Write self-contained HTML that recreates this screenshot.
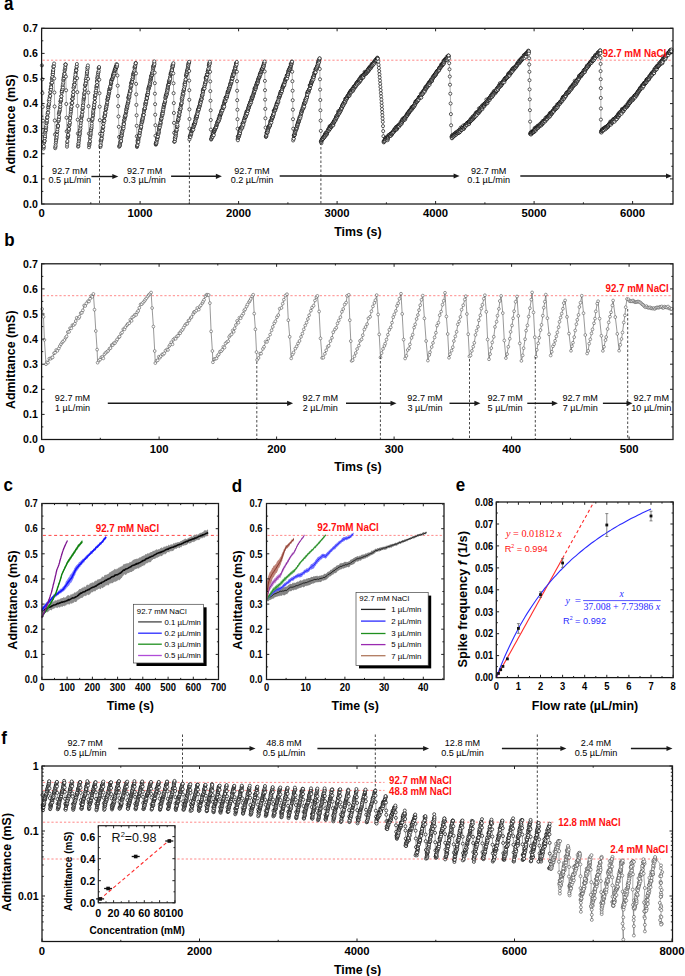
<!DOCTYPE html>
<html><head><meta charset="utf-8"><title>Figure</title>
<style>html,body{margin:0;padding:0;background:#fff;width:685px;height:976px;overflow:hidden;font-family:"Liberation Sans",sans-serif}svg{display:block}</style>
</head><body>
<svg width="685" height="976" viewBox="0 0 685 976" font-family="Liberation Sans, sans-serif"><defs>
<marker id="ma" markerUnits="userSpaceOnUse" markerWidth="6" markerHeight="6" refX="3" refY="3" overflow="visible"><circle cx="3" cy="3" r="1.55" fill="#fff" stroke="#000" stroke-width="0.62"/></marker>
<marker id="mb" markerUnits="userSpaceOnUse" markerWidth="6" markerHeight="6" refX="3" refY="3" overflow="visible"><circle cx="3" cy="3" r="1.4" fill="#fff" stroke="#4a4a4a" stroke-width="0.55"/></marker>
<marker id="mf" markerUnits="userSpaceOnUse" markerWidth="6" markerHeight="6" refX="3" refY="3" overflow="visible"><circle cx="3" cy="3" r="1.5" fill="#fff" stroke="#000" stroke-width="0.65"/></marker>
<marker id="mf2" markerUnits="userSpaceOnUse" markerWidth="6" markerHeight="6" refX="3" refY="3" overflow="visible"><circle cx="3" cy="3" r="1.5" fill="#fff" stroke="#333" stroke-width="0.5"/></marker>
</defs><rect width="685" height="976" fill="#fff"/><text x="0" y="0" font-size="17" font-weight="bold" transform="translate(4 10.2) scale(1 1.15)">a</text>
<line x1="42.6" y1="60.2" x2="672" y2="60.2" stroke="#ff6b6b" stroke-width="0.8" stroke-dasharray="2.2 2"/>
<path d="M41.9 65.4 42.2 79.3 42.4 93.1 42.7 106.9 43 120.7 43.2 134.5 43.6 148.5 43.6 147 43.8 146.2 44.1 142.9 44.2 141.6 44.4 140.7 44.6 141 44.8 137.7 44.7 138.2 45 136.1 45.2 133.6 45.3 132 45.6 130.7 45.9 130.1 46.1 127.7 46 127.3 46.2 125.6 46.5 123.3 46.5 122.9 46.9 121.5 47 120.4 46.9 117.9 47.4 116.8 47.4 117.3 47.5 114.2 47.8 112.3 48.1 112.6 48.3 109.3 48.4 107.3 48.3 107.1 48.6 105.3 48.7 104.8 48.9 103.9 48.9 100.5 49.4 101.6 49.6 97.7 49.4 99.3 49.8 95.9 50.2 95.9 50.2 92.6 50.4 92 50.6 89.4 50.8 89 51.1 89.5 51.1 86 51.2 87.2 51.2 83.4 51.7 83 52 82.6 51.9 79.7 52.2 78.5 52.4 77.4 52.4 76.8 52.6 74 52.9 74.3 52.9 71 53.1 72.1 53.3 69.8 53.4 67.1 53.5 65.9 53.9 66.4 54.1 63.5 54.2 78.5 54.4 92.5 54.6 106.5 54.8 120.5 55 134.5 55.2 148.2 55.4 146.9 55.6 145.7 55.7 143.6 56 141.9 56.1 139.4 56.2 140 56.5 138.2 56.6 137 56.4 133.6 57 134.8 57.1 132 57.3 131.3 57.4 129.2 57.7 125.8 57.8 127 57.9 125.3 58.1 126 58.2 121.3 58.6 120.8 58.8 118.6 58.8 119.4 59.1 116.8 58.8 114.1 59.2 112.7 59.3 111.6 59.8 110.6 59.9 109.5 60 107.3 60.4 106.6 60.3 104.2 60.4 101.3 60.7 101.5 61 100.8 61.1 99.4 61 99.5 61.3 96.2 61.4 96.3 61.8 92.9 61.8 91.3 61.9 91.2 62.4 89.2 62.6 89.3 62.6 86.3 62.9 87.5 62.9 84.5 63.2 82.7 63.2 80.4 63.6 79.3 63.6 77.7 63.9 78.3 64 76.2 64.1 73.7 64.3 75.6 64.6 73.9 64.6 70.6 64.9 69.6 65.2 68.2 65.3 67 65.5 64.3 65.6 64.8 65.6 64.6 65.9 76.6 66.1 90.3 66.3 104 66.5 117.7 66.7 131.3 67 146.7 67.1 144.6 67.2 142.2 67.4 141.1 67.6 137.6 67.9 137.2 67.8 136.4 68.2 135.3 68.2 134.8 68.5 131 68.7 130.4 68.7 128.8 68.9 128.9 69.1 125.3 69.2 125.5 69.5 124.6 69.7 122.9 69.9 122.5 69.8 119.5 70.1 116.9 70.2 118.1 70.5 114.5 70.8 112.6 70.9 111.3 71.1 109.3 71 108.7 71.5 106.9 71.5 106.6 71.5 103.2 72.2 103.1 72.2 102.9 72.2 99.1 72.5 98.9 72.6 98.8 72.9 96.4 72.9 95.3 73.1 94.8 73.3 91.7 73.4 91.9 73.8 87.4 73.5 87.9 74 86.5 74.2 84.2 74.4 84.4 74.6 84.7 74.6 81.4 75 79.2 74.9 80.2 75.2 77.4 75.2 76.7 75.6 73.1 75.5 74.7 76 70.8 76.1 69.4 76.2 70.5 76.3 70.3 76.6 67.1 76.7 66.4 76.9 64 77.1 78.2 77.3 92.1 77.5 105.9 77.7 119.7 77.9 133.5 78.1 146.7 78.4 146 78.3 144.2 78.6 143.3 78.8 141.3 79 139.7 79 138.3 79.4 136.3 79.5 134.8 79.5 133.3 79.8 133.8 80.1 131.5 79.8 130.1 80.5 128.6 80.3 126.5 80.7 125.4 80.9 122.8 81.1 120.5 81.3 120.3 81.5 117.4 81.4 116.5 81.8 116 82 114.7 82.2 112.4 82.5 111.7 82.4 109 82.9 108.5 82.8 107.5 82.9 104.9 83.1 105.3 83.4 102.5 83.4 100.7 83.7 99.2 83.8 98.4 84 97.3 84 96.6 84.1 94.3 84.2 93.3 84.7 92.1 84.8 89.6 84.8 88.8 85.2 85.6 85.2 84.9 85.3 84.6 85.8 82.4 85.8 83.3 85.8 79.7 86.1 80.5 86.2 78.1 86.6 76.1 86.8 74.2 87 72.1 87 73.2 87.1 71.6 87.4 69.3 87.4 67.5 87.7 67.6 87.9 65.4 88.1 78.9 88.3 92.6 88.5 106.2 88.7 119.9 88.9 133.6 89 147.3 89.3 145.2 89.4 144.4 89.3 143 89.8 142.2 90 141.2 90 138.3 90.3 137.2 90.6 135.1 90.5 134.1 90.8 132.7 91 130.5 91 130.3 91.3 128.6 91.5 127.8 91.7 125.8 91.8 123.5 92 120.5 92.2 120.1 92.1 118.7 92.6 118.9 93 116.3 93 115.1 93.2 113.3 93.2 112.1 93.3 110.7 93.5 108.7 94 108.1 93.9 107.1 94.1 104.5 94.3 104.8 94.5 102.2 94.8 102 94.8 98.5 94.9 98.3 95 95.9 95.2 95.2 95.6 95 95.7 91.9 95.9 92.3 96 90.4 96.3 87.6 96.6 88.1 96.6 86.2 96.7 85.4 97.1 85.1 96.9 81 97 82.2 97.3 78.5 97.5 78.2 97.6 76.9 97.7 75.4 98.1 74.2 98.2 72.4 98.4 72.3 98.8 70.6 98.7 68.2 98.8 67.9 99.1 67 99.3 79.7 99.5 93.2 99.7 106.7 99.9 120.2 100.1 133.8 100.4 147 100.7 145.4 100.6 145.2 100.6 140.8 101 142.5 101.2 140.6 101.4 139.6 101.6 138.1 101.6 138.5 101.7 135.6 102.1 135.3 102.3 133.7 102.4 131.3 102.5 130.3 102.7 130.8 102.8 127.9 103.1 127.2 103.3 126.7 103.3 123.2 103.5 123.5 103.8 121.2 103.8 120.6 104.1 120.3 104.4 120.7 104.2 117.3 104.6 116.3 104.8 115.5 104.9 116.1 105 112.5 105.1 113.6 105.5 112.8 105.7 109.2 106.1 109.4 105.9 109.1 106.2 107.2 106.2 107.5 106.5 105.4 106.6 105.9 106.9 104.2 107 102.9 107.3 102.2 107.3 99.7 107.4 99.3 107.8 99.1 107.8 96.9 108 97.4 108.2 97.8 108.4 96.2 108.3 95.8 108.7 93.9 109 93.6 109 92.5 109 91 109.4 91.3 109.5 89.1 109.6 88.8 110.1 88 110.4 88.2 110.2 87.4 110.5 85.9 110.3 86.4 110.9 84.1 111.2 83.4 111.1 83 111.3 81.7 111.3 80.4 111.2 81.5 111.7 79.8 112.2 79.1 112.1 79.2 112.2 79 112.5 78.5 112.7 77.3 112.9 76.9 113 75.8 113.1 75 113.5 76.1 113.4 74.1 113.7 73 114 74.8 114.1 72.6 114.2 72.2 114.5 73.2 114.5 71.3 114.7 70.6 114.8 69.8 114.8 70 115.3 69.9 115.3 67.9 115.7 68.7 115.8 68.5 115.9 66.3 116 66.3 116.2 66.8 116.5 66.5 116.5 64.1 116.8 66.4 117 66.5 117.1 64.7 117.4 75.5 117.7 85.7 118 96 118.2 106.2 118.5 116.5 118.8 126.8 119.1 137 119.2 146.8 119.4 145.7 119.7 146 120 144.8 120 143.5 120.4 142.2 120.5 141.7 120.6 139.7 121.1 141 120.7 137 121.2 138.1 121.4 136.2 121.3 136.4 121.7 135.2 121.7 135.3 121.7 133.5 122.1 132.7 122.2 131.2 122.4 131.5 122.6 129.8 122.9 128.9 123.2 126.9 123.1 127.7 123.6 128.3 123.5 125.9 123.5 123.9 123.8 123 124 124.1 124 120.6 124.4 120 124.6 119.4 124.7 117.8 124.8 117.3 124.9 116.5 125.4 116.3 125.4 115 125.5 115.5 125.8 113.4 126 112.3 126.2 111.8 126.2 111.2 126.4 109.2 126.5 109.4 126.8 108.5 126.8 107.1 127.1 106.1 127.4 106.5 127.4 105 127.8 103.1 127.8 103.6 128.2 102.9 128.3 101.6 128.4 100.9 128.1 97.5 128.7 99 128.7 97.8 129 95 129.2 97.4 129.4 96.6 129.5 94.8 129.7 92.3 129.6 93.7 130.1 90.6 130.3 91.5 130.4 89.5 130.5 91 130.8 87.4 130.6 86.6 131.1 86.3 131.1 83.4 131.4 85.1 131.5 83.1 131.6 82.1 131.8 82 132 81.2 132.3 81.9 132.3 79.4 132.7 78.6 132.7 78.8 133 76.7 132.8 76.6 133.3 74.4 133.4 74.6 133.5 73.5 133.7 73.8 133.8 72.6 134.2 72.3 134.3 71.6 134.5 70.5 134.6 67.5 134.8 68.6 134.7 67 135.1 66.8 135.3 65.8 135.6 63.9 135.7 63 135.8 63.2 136 73.4 136.1 83.9 136.2 94.4 136.4 104.9 136.6 115.3 136.7 125.8 136.8 136.3 137 147 137 146.1 137.3 145.3 137.5 145 137.7 142.8 137.5 140.6 137.8 141.7 138.5 139.8 138.4 142 138.5 138.4 138.4 137.5 138.9 136.4 139 136.3 139.2 134.9 139.3 134.4 139.6 135.7 139.8 132.7 139.9 132.7 140.1 130.6 140.5 129.2 140.2 130.2 140.8 127.8 140.9 126.9 140.9 127.4 141 125.2 141.2 126.7 141.7 122.1 141.5 124 141.7 122.3 142 120.5 142.3 121.8 142.3 120.5 142.5 119.2 142.6 118 142.6 119.1 142.9 117.7 143.2 115.8 143.4 114.4 143.4 114.8 143.7 115.1 143.9 112 144 111.7 144.2 109.9 144.4 109.2 144.7 108.9 144.7 108.7 144.8 108.1 145.3 105.2 145.3 105.7 145.5 103.8 145.4 103 145.8 103.8 145.9 101.1 146.1 102.3 146.2 101.3 146.4 98.6 146.9 99.1 146.8 97.2 147 98 147.2 95.2 147.3 94.7 147.4 94.5 147.8 93.8 147.8 94.6 147.9 92.3 148.2 92 148.4 89.1 148.3 89.8 148.7 87.6 148.7 88.5 148.9 87.7 149.2 86.8 149.4 86 149.7 85.9 149.5 85 149.8 83.8 150 83.7 150.1 81.7 150.6 81.3 150.5 79.8 150.7 79.5 151 78.8 150.8 78.1 151.1 77.2 151.3 75.8 151.8 75.4 151.6 75.7 151.6 75.2 152.1 74.8 152 73 152.5 72.9 152.6 71.5 152.9 69.7 153.1 67.5 153.1 68.3 153.5 66.1 153.5 67.2 153.6 65.8 153.7 65.8 153.8 65 154.2 62.7 154.5 64 154.3 61.4 154.7 72.7 154.8 83.2 154.9 93.7 155.1 104.2 155.2 114.7 155.4 125.2 155.5 135.8 155.8 144.7 155.7 143.6 156.1 144.1 156.2 143.5 156.2 141.9 156.4 143.1 156.7 141.6 156.9 139.9 157 139.4 157.4 138.9 157.4 137 157.8 137.1 157.8 136.5 157.9 134.1 158 133.6 158.3 132.6 158.5 134 158.8 132.6 158.8 131.5 158.9 129.8 159.1 129 159.3 127.8 159.1 127.4 159.6 125.7 159.8 127.5 160.1 124.6 160.3 125.2 160.6 123.5 160.6 122.7 160.5 122 161 119.9 161.1 118.7 161 119.7 161.3 119 161.6 118.3 161.7 116.4 161.9 115.7 162.1 114.9 162.1 113.4 162.6 114.7 162.7 112.5 162.7 113.2 162.7 110.9 163.2 110.6 163.4 108.4 163.3 109.3 163.7 107.2 163.6 106.7 164 105.4 164 104.8 164.4 104.2 164.2 104.1 164.7 102.5 164.9 102 165 101.7 165.2 100.6 165.3 98.2 165.7 97 165.7 97.3 165.8 95.6 165.9 96.4 166.3 95.1 166.4 94.3 166.5 94.1 166.8 94.4 166.7 92.7 166.9 92.2 167.3 90 167.5 91.1 167.5 88.4 167.6 89.7 167.9 88.1 167.8 87.1 168 85.8 168.3 84.4 168.5 85 168.9 84.1 169 82.1 168.9 81.8 169.2 81.7 169.5 81.3 169.5 80.3 169.5 79.8 170.1 77.6 170 77.2 170.3 78.9 170.5 74.7 170.8 74.2 170.7 73.2 171.1 72.5 171.1 74 171.3 73.1 171.4 70.6 171.8 72.2 172 69.2 172.1 70 172.4 66.2 172.4 67.5 172.6 66.6 172.7 64.8 172.9 66.2 173.1 64.6 173.4 63.2 173.3 73.4 173.5 83.3 173.6 93.2 173.8 103.1 173.9 113 174 122.9 174.2 132.8 174.2 141.8 174.7 141.5 174.7 141.2 175 138.7 174.8 138.3 175.2 138.9 175.6 136.5 175.6 136.6 175.5 134.2 175.9 134.6 176 133.3 176.1 131.5 176.3 130.5 176.6 130.5 176.7 129.5 176.9 126.6 177.1 127.2 177.3 126.4 177.4 126.3 177.4 124.6 177.6 121.6 178 120.7 177.9 120 178.4 119.3 178.4 119.4 178.6 116.2 178.6 117.8 178.9 116.1 179.3 115.4 179.3 114.9 179.3 112.3 179.8 111.7 179.6 112.9 179.7 111.7 179.9 109.4 180.4 108.4 180.4 109.3 180.7 108.7 180.7 106.7 181 105 181.1 104.5 181.3 103.7 181.5 103.3 181.6 103 181.8 98.7 182 100.6 181.9 99.4 182.4 98.3 182.5 96.3 182.5 96.6 182.8 93.6 182.7 94.7 183.4 94.2 183.3 93.1 183.5 90.9 183.5 90.5 184 90.2 184.1 89 184.1 88.9 184.5 86.3 184.6 86.6 184.6 84.4 184.7 83.4 185 83.6 185.2 84.4 185.2 82 185.6 80.5 185.8 79.6 185.7 79.4 186.1 76.1 186.1 75.7 186.4 74.9 186.6 74.2 186.6 72.8 186.7 73.8 187 71 187.1 72.1 187.2 70.7 187.5 69.6 187.6 69 187.9 67.6 188.1 66.6 188 65.5 188.3 65.4 188.4 63.4 188.7 63.8 189 62.6 189.2 61.8 189.2 71 189.2 80.6 189.3 90.2 189.3 99.8 189.4 109.4 189.5 119 189.5 128.6 189.4 139.5 189.8 136.7 190 136.8 190 136.4 190.2 135.5 190.5 134.9 190.5 137 190.8 133.8 191 134.7 191.1 134.2 191.3 133.2 191.5 131.5 191.9 130.6 191.9 130.3 192 131.1 192.1 130.9 192.3 130.3 192.6 128.3 192.4 129.6 192.8 128.7 192.9 129.1 193.3 129.6 193.7 127.1 193.5 126.5 193.7 124.7 193.8 125.3 194.2 125.4 194.4 123.4 194.4 124.1 194.7 124 194.8 123.9 195.1 121.1 195.2 122.4 195.1 121.6 195.5 121.6 195.5 118.4 195.7 119.9 196 116.5 195.9 118.6 196.4 118.1 196.4 115.3 196.5 116.9 196.9 117.4 197.1 116.1 197 116 197.2 113.7 197.4 112.7 197.7 113.8 197.6 111.4 198 109.9 197.9 110.2 198.3 110.9 198.3 108.7 198.4 109.8 198.9 108.7 198.9 109.3 199.3 106.7 199.3 106 199.4 107 199.7 105.9 200 104.7 199.9 103.8 200.3 102 200.3 102.6 200.4 103.7 200.6 100.6 200.9 101.9 201.1 99.9 201.4 98.9 201.5 99.5 201.6 99 201.7 97.3 201.9 95.9 202.2 95.1 202.2 95.3 202.3 95.4 202.6 94.2 202.8 90.8 202.8 92 203 92.6 203.1 91.1 203.4 89.2 203.3 89 203.8 89.2 204 88.3 204.1 87.5 204.2 88.7 204.5 88.4 204.6 85.4 204.7 85.7 205.2 82.6 205.3 83.6 205.1 84.2 205.4 82.5 205.7 81.8 205.7 77.9 206 79.8 206.3 79.1 206.2 76.8 206.5 77.5 206.5 76.6 206.6 77.7 207 74.9 206.9 74.6 207.3 74.2 207.4 74.3 207.7 71.7 207.9 71.6 208 71.3 208.3 70 208.3 69.3 208.5 68.6 208.8 65.7 209.2 66.6 208.9 64.9 209.3 64.7 209.5 62.9 209.4 63.1 209.8 63.7 209.8 61.7 210.1 71.8 210.2 81.4 210.3 91.1 210.5 100.7 210.7 110.3 210.8 120 210.9 129.6 211.1 139.6 211.3 138.8 211.3 138.7 211.8 136.9 211.9 137.7 212 136.8 212 136.3 212.4 135.8 212.7 136.7 212.9 133.7 212.9 133.3 212.9 135 213.2 135 213.4 133.8 213.8 135.2 213.6 131 213.9 131.9 214 131.9 214.1 131.8 214.3 131.1 214.4 130.5 214.7 130.3 214.7 129.4 215.1 129.1 215.1 128.5 215.3 129 215.7 127.5 215.6 127.9 215.9 127 215.9 127.6 216.3 126.5 216.3 127 216.4 125 216.8 124.9 216.8 124.7 217 124.2 217.1 123.4 217.2 122.3 217.6 122.9 217.7 121.4 217.8 121.4 218.3 120.7 218.3 121.3 218.5 121.3 218.6 118.9 218.8 120.5 219.1 118 218.9 117.8 219.4 118.7 219.6 118.7 219.7 115.5 219.7 115.7 219.9 117.3 220.1 115.9 220.3 114.6 220.5 114.6 220.9 114.3 220.8 113.4 220.9 113.5 221.2 111.6 221.2 113.3 221.4 111.9 221.5 110.4 221.8 110.4 222 111.4 222.2 109.9 222.4 109.7 222.4 110.3 222.8 107.7 222.8 107.9 222.8 106.4 223.3 107.6 223.2 105.8 223.7 107.5 223.6 105.2 224 104.8 224.2 106.6 224 103.1 224.2 102.6 224.6 101.8 224.6 100.3 225 101.7 225 101.8 225.2 101 225.5 101.1 225.6 99.2 225.7 97.6 225.8 97.5 225.8 97.4 226.2 97.4 226.3 97.5 226.5 96.8 226.7 97.9 226.9 95.9 227.1 95.8 227.2 93.7 227.6 94.3 227.7 92.4 227.7 91.7 228.1 92.3 228.1 92.1 228.3 90.8 228.6 90.8 228.7 90.2 228.9 88.5 228.8 88.3 229.1 89.5 229.5 87.4 229.5 88.3 229.6 87.5 229.9 86.4 230.1 85.4 230.3 85.9 230.3 83.7 230.4 83.5 230.6 84.3 231.2 83.4 231.2 82.7 231.2 81.5 231.3 80.4 231.6 79.7 231.8 81.3 231.9 78.9 232 77.4 232.3 77.8 232.5 78.4 232.4 78.3 232.6 76 232.7 76 232.9 75.3 233 74.4 233.4 73.8 233.6 73.5 233.6 72.9 233.9 74.7 234 72.6 234 70.8 234.3 71.3 234.6 71 234.7 69.6 235 69.7 235.2 68.8 235 67.2 235.4 68 235.7 66.1 235.9 65.1 235.9 65.6 236.1 63.9 236.1 63.1 236.4 62.8 236.7 64.5 236.8 61.9 236.9 71.7 237 81.2 237.1 90.7 237.2 100.2 237.4 109.7 237.5 119.2 237.6 128.7 237.6 139.2 237.8 136.4 237.9 140.3 238.2 137.8 238.3 136.7 238.7 136.6 239 136.6 238.8 135.3 239.1 133.7 239.3 134.8 239.3 135 239.5 132 239.8 133.6 239.9 131.2 240 133.1 240.3 130.7 240.4 128.9 240.6 130.5 240.7 128.5 240.6 127.9 241 127.9 241.4 127.7 241.4 128.7 241.7 127 241.7 127.5 242.3 127.9 242.1 125.9 242.4 126.6 242.6 125.2 242.6 123.5 242.7 123.2 242.9 123.6 243.2 123.9 243.5 122.5 243.4 124.8 243.6 122.2 243.9 120.5 243.9 120.4 244.2 119.5 244.3 121.1 244.4 120.2 244.7 118.4 244.7 117.9 244.9 117.7 245.3 116.7 245.5 115 245.5 116.8 245.7 116.4 246 113.4 245.9 116.6 246.3 115.3 246.4 113.7 246.5 111.6 247 113.5 246.8 111.9 246.9 113.5 247.2 113.4 247.5 110.8 247.5 110.4 248 110.5 247.9 110.9 248.2 108.9 248.3 108.7 248.4 107.2 248.6 107.8 248.7 107.8 249 106.7 249.3 104.8 249.3 105.9 249.5 104.8 249.6 104.5 249.7 104.5 250.1 102.8 250.2 102.5 250.2 102.4 250.5 103.7 250.6 101.5 251 102 251.2 102.3 251.4 99.6 251.3 100.4 251.5 99.7 251.6 99 251.7 97.3 252.1 98.3 252.1 97.8 252.3 96.5 252.5 97.5 252.9 96.1 253 96.4 253 95.6 253.2 94.7 253.6 93.2 253.7 94 253.8 92.1 254 93.2 254.1 92.1 254.3 91.8 254.5 90.1 254.7 90.8 254.6 88.8 254.7 88.3 255.1 88.7 255.3 87.4 255.3 88.6 255.7 88.8 255.7 87.4 255.8 86.3 256 86.6 256.4 84.3 256.2 85.4 256.6 84.6 256.8 84 257 84.1 257.1 82.6 257.2 83.2 257.3 81.8 257.5 82.1 257.9 82.7 258 81 258 79.7 258.3 80.1 258.3 78.8 258.7 78.4 258.9 77.4 259.2 77.6 259.1 77.6 259.2 77.4 259.3 76.7 259.7 76.2 259.8 74.8 259.9 74 259.9 74.8 260.2 74.9 260.6 72.5 260.7 74.2 260.8 72.4 261 72.3 261 72.3 261.5 71.4 261.5 69.6 261.7 71 261.9 69.1 262.1 69.9 262.3 69.1 262.2 68.8 262.6 67.9 262.7 68.4 262.9 66.2 263.3 67.1 263.4 65.3 263.6 66.4 263.5 66.5 263.9 64 263.8 64.9 263.9 63.5 264.3 62.6 264.5 63 264.6 61.5 264.7 71.5 264.9 80.9 265 90.2 265.1 99.6 265.3 108.9 265.4 118.3 265.6 127.6 265.9 136.5 265.9 136.9 266.2 136.4 266.3 135.8 266.4 134.8 266.5 133 266.8 132.7 266.9 132.3 267.2 132.1 267.3 132.9 267.4 132 267.5 130.3 267.5 132.3 267.8 130.7 268.2 129.8 268.3 127.9 268.3 128.5 268.8 127.8 268.5 126.7 269.1 126.6 268.9 126.1 269.3 126.6 269.4 125.5 269.7 126.1 270 125.9 270 124.3 270.1 124.9 270.1 122.7 270.3 121.1 270.6 123.3 270.9 121.4 271 121.6 271.1 121 271.4 122.5 271.5 119.6 271.7 119.8 271.8 118.8 271.8 117.4 272 117.6 272.5 117.6 272.5 117.7 272.8 116.8 272.7 116.7 273 114.9 273.3 115.1 273.3 115.1 273.6 113.7 273.8 113.8 273.8 111 273.8 110.8 274.2 110.7 274.3 111.3 274.4 111.4 274.9 110.7 274.9 108.9 275 109.9 275.4 109.9 275.4 107.9 275.5 108.4 275.8 106.3 276 107.8 276.2 107.4 276.2 106.8 276.5 105.1 276.5 104.2 276.9 103.2 277 104 277.1 104.2 277.3 104.2 277.6 102.4 277.7 101.3 277.8 101.9 278 101.4 278.2 102.3 278.2 101.5 278.4 99.7 278.6 97.8 279 97.4 279 98.6 279.1 96.6 279.3 97.2 279.5 96.7 279.8 96.2 279.9 94.6 280.1 95.2 280.1 95.1 280.2 93.4 280.4 93.1 280.6 91.9 281 92.2 281.2 93.3 281 92.7 281.5 90.9 281.2 91.2 281.7 90.6 281.8 90.4 282 91.1 282.4 87.6 282.3 89 282.7 87.8 282.6 87.1 282.9 87.1 283.2 85.5 283.4 85.8 283.6 86.1 283.6 85.7 283.6 84.1 283.7 85 284.1 83.8 284.3 83.7 284.4 84.8 284.6 82.4 285 81.4 284.8 81.9 285.1 81.6 285.2 80.1 285.3 79.3 285.7 79 286 78.8 285.9 79 286.2 77.9 286.3 79 286.6 78 286.7 75.7 286.8 76.5 287.1 78.5 287.2 75 287.2 75.4 287.6 74.7 287.8 74.2 287.8 75.8 288 72.9 288.1 74.1 288.2 71.2 288.4 72.6 288.8 71.8 288.6 70.4 289 69.2 289.4 70.4 289.2 69.6 289.5 69.6 289.7 69.4 289.9 67.4 290.4 68.8 290.2 68 290.5 66.7 290.6 66.6 290.7 64 290.9 66.3 291 65.6 291.3 64.3 291.5 64.2 291.4 63.7 291.7 62.4 291.9 61.6 292.1 61.7 292.2 71.7 292.4 81.2 292.6 90.7 292.7 100.2 292.9 109.7 293 119.2 293.2 128.7 293.1 140.5 293.6 138.6 293.7 138.7 293.9 135.7 293.9 135.5 294.2 135.5 294.4 134.6 294.4 134.6 294.7 134.4 294.7 134.8 294.9 133.2 294.9 132.5 295.3 132 295.3 130.5 295.7 130.9 296 129.7 295.9 128.7 296.2 128.5 296.5 129.2 296.4 128.5 296.6 127.8 296.9 126 297.1 125.2 297.3 126.3 297.3 125.8 297.6 124.9 297.7 123.2 297.9 123.4 297.9 124.2 298.3 122.8 298.5 121.8 298.5 121.5 298.6 120.7 298.9 121.6 299 121.2 299.2 120.1 299.3 118.9 299.4 118.7 299.7 117.7 299.6 117 300.1 117.5 300.2 118.3 300.5 115.7 300.7 116.5 300.7 114.6 301 113.5 301.1 113.6 301.3 112.6 301.5 111.6 301.6 112.6 301.8 110.7 302 110.7 301.9 110.6 302.4 109.8 302.4 109.3 302.7 107.9 302.8 108.9 302.9 107.6 303.4 108.2 303.5 105.7 303.6 105.1 303.8 107.2 303.9 104.2 304.2 106.4 304.1 103.1 304.5 103.6 304.7 103.3 304.8 102.6 304.7 102.1 305.4 102.5 305.4 100.9 305.6 99.6 305.5 99.6 305.5 99.6 306 99.2 306.1 100.4 306.4 97.3 306.3 98.3 306.5 98.6 307 96 307.1 97 307 95.1 307 93.1 307.5 94.5 307.8 92.1 307.8 91.5 308.1 92.1 308.2 92 308.2 92 308.7 92.4 308.4 91.3 308.8 90.1 309.2 89.7 309.1 89.4 309.3 89.5 309.5 88.7 309.7 85.2 310 88.1 310.1 86.1 310.3 85.7 310.5 85.2 310.7 84.4 310.7 85.2 311 84.9 311 83.1 311.5 82.8 311.2 81.7 311.6 82.4 311.7 81.8 311.9 80.3 312.1 81.7 312.2 80.4 312.2 80.3 312.5 80.4 312.4 79.7 312.8 77.3 313.1 78.4 313.4 79.4 313.5 77.5 313.6 76.7 313.7 75.7 313.7 76.9 314.2 74.8 314.3 74.8 314.5 73.7 314.4 72.5 314.7 72.6 314.8 72.6 315 72.5 315.6 72.3 315.4 69.4 315.5 69.7 315.6 72.3 316.1 69.3 316 68.9 316.2 68.6 316.4 69.1 316.5 67.8 316.7 67.7 317.1 66.2 317.4 66.1 317.3 66.9 317.5 66 317.7 64.4 317.8 63 318 64.6 318.1 62.8 318.5 61.8 318.6 63.3 318.5 60.7 318.8 60.9 319.2 61.8 319.1 59.9 319.4 59.3 319.6 58.5 319.6 58.3 319.8 69 320 79.3 320.1 89.6 320.3 100 320.4 110.3 320.6 120.6 320.8 130.9 320.9 141.6 321.4 143.2 321.1 141.1 321.4 141.9 321.5 140.2 321.6 140.3 321.9 140.3 322.2 140 322.3 139.4 322.6 138.7 322.6 138.3 322.7 138.6 323 138.5 323.1 137.8 323.1 138.8 323.6 137.3 323.4 137 323.8 137.2 324 137.5 324 136.7 324.4 137.3 324.3 135.8 324.8 136.6 324.8 135.1 324.9 134.1 325.3 135.9 325.4 134.9 325.4 134.5 325.6 135.2 325.7 133 326 132.7 326.2 134.4 326.2 132.9 326.6 134.7 326.8 133.7 326.8 134.1 326.8 133 327.2 132.3 327.2 132.3 327.3 131.4 327.8 130.9 328 129.8 328.1 130.6 328 130.6 328.5 129.2 328.4 130.3 328.8 128.7 329 130.5 329.1 127.9 329.2 128.8 329.6 129.3 329.6 126.2 329.9 128.5 330 128.3 330 127.2 330.3 128.4 330.5 126.7 330.4 126.1 330.7 126.5 331 126.5 331.1 127.1 331.3 127 331.4 126.5 331.5 125.5 331.7 124.5 332 124.5 332.1 125.7 332.3 125.3 332.7 124.6 332.9 124.5 332.6 123.5 333.1 125.4 333.3 124.9 333.4 122.3 333.5 123.1 333.6 122.4 333.8 122.8 333.9 121.2 334 121.5 334.2 122 334.6 121.3 334.6 120.6 334.8 120 335.1 119.9 334.9 119.4 335.5 120.5 335.9 119.3 335.6 119.1 336 117.4 336.1 116.7 336.3 118 336.3 118.2 336.5 117.7 336.7 116.3 336.8 116.3 336.7 115.6 337.3 116.1 337.6 116.4 337.8 115.1 337.9 114.2 337.8 114.7 338 114.5 338.2 113.8 338.2 111.3 338.5 112.4 338.9 113.2 338.8 112.7 339.1 112 339.3 113.6 339.4 112.5 339.7 111 340.1 111.3 339.9 110.4 340.1 110.2 340.1 111.8 340.8 110.8 340.6 109.5 341 109.5 341.2 108.7 341.4 107.8 341.4 108.2 341.5 108.1 341.6 108.8 341.8 107.8 342.1 105.8 342.3 105.5 342.5 105.4 342.7 106.3 342.6 105.7 343.2 104.2 343.3 105.6 343.1 103.8 343.4 103.9 343.5 103.5 343.7 104.5 344 102.5 344.2 102.3 344.2 103.3 344.6 101.9 344.7 101.8 345.1 101.4 344.9 102.9 345.1 99 345.3 102 345.3 101.3 345.8 99.7 345.9 99.2 346 98.5 346.1 99.6 346.2 98.3 346.4 98.8 346.5 99.2 346.7 97.8 347.2 97.5 347.1 97.1 347.1 98 347.3 96.5 347.5 96.3 347.8 96.2 347.9 95.3 348.2 96.2 348.6 95.6 348.4 95.6 348.7 95.4 348.9 94.7 349.4 95.8 349.2 93 349.4 95.2 349.2 93.7 349.5 93.7 350.1 93.2 349.8 92.5 350.3 92 350.4 93.1 350.5 91.4 350.6 92.3 350.6 91.2 350.9 90.7 351 90.9 351.3 92.1 351.3 90.5 351.6 90.4 351.9 89.7 352.1 90 352.2 88.8 352.7 90 352.7 89.7 352.8 90 352.9 91 352.9 89.5 353.4 89.9 353.2 88.2 353.5 86.9 353.8 88.3 353.7 88.7 354.3 88.2 354.1 86.6 354.5 86.2 354.6 86.5 354.7 86.3 354.9 87.1 355.2 86.4 355.5 86.9 355.4 86.2 355.7 84.9 355.7 85.5 355.8 85.7 356.3 83.8 356.4 83 356.6 84 356.6 83.3 357.2 83.5 356.8 84.9 357.3 84 357.3 82.1 357.5 82.3 357.6 82.4 357.9 82.4 358.4 81.2 358.3 83.3 358.5 81.6 358.7 80.6 358.6 80.5 359.1 82.3 358.9 79.8 359.3 79.5 359.5 82.1 359.7 80.7 359.6 80.3 359.9 80.8 360 78.6 360.6 80.6 360.5 77.5 360.4 79.2 360.8 79.8 360.8 77.4 361.1 78.2 361.3 78.2 361.4 76.1 361.8 76.9 361.8 77.6 362.1 78.2 362 77.4 362.2 76.7 362.4 77.4 362.6 75.2 362.6 75.7 363.2 77.5 362.9 76.1 363.4 75.6 363.4 76.7 363.5 74.9 364 74.3 363.9 74.4 364.1 74.6 364.4 74.4 364.7 74.4 364.6 71.9 365 73.5 365 73 365.3 73.7 365.4 72.6 365.6 73.6 365.7 72.1 366.2 72 366.1 73.8 366 73 366.5 72.1 366.4 71.7 366.6 72.6 366.8 71.3 367.3 72.3 367.2 71.6 367.3 71.1 367.5 70.5 367.6 69.8 368.2 71.3 368.2 70 368.3 68.8 368.2 69.5 368.7 70.5 368.9 68.6 368.6 70.2 368.9 69.5 369.1 68.4 369.4 67.1 369.7 68.5 369.7 67.6 370.2 67 370.1 68.4 370 68.1 370.6 66.6 370.7 66.1 370.8 68.3 370.8 67 371.3 67.1 371.6 66.3 371.2 65.5 371.8 65 371.7 65.4 371.8 63.9 371.9 65.1 372.1 65.8 372.7 63.8 372.5 64.8 372.9 64.3 372.9 65.3 373.3 63.9 373.4 63.6 373.2 64.4 373.6 63 373.8 63.2 373.9 62.5 374.2 61.5 374.5 62 374.6 61.4 374.6 63.4 375 60.4 375.1 61.2 375.1 61.9 375.6 61.7 375.8 60.8 376 60.4 375.8 60.3 376.1 59.1 376.3 59.3 376.5 60.3 376.4 60.7 376.7 60.3 376.9 60.5 377.4 59 377.3 57.6 377.4 58.1 377.6 58.3 377.8 58.8 378.3 61.6 378.6 64.8 378.9 67.9 379.2 71.1 379.5 74.3 379.7 77.4 380 80.6 380.2 83.8 380.4 86.9 380.7 90.1 380.9 93.3 381.1 96.4 381.4 99.6 381.6 102.8 381.8 105.9 382 109.1 382.2 112.3 382.4 115.4 382.6 118.6 382.8 121.8 383 126.1 383.2 131.1 383.4 136.2 383.7 142.4 383.6 141.3 384 141.2 384.2 141.4 384.5 140.2 384.4 141.4 384.8 140 384.9 140 384.9 141.2 385.1 138.6 385.2 138.1 385.2 139.8 385.7 139 385.8 137.7 385.8 139.4 386.3 139.1 386.5 138.3 386.5 138 386.7 138.1 387.1 139.4 386.9 137.9 387.2 137.8 387.6 137.1 387.6 140.2 387.5 136.4 387.9 138.9 388.1 137 388.1 138 388.5 136.8 388.6 135 388.4 137.1 388.9 135.6 388.9 136.3 389 135.5 389.4 135.8 389.8 135.5 389.7 135.7 389.7 134.7 390.1 135.5 390.1 134.3 390.5 134.3 390.4 135.9 390.8 135.7 391 134.2 391 133.5 391.4 133.2 391.5 133.5 391.7 134.7 391.6 134.3 392 133.6 392.1 133.2 392.3 133.7 392.3 133.3 392.8 132.5 392.6 132.7 393.2 131.1 393.1 132.3 393.8 131.7 393.6 131.5 393.4 131.1 393.6 132.2 394 130.7 394.1 129.5 394.3 130.5 394.9 130.4 394.9 130.1 394.8 129.1 395 129.4 395.2 129.7 395.3 129.5 395.5 128.1 396 128.6 396 128.5 396.2 127.7 396 127.2 396.4 126.8 396.5 129.6 396.7 129.1 396.7 129 397.1 127.4 397.2 128 397.4 127.3 397.5 127 397.5 126.1 397.9 127 398 126.7 398.3 126.5 398.4 125 398.7 126 398.5 125.8 398.9 125.2 399.2 125.6 399.2 124.9 399.2 126.5 399.6 124.5 399.8 124 399.8 124.5 400.1 124.8 400.4 124.6 400.2 124.6 400.4 123.4 400.7 121.8 400.9 122.9 400.9 123.3 401.5 123.9 401.8 121.4 401.7 123.2 402 121.8 402.1 122 402.3 120.7 402.3 120 402.4 119.7 402.3 119.4 402.7 120.5 403.2 120.3 403.2 119.5 403.1 118.5 403.8 120.3 403.4 119.2 403.7 118.9 404.2 117.8 404.4 119.2 404.5 119.2 404.5 117.9 404.7 119.2 404.8 119.7 405.3 119.1 404.9 118.2 405.5 116.7 405.9 117.4 405.8 116.1 405.5 117.1 406.2 115.9 406.1 116.6 406.2 115.9 406.7 115.6 406.8 114.2 407.1 115 407.1 113.8 407.2 115.7 407.3 115.5 407.7 114.4 407.8 113.9 408 114.1 408.3 112.9 408.3 112.1 408.7 113.3 408.7 112.7 409 112.9 408.8 112.7 409.1 112.2 409.3 111.3 409.5 111.6 409.6 111.2 409.6 110.4 409.9 111.3 410.2 110.3 410.3 110.2 410.4 110.9 410.6 110.4 410.9 109.6 411 108.8 411 110 411.4 109.1 411.6 107.3 412 107.3 412.1 109.3 412.3 107.3 412.4 108 412.4 108.1 412.8 107.5 412.9 107.4 412.8 107 413.2 106.6 413.3 107.1 413.3 106.9 413.6 105.9 413.5 106.6 414 105.5 414.1 105.7 414.3 106.3 414.5 104.5 414.6 105.1 414.9 104.3 415 103.9 415.3 104.5 415.2 102.7 415.5 102.9 415.4 103.2 415.5 101.5 415.9 102.4 416.1 101.5 416.4 102.1 416.4 101.6 416.7 101.1 416.8 100.7 416.9 101.2 417.2 101.6 417.6 100.4 417.6 100.7 417.7 99.3 417.9 99.9 417.9 100.3 418.2 98.6 418.2 99.3 418.7 98.9 418.6 99.7 419.1 97.6 419 97 419.1 97.5 419.3 97.3 419.8 97.4 419.7 97 419.9 97 420.1 97.2 420.5 96 420.2 97.9 420.7 97 420.8 93.8 421.1 95.4 421.1 97.2 421.3 97.5 421.4 95.2 421.5 94.3 421.8 93.4 422.3 93.7 422.3 94.2 422.5 94.2 422.5 92.5 422.9 92.3 422.8 91.7 423.1 92.6 423 93.5 423.4 91.7 423.7 90.3 423.7 91.3 423.8 92.3 424 90.8 424.3 90.8 424.2 91.3 424.7 91.7 424.4 90.9 424.8 89.2 425 88.8 425.3 87.6 425.4 88.9 425.6 89 425.6 87 426 89.2 425.8 87.2 426.1 88.3 426.5 87.1 426.4 87.9 426.4 86.5 426.9 86.3 427.2 85 427.2 86.8 427.3 86.3 427.7 85.7 427.7 86.7 428 84.1 428 85.7 428 85.5 428.4 83.6 428.4 84.8 428.7 84.4 428.9 82.4 429.3 83.5 429.2 82.8 429.6 84.8 429.5 82.3 429.6 82.6 429.7 83 430.2 81.7 430.4 81.7 430.5 81.1 430.7 82 430.9 80.1 430.9 79.8 431.3 81.3 431.4 80.8 431.5 80.2 431.6 80 432.1 81 431.7 79.1 432 79.8 432 79.4 432.8 78.1 432.8 78.5 432.7 77.6 432.8 76.9 433.1 78 433.4 76.3 433.4 77.2 433.7 76.8 434.1 76 434 75.7 434.4 76.2 434.4 75.7 434.8 74.2 434.7 74.9 435.1 75.6 435.2 75.2 435.3 75.2 435.4 74 435.6 73.9 435.6 74.7 436.2 73.7 436 73.5 436.3 73.6 436.3 72 436.6 72.2 436.6 72.7 436.8 72.3 436.9 71.5 437.4 70.8 437.7 71 437.4 70.7 437.9 70.9 437.8 71.2 438.2 70.1 438.3 70.5 438.4 70.4 438.8 69.8 438.8 70.7 439 68 439.3 68.9 439.1 69.5 439.3 69.8 439.8 68.1 439.7 68.3 440.1 67.5 439.9 67.3 440 67.7 440.4 66.9 440.9 67.3 440.9 65.5 441.1 66.1 441.2 66.6 441.2 64.4 441.6 66.1 441.8 64.7 441.9 65.9 441.9 65.1 442.2 64.6 442.5 63.7 442.6 64.8 442.6 64.2 443.1 64.1 442.8 63.8 443.4 63.9 443.3 61.3 443.5 63.1 443.8 63.7 444 62.4 444.1 60.3 444.4 61.2 444.4 62.1 444.7 60.2 444.6 61 445 60.2 445.3 59 445.3 59.8 445.4 60.2 445.7 59.8 446 59.3 445.9 59.3 446.4 58.7 446.4 59.7 446.6 58.4 446.6 58.2 447.1 58.5 446.8 56.8 447.2 59.9 447.3 58.2 447.6 58.7 447.6 57.3 448.2 56.3 448.2 55.7 448.3 56.9 448.5 56.4 448.5 55.7 448.6 55.5 449 58.5 449.2 63.2 449.5 69.3 449.8 76.5 450 84.7 450.3 93.7 450.6 103.5 450.9 114.1 451.1 125.3 451.6 136.6 451.7 137.4 451.9 138.3 451.8 136.2 452.1 135.4 452.1 138 452.4 135.8 452.4 135.5 452.9 136.3 453 136.6 453.2 136.3 453.6 135.6 453.6 136.7 453.4 134.6 454.1 135.4 453.5 134.5 453.9 135.4 454.2 134.8 454.3 135.4 454.6 134.6 454.8 135.4 454.8 134.2 454.9 133.6 455.3 134 455.4 132.9 455.5 134.5 455.9 132.3 455.9 134.6 456.4 134.4 456 133.1 456.6 133.2 456.7 133.2 456.9 133.1 456.9 132.7 457.2 132.5 457.3 132.7 457.6 133.3 457.3 131.7 458.1 132.6 457.9 131.3 458.1 130.9 458.7 132.4 458.5 132 458.6 132.8 458.9 132.3 459.2 132.6 459.1 131.3 459.5 131.4 459.5 129.6 460 129.3 459.9 129.4 460.2 131.5 460.3 130.5 460.4 131.5 460.4 129.7 461 129.5 460.8 129.4 460.8 127.5 461.3 130 461.1 129.6 461.7 128.7 462 129.4 462.1 128.2 462.1 129.7 462.6 127.1 462.5 127.1 462.5 127.9 462.7 127 462.7 127.6 463.4 128.7 463.3 127.3 463.5 128.9 463.4 125.4 463.8 128.8 464 127.2 464 127.6 464.4 127.4 464.6 126.3 464.8 126.9 464.9 126.3 465 125 464.9 125.9 465.5 125.4 465.5 125.8 465.5 126.5 466 124.6 465.8 125 466 124.9 466.7 124.7 466.5 124 466.7 123.3 466.9 123.7 466.8 123.4 467.3 123 467 125.2 467.8 124 467.8 123.1 468 122.5 468 123.3 468.3 122.3 468.5 122 468.7 122.6 468.9 121.7 469.1 123.9 469.1 123.7 469.3 122.1 469.4 121.8 469.7 121.1 469.4 121.7 470 121.5 470.2 121.3 470.1 120.8 470.7 119.4 470.6 120.2 470.6 119.2 471.1 120.5 471.1 118.9 471.4 120.1 471.4 120.4 471.3 119.3 471.9 118.4 471.8 117.9 472 119.6 472.6 119.4 472.4 119 472.7 117.8 472.7 116.7 473 116.9 473.2 118.4 473.6 118.4 473.7 117.7 473.6 115.9 473.9 117.4 474.2 117.4 474.1 116.2 474.5 116.7 474.8 117.1 474.7 116.4 475.1 116.4 475.2 114.8 475.2 114.7 475.5 113.7 475.6 114.5 475.8 114.1 475.7 114.6 475.9 112.7 476.1 115.9 476.6 112.4 476.6 114.2 476.4 113.6 477 113.6 476.9 112.2 477 114.8 477.4 112.5 477.6 112.5 477.6 112.7 478 111.9 478.3 111.6 477.9 112.8 478.8 113.1 478.7 112.2 478.9 111.3 478.9 108.5 479 111 479.4 110.5 479.7 111.3 479.7 109.4 479.8 110.2 480.1 111.2 480.1 110.5 480.2 108.7 480.6 109.8 480.6 107.6 480.7 108.1 481.1 108.4 481.3 109.5 481.3 106.9 481.3 107.9 481.7 106.5 482 108.8 481.9 108.7 482.4 109.1 482.3 105.4 482.4 107.5 482.8 107.2 482.7 105.4 482.8 106 483.2 105 483.6 106.5 483.8 105.9 484 104.7 483.9 106 484 104.9 484.1 103.8 484.6 104 484.4 106.1 484.7 105.1 484.9 103.9 485 103.9 485.3 103.8 485.3 103 485.5 103.5 485.5 103.3 486 102.2 486 102.9 486.2 102.9 486.7 103.6 486.4 99.5 486.9 102.9 486.7 101.3 487.2 103.1 487.5 102.9 487.5 101.5 487.5 100.9 487.8 100.8 488 99.5 488.1 100.3 488.2 100.6 488.8 99.9 488.7 98.8 489 98.2 489 99.1 489.2 100 489.1 99.1 489.8 99.7 489.7 98.3 489.8 98.1 490.2 97.7 490.3 98.1 490.3 96.8 490.4 97.3 490.6 96.7 490.8 96.1 491 95.5 491.1 97.3 491.2 95.9 491.7 94.7 491.5 95.6 491.8 95.8 492.1 97 492.1 93.6 492.6 94.5 492.5 95.7 492.8 94.5 492.9 95.4 493.2 94.4 493.2 95.4 493.4 94.3 493.5 93.1 493.7 91.3 494.1 92.6 494.1 92.3 494.2 93.5 494.5 92.1 494.7 92 494.6 92.9 494.9 90.8 495.4 93.1 495.1 92.2 495.3 90.6 495.8 91.9 496.2 91.6 496.4 90.7 496.1 90.4 496.3 90.8 496.5 90.5 496.5 89.3 496.5 90.4 497 88.3 497.2 89.3 497.4 88.2 497.5 88.2 497.7 88.7 498 89.9 497.9 89.5 498.2 87.4 498.6 87.1 498.7 86.1 499 87.5 498.8 87.8 499 86.1 499.1 86.8 499 85.4 499.7 85.3 499.8 86.1 500 86.6 499.9 83.2 500.2 84.3 500.3 85.5 500.4 85.2 501 85.9 501 84.6 501.1 84.1 501.1 85.4 501.6 83.4 501.5 84.7 501.9 84.4 501.9 83 502.1 83.6 502.2 82.9 502.3 82.4 502.7 81.7 502.9 82.8 502.8 82 502.9 82.6 503.3 82.5 503.4 80.4 503.7 81.1 503.9 80.4 504.1 79.8 504.2 81.2 504.3 82.2 504.6 80.1 504.8 80.2 504.7 78.6 505 79.9 505.2 78.9 505.1 78.4 505.7 78.2 505.7 77.8 505.9 78.6 505.8 78.3 506.2 78.5 506.2 78.2 506.5 77.8 506.7 77.3 507 77 507.1 76.8 506.8 77.7 507.5 76.8 507.4 76.6 507.8 77.1 507.9 76.3 508.1 74.8 508.2 73.7 508.5 74.5 508.6 75.6 508.6 75.3 508.8 74.4 509 73.1 509.3 74.6 509.4 74.4 509.4 74.3 509.6 75.5 510 72.1 510 73 510.3 73 510.3 73.8 510.8 73.2 510.9 73.1 511.3 72.5 511.1 71.9 511.4 70.6 511.3 70.7 511.9 70.3 511.7 71.1 512.1 71.7 512.1 70.4 512.5 71.4 512.5 69.5 512.5 68.8 512.7 69.1 512.9 68.4 513.1 68.4 513.5 68.8 513.5 69.7 513.8 69.4 513.8 69 514.2 68.5 514.2 68.9 514.3 68.2 514.5 68.3 514.4 67.3 514.7 67.1 515.4 67.1 515.2 67.6 515.5 66.9 515.3 66.8 515.7 67.5 516 65.8 516.1 66.3 516.4 66.5 516.3 65.5 516.8 65.1 516.5 65.7 516.7 65.6 517.1 64.6 517.3 64.5 517.4 63.2 517.2 65 517.6 63.6 518 63.8 517.8 63 518.3 63.9 518.6 63.1 518.3 63.1 518.5 61.6 519 63.1 519.5 63 519.4 61.7 519.8 62.1 519.5 61.1 519.5 60.3 520 61.6 520 60.8 520.5 59.4 520.5 61.3 520.6 60.8 520.8 59.3 521 60 521.3 60.6 521.5 60.1 521.4 59.7 521.7 57.9 521.7 59.4 522.3 58.2 522.1 58 522.2 59.2 522.5 58.2 522.9 58.4 522.7 58.5 523.1 57.1 523.3 57.6 523.6 58.2 523.8 55.2 524 56.6 524.1 56.5 524.1 56.5 523.9 55.7 524.6 56.1 524.6 58.1 524.8 54.8 525.1 55.2 524.8 54.9 525.2 55.7 525.3 54.6 525.8 54.6 525.9 56.7 526 53.4 526.1 54 526.3 53.5 526.5 54.2 526.6 54 526.6 53.5 526.9 52.5 527.1 53.7 527.5 53.7 527.7 52 527.7 52.7 527.7 52.8 528 51.9 528.1 50.9 528.4 50.6 528.4 52 528.9 51.8 528.9 51.3 528.9 53.5 529.1 58.3 529.2 64.5 529.4 71.8 529.5 80.2 529.6 89.4 529.8 99.4 529.9 110.2 530.1 121.6 530.2 133 530.4 134 530.4 134.1 530.8 134.1 531.1 133 531.1 134.5 531.4 133.9 531.4 132.2 531.5 131.5 531.6 133 531.9 132.9 532.3 131.7 532.1 132.3 532.4 132.3 532.5 132.2 532.7 132.4 532.9 132 533.1 132.5 533.4 130.8 533.3 131.6 533.4 132 533.7 131.4 534 132.1 534 131.8 534.4 131 534.4 128.8 534.6 130.4 534.8 130.1 534.8 127.9 535 129.8 535.2 129.3 535.3 128.9 535.7 127.6 535.9 130.5 535.8 129.3 536.1 128.4 536.3 128 536.5 127.8 536.7 128 536.8 128.5 537.1 127.7 537.5 128.2 537.2 126.4 537.5 126.7 537.6 127.2 537.7 125.9 537.9 127.1 538.4 125.4 538.3 127.8 538.5 126.3 538.6 126.7 538.7 126.1 539.4 125.5 539.5 126.2 539.3 125.5 539.4 125.9 539.8 125.4 539.9 124.6 540.1 126.1 540.3 123.6 540.1 124.9 540.7 125 541 125.2 540.8 124.7 541.1 124.6 541.2 123.2 541.4 125.2 541.8 123.2 542 124.3 542 122.7 542 123.7 542.4 123.7 542.6 122.6 542.6 121.1 543.1 122.5 542.9 123.3 543.1 122.4 543.2 121.8 543.3 120.8 543.4 122.2 543.9 122.5 544 120.7 544.3 120.3 544.3 121.3 544.8 120.4 544.7 120.8 545 119.9 545.2 119.8 545.2 120.8 545.4 121.3 545.6 117.7 545.7 119.3 545.7 119.1 546 119.6 546.1 118.7 546.3 118.7 546.5 119.5 546.9 118.9 547 117 547 118.1 547.2 119 547.6 116.3 547.5 117.2 547.8 117.2 548 117 548.1 117.4 548.4 116.9 548.6 117.4 548.5 116.3 548.8 116 549 116 548.9 116.1 549.3 114.9 549.5 113.9 549.8 116.6 549.9 115.4 550.1 112.9 550.1 115.3 550.4 115.6 550.3 113.6 550.8 113.5 550.7 113.1 550.8 114.1 551.2 114.3 551.5 113.1 551.5 112.7 551.9 113.8 551.8 112.4 551.9 113.1 552 111.6 552.4 111.5 552.3 112 552.9 111.2 552.7 112 553.1 110.3 553.4 111.4 553.4 110.9 553.4 110.8 553.6 110.1 553.8 111.5 554.2 108.9 554.4 108 554.4 108.2 554.6 109.7 554.8 109.9 554.9 109.3 555.1 109.4 555.2 107.7 555.5 108.8 555.6 107.4 555.5 108.8 556.1 108.7 556.2 107.5 556.3 106.4 556.4 106.7 556.7 108.1 556.9 106.7 556.9 107.3 557 104.6 557.5 105.9 557.5 106 557.7 107.3 558 105.7 557.9 105.2 558.1 104.6 558.5 105.2 558.5 103.8 558.8 103.7 558.8 103.7 559.1 103.9 559.2 103.3 559.3 103.9 559.4 102.9 559.8 103.1 559.8 102.7 560 102.7 560.1 101.6 560.2 103.5 560.6 101.8 560.5 102.2 560.8 101.7 561 101.9 561.3 101.7 561.3 101.5 561.8 100.9 561.9 99.3 561.9 100.9 562.2 99.3 562.2 101.1 562.5 100.2 562.5 98.9 562.7 97.5 562.9 97.1 563.4 98.8 563.2 99 563.4 97.2 563.4 97.7 563.9 96.5 564 97.4 564 97.8 564.3 98.5 564.6 96 564.7 96.1 564.6 97.3 565 95.9 565.1 95.4 565.4 96.6 565.2 96.1 565.5 96 565.7 96.1 566.3 94.3 566.1 93.5 566.3 93.7 566.4 94.1 566.4 94.2 566.7 92.5 566.9 93.3 567 93.3 567.5 93.6 567.2 92.6 567.5 92.2 567.9 92.4 568 92.9 568.3 92.4 568.6 91.2 568.8 91.5 569 92.2 569 91.5 569.1 91.1 569.3 91.5 569.4 89 569.6 90.4 569.7 89.6 569.9 89.9 570.2 88.7 570.2 90.3 570.5 89.2 570.6 88.3 570.7 87.1 571.1 87.5 571.1 87.1 571 87.7 571.3 89.3 571.8 87.1 571.9 87.5 572.2 86.8 572 88.3 572.1 87.5 572.3 85.3 572.6 87 572.7 85.4 573 85.3 572.8 86.2 573.1 86.2 573.4 83.9 573.7 85.8 573.7 84.7 574.1 83.7 574.1 84.1 574 84.8 574.6 83.6 574.7 84.4 574.7 80.8 575.1 84.5 575.1 83.3 575.3 82.2 575.6 81.7 575.7 81.4 576.1 83.8 576.2 83.2 576 81.4 576.5 81.3 576.6 82 576.6 81.5 577.1 81.2 577.1 79.9 577.2 80.3 577.4 79.8 577.7 81.1 577.4 80.2 577.7 78.8 578.1 79.2 578.3 79.4 578.4 78.9 578.6 79.2 578.8 79 579.1 76.9 578.9 77.4 579.4 76.7 579.1 75.7 579.6 77.1 579.6 76 580.3 76.9 579.8 75.6 580.5 76.2 580.6 76.4 580.4 75.7 581 76 580.9 74.3 581 74.2 581.3 74.6 581.5 75.6 581.3 74.7 581.7 74.8 581.9 74.6 581.8 74.3 582.4 72.8 582.5 73.1 582.6 73 582.6 73.7 583.2 72.5 583.4 72.2 583.3 73.2 583.7 72.4 583.6 70.4 583.8 70.9 584 72 584.4 71.8 584.6 70.3 584.2 70.3 584.7 69.7 584.9 72 585.3 69.1 585.3 70.5 585.4 69.2 585.7 69.5 585.8 68.6 585.7 69.1 586.3 67.5 586.3 68.8 586.2 67.5 586.9 67.5 586.7 67.5 586.9 65.8 587 67.1 587 66.9 587.2 67.8 587.6 65.9 587.5 65.4 588.2 66.6 587.9 66.5 588.3 66.3 588.7 65.5 588.9 64.2 588.7 64.6 588.8 65.2 589.3 63.6 589.2 64.3 589.6 63.6 589.5 63.8 589.8 63.5 590.1 62.9 590.1 62.9 590.5 61.9 590.6 61.8 590.7 62.1 590.6 63.3 591.1 62.9 591.2 61.3 591.6 61.7 591.3 61.9 591.7 62.5 592 60.6 592.2 61.1 592.1 60.7 592.5 60.8 592.4 59.5 592.8 60.8 592.7 58.1 593.1 60.6 593.2 59 593.5 59.2 593.6 60.3 593.9 58.3 593.9 57.6 594.3 59.5 594.2 57.5 594.6 57.1 594.3 57.8 594.7 57.8 594.9 57.9 595.2 57.9 595.1 55.3 595.4 55.8 595.6 56 595.7 55.2 595.9 55.4 596.1 55.6 596.1 54.7 596.7 56.4 596.9 54.9 596.9 55.8 597.2 54.3 597.1 54.6 597.3 53.8 597.6 54.7 597.5 55.4 597.8 52.6 598.1 53.7 598.3 52.4 598.3 53.8 598.5 52.1 598.8 53.2 599.2 51.6 598.9 53.1 599.3 52.6 599.5 52.2 599.7 53.8 599.7 52 599.9 50.8 600.3 51.8 600.2 50.4 600.2 50.5 600.5 53.2 600.5 57.9 600.6 63.9 600.6 71.1 600.7 79.2 600.8 88.2 600.8 98 600.9 108.5 600.9 119.6 601 132.4 601.2 131 601.1 131.8 601.7 132.4 601.6 130.7 601.9 129.9 601.9 131 602.2 129.7 602.4 129.1 602.4 130.8 602.7 130.7 603 129.8 602.9 129.5 603.1 129.9 603.2 129.2 603.4 129.9 603.7 129.8 603.9 128 604 130.2 604.3 128.4 604.7 128.6 604.6 127.8 604.6 127.6 604.8 128.5 605.3 128.1 605.5 128.5 605.6 128.7 605.5 129.1 605.8 126.9 605.9 127.4 606.1 127.2 606.2 128 606.3 127 606.9 126.6 606.7 128.1 607 126.8 607 126.4 607.3 126.4 607.7 126.2 607.4 125.9 607.9 127.1 607.9 126 608.1 126.6 608.2 125.5 608.6 125.5 608.7 124.5 608.6 125.1 609.2 124.2 609.3 123.6 609.4 124.3 609.7 124.3 610 124.4 609.8 123.4 609.8 123.9 610.2 124.3 610.2 121.6 610.5 122.7 610.8 123.4 611 124.6 611.1 121.4 611.2 122.8 611.3 122 611.6 122.3 611.8 122.5 612 121.8 612 122.7 612.4 122.1 612.2 121.4 612.9 122.4 612.6 121 612.9 121.8 613.3 119.8 613.2 121 613.3 119.1 613.7 119.2 614 120.1 613.8 119.7 614.1 121.1 614.5 119.3 614.6 121.6 614.8 118.9 614.8 118.6 615 118.7 615.1 119.3 615.2 118.6 615.3 119.6 615.7 117.9 615.6 118 615.9 117.3 616.4 119.4 616.7 118.8 616.4 117 616.6 119.1 617 115.9 616.8 116.7 617.1 117 617.3 116.2 617.3 116.1 617.9 116.7 618 117.1 618.1 114 618.4 116.7 618.4 116.9 618.7 115.6 618.7 114.1 619 113.5 618.9 115.1 619.2 112.6 619.4 114 619.3 114.5 619.7 114.1 619.8 113 619.9 114.8 620.3 113.4 620.4 112.6 620.6 112.6 620.7 111.5 621 112.5 621 111.5 621.2 112.6 621.6 113.7 621.6 111 622 109 622.2 109.9 621.9 110.6 622.3 109.9 622.5 111.8 622.8 110.1 622.7 110.4 622.9 109.7 623.2 110.2 623.4 111 623.3 111.3 623.6 110.5 623.8 108.8 624 108.4 624.2 109.1 624.3 108.9 624.4 107.7 624.5 107.5 624.6 108.3 625.2 108.4 625.4 107.5 625.2 108.7 625.6 107 625.4 106.5 625.9 106.6 626.1 106.7 626 106.8 626.2 107.2 626.5 107.2 626.6 104.9 626.7 106.3 627.1 106.9 627.2 105.7 627.5 105.9 627.6 105.9 627.8 105.3 628 105.2 628.1 104 628.3 102.8 628.5 104.6 628.5 104.4 628.8 103.5 628.7 102 629.3 103.3 629.3 103 629.3 101.5 629.7 102.4 629.5 102.7 630 102.8 630.4 101.7 630.1 100.6 630.6 100.6 630.6 100 630.8 101.5 631.1 99.6 631.3 99.3 631.2 100.9 631.3 98.7 631.6 100.2 631.7 100.5 632.3 99.6 632.1 99.4 632.5 99 632.4 99.6 632.8 100.1 633.1 98 633.3 99.2 633.1 97.4 633.3 98.2 633.6 98.6 633.6 97.9 633.9 96.8 634 97.5 634.4 97.2 634.3 95.8 634.7 96.4 635 96.4 635 95.6 635.2 97.4 635.3 95.3 635.5 94.9 635.7 95.5 635.6 94.8 635.9 95.5 635.8 94.2 636.4 95.8 636.8 94 636.6 95 636.8 94.1 637.2 92.3 637.3 93.9 637.3 93.9 637.5 92.6 637.8 93.1 637.8 92.3 637.8 92.3 638.2 91.3 638.6 91.3 638.4 92.1 638.8 91.2 638.9 91.1 638.7 90.4 638.8 91.1 639.3 90.6 639.5 89.6 639.8 89.9 639.6 89.2 640 90 640.1 87.9 640.4 89.1 640.5 88.2 640.6 88.3 640.7 88.8 640.9 87.6 641.2 87.5 641 86.9 641.4 88.2 641.8 87.4 642.1 85.1 642.1 85.8 642.3 86.9 642.5 88.1 642.6 86.2 642.6 86.7 642.9 86.2 643 85.2 643.3 85 643.4 86 643.5 86.1 643.6 83.9 644 82.9 644.1 83.5 644.4 83.3 644.3 83.7 644.9 83.9 644.7 83.4 644.7 83.6 645.2 83.2 645.2 83 645.5 82.1 645.7 82.5 645.9 82.7 645.9 82.5 646.1 81.4 646.6 82.2 646.2 79.9 646.5 80.8 646.6 80.4 647.1 80 647.3 78.9 647.5 80.3 647.5 80.1 647.4 79.9 647.5 78.8 648.1 79.3 647.9 78.8 648.4 79.2 648.7 77.6 648.7 79.6 649 78.4 649 79.1 649.1 77 649.2 77.6 649.3 76.2 649.7 77.6 650.2 76.9 649.9 76.2 650.3 75.8 650.4 75.8 650.4 75.4 650.7 76.5 651 76.2 651.2 73.6 651.3 74.5 651.2 75.2 651.4 74 651.7 74 651.9 73.4 652 73.7 652.2 74.9 652.6 72.8 652.5 72 652.9 73.6 653.3 73 652.9 72.2 653.5 72.7 653.5 73.5 653.9 72.9 653.6 71.9 653.9 72.7 654.1 73.1 654.3 69.2 654.3 70.9 654.6 70.2 655 70.9 654.9 69.7 655.1 68.7 655.3 69.2 655.6 68.5 655.8 69.4 655.9 69.3 655.8 67.4 656.1 69.3 656.5 68.7 656.8 69.3 656.6 66.6 656.8 67.5 657.1 66.9 657.3 66.6 657.3 65.5 657.5 66.2 657.7 66.5 657.9 66.4 658 66.8 658 66.4 658.3 66.2 658.3 65.6 658.6 65.5 658.9 65.7 659.1 63.9 659.2 65 659.2 63.3 659.4 63.3 659.8 64.5 660.2 63.9 660.1 63.1 660.3 62.6 660.6 63.7 660.8 61.7 661.1 63.6 661.1 62.8 661.5 61.3 661.1 63.3 661.5 60.9 661.2 61.8 661.8 61 662.4 63.2 662.1 62.9 662.3 60.7 662.4 59.9 662.6 61 662.7 61.8 662.9 58.3 663.4 59.7 663.3 58.6 663.5 58.7 663.8 59.8 664.1 58.7 664 58.8 664.1 58.1 664.2 58.5 664.6 57.8 664.7 56.3 664.9 59 665 55.6 665.2 57.8 665.3 59.2 665.3 56.9 665.6 56.1 665.8 57.8 666.3 55.6 666.2 54.9 666.4 56.1 666.5 54.7 666.9 55 666.8 55.8 667.1 54.5 667.2 54.8 667.7 54.5 667.3 53.2 667.8 54 667.7 53.8 668.1 53.8 668.3 54 668.2 55.2 668.7 53 668.7 53 669.1 52.5 669.1 51.7 669.4 52.6 669.6 51.6 669.5 52 669.7 51.5 670.1 50.5 670.2 52.9 670.5 50 670.4 51.2 670.8 49.9 670.6 50.4 671 51.4 671.1 50.7 671.5 49.5 671.4 51.3" fill="none" stroke="#555" stroke-width="0.45" marker-start="url(#ma)" marker-mid="url(#ma)" marker-end="url(#ma)"/>
<line x1="99.5" y1="146.5" x2="99.5" y2="204" stroke="#1a1a1a" stroke-width="0.8" stroke-dasharray="2.5 2"/>
<line x1="189.4" y1="140.5" x2="189.4" y2="204" stroke="#1a1a1a" stroke-width="0.8" stroke-dasharray="2.5 2"/>
<line x1="320.9" y1="142.5" x2="320.9" y2="204" stroke="#1a1a1a" stroke-width="0.8" stroke-dasharray="2.5 2"/>
<rect x="41.6" y="28.3" width="631.4" height="175.7" fill="none" stroke="#151515" stroke-width="1.25"/>
<path d="M41.6 204v-3M41.6 28.3v3M140.1 204v-3M140.1 28.3v3M238.6 204v-3M238.6 28.3v3M337.1 204v-3M337.1 28.3v3M435.6 204v-3M435.6 28.3v3M534.1 204v-3M534.1 28.3v3M632.6 204v-3M632.6 28.3v3M90.8 204v-1.7M90.8 28.3v1.7M189.3 204v-1.7M189.3 28.3v1.7M287.9 204v-1.7M287.9 28.3v1.7M386.4 204v-1.7M386.4 28.3v1.7M484.9 204v-1.7M484.9 28.3v1.7M583.4 204v-1.7M583.4 28.3v1.7M41.6 204h3M673 204h-3M41.6 178.9h3M673 178.9h-3M41.6 153.8h3M673 153.8h-3M41.6 128.7h3M673 128.7h-3M41.6 103.6h3M673 103.6h-3M41.6 78.5h3M673 78.5h-3M41.6 53.4h3M673 53.4h-3M41.6 28.3h3M673 28.3h-3M41.6 191.4h1.7M673 191.4h-1.7M41.6 166.3h1.7M673 166.3h-1.7M41.6 141.2h1.7M673 141.2h-1.7M41.6 116.2h1.7M673 116.2h-1.7M41.6 91h1.7M673 91h-1.7M41.6 65.9h1.7M673 65.9h-1.7M41.6 40.8h1.7M673 40.8h-1.7" stroke="#222" stroke-width="1" fill="none"/>
<text x="41.6" y="216.7" font-size="11.3" font-weight="bold" text-anchor="middle">0</text>
<text x="140.1" y="216.7" font-size="11.3" font-weight="bold" text-anchor="middle">1000</text>
<text x="238.6" y="216.7" font-size="11.3" font-weight="bold" text-anchor="middle">2000</text>
<text x="337.1" y="216.7" font-size="11.3" font-weight="bold" text-anchor="middle">3000</text>
<text x="435.6" y="216.7" font-size="11.3" font-weight="bold" text-anchor="middle">4000</text>
<text x="534.1" y="216.7" font-size="11.3" font-weight="bold" text-anchor="middle">5000</text>
<text x="632.6" y="216.7" font-size="11.3" font-weight="bold" text-anchor="middle">6000</text>
<text x="37.8" y="207.8" font-size="10.6" font-weight="bold" text-anchor="end">0.0</text>
<text x="37.8" y="182.7" font-size="10.6" font-weight="bold" text-anchor="end">0.1</text>
<text x="37.8" y="157.6" font-size="10.6" font-weight="bold" text-anchor="end">0.2</text>
<text x="37.8" y="132.5" font-size="10.6" font-weight="bold" text-anchor="end">0.3</text>
<text x="37.8" y="107.4" font-size="10.6" font-weight="bold" text-anchor="end">0.4</text>
<text x="37.8" y="82.3" font-size="10.6" font-weight="bold" text-anchor="end">0.5</text>
<text x="37.8" y="57.2" font-size="10.6" font-weight="bold" text-anchor="end">0.6</text>
<text x="37.8" y="32.1" font-size="10.6" font-weight="bold" text-anchor="end">0.7</text>
<text x="357.9" y="235.6" font-size="12.4" font-weight="bold" text-anchor="middle">Tims (s)</text>
<text transform="translate(15.3 124) rotate(-90) scale(1 1.06)" font-size="12.5" font-weight="bold" text-anchor="middle">Admittance (mS)</text>
<text x="602.6" y="56.6" font-size="10.5" font-weight="bold" fill="#ff1010" textLength="63.6" lengthAdjust="spacingAndGlyphs">92.7 mM NaCl</text>
<text x="69.8" y="173.9" font-size="9.1" text-anchor="middle">92.7 mM</text>
<text x="69.8" y="183" font-size="9.1" text-anchor="middle">0.5 µL/min</text>
<text x="144.6" y="173.9" font-size="9.1" text-anchor="middle">92.7 mM</text>
<text x="144.6" y="183" font-size="9.1" text-anchor="middle">0.3 µL/min</text>
<text x="252" y="173.9" font-size="9.1" text-anchor="middle">92.7 mM</text>
<text x="252" y="183" font-size="9.1" text-anchor="middle">0.2 µL/min</text>
<text x="488.7" y="173.9" font-size="9.1" text-anchor="middle">92.7 mM</text>
<text x="488.7" y="183" font-size="9.1" text-anchor="middle">0.1 µL/min</text>
<line x1="91.4" y1="176.5" x2="113.3" y2="176.5" stroke="#1a1a1a" stroke-width="1.4"/>
<path d="M118.3 176.5l-6 -2.6v5.2z" fill="#1a1a1a"/>
<line x1="171.1" y1="176.3" x2="216.9" y2="176.3" stroke="#1a1a1a" stroke-width="1.4"/>
<path d="M221.9 176.3l-6 -2.6v5.2z" fill="#1a1a1a"/>
<line x1="279.7" y1="176" x2="454.6" y2="176" stroke="#1a1a1a" stroke-width="1.4"/>
<path d="M459.6 176l-6 -2.6v5.2z" fill="#1a1a1a"/>
<line x1="520.3" y1="176" x2="667" y2="176" stroke="#1a1a1a" stroke-width="1.4"/>
<path d="M672 176l-6 -2.6v5.2z" fill="#1a1a1a"/>
<text x="0" y="0" font-size="17" font-weight="bold" transform="translate(4.3 246.2) scale(1 1.12)">b</text>
<line x1="42.6" y1="295.7" x2="672" y2="295.7" stroke="#ff6b6b" stroke-width="0.8" stroke-dasharray="2.2 2"/>
<path d="M42.2 309 43.5 316.8 44.4 339.9 46 364.2 46.9 362.3 48 362.7 49.3 358.6 50.6 358.7 51.8 357.6 52.6 357.4 54 353.3 55.1 352.7 56.2 350 57.4 350.8 58.8 348.4 59.8 346.1 61 344.1 62.2 342.4 63.1 341.4 64.5 340 65.7 337.6 66.6 336.4 67.8 332 69.1 331.9 70 328.2 71.3 328.3 72.4 325.1 73.7 325 74.9 323.7 75.8 321 76.7 317.8 78.6 318.2 79.4 316.8 80.7 313.1 81.9 312.8 82.9 310.3 84.1 305.5 85.2 306 86.4 303.3 88 301.1 89 301.5 90.1 298.7 91.3 295.9 92.3 296.8 93.4 293.9 94.5 309.7 95.8 331 97.1 349.6 97.6 362.7 98.9 360.5 100.1 359.6 101.3 357.3 102.4 356.9 103.3 358.4 104.5 354.2 105.6 352.8 107 351.8 108.1 350.9 109.5 348.7 110.5 348.1 111.7 345 112.8 345.1 113.8 343.1 115 343.1 116.4 340.8 117.2 339.3 118.9 337.2 119.6 336.6 121 333.5 122.1 332.5 123.3 329.2 124.5 329.3 125.4 327.1 126.9 325.2 127.7 324 129.2 323.2 130.3 319.8 131.6 320.9 132.2 317.3 133.8 316.4 134.8 314.8 136.1 314.9 137.2 312.3 138.2 310.9 139.3 307.8 140.6 304.4 141.7 304.2 143 302.7 144.3 301.2 145.2 299.8 146.4 298.2 147.7 296.5 148.7 295 150 293.9 151.1 292.5 152.1 308 153.4 326.6 154.7 351 155.3 363.1 156.5 360.8 157.7 360.3 158.8 356.7 159.9 357.7 160.8 356.1 162.2 354.3 163.1 354.6 164.3 353.3 165.5 350.7 167 349.4 168 349.9 169.2 346.1 170.2 344.7 171.3 342.2 172.5 344.3 173.3 339.6 174.6 338.4 175.7 338.8 176.9 336.4 178.1 335.8 179.3 333.1 180.2 333.2 181.2 330.9 182.6 329.7 183.7 327.6 184.9 325.4 186.2 323.9 187.3 323.7 188.4 320.8 189.3 320.3 190.7 318 191.5 317 193.1 314.1 194 312 195 311.9 196.4 310.5 197.3 308 198.8 309.6 199.7 306.7 200.8 305.3 202.4 303.1 203.1 301.6 204.1 299.8 205.4 296.1 206.6 294.8 207.5 294.8 208.7 295 209.9 303.1 211.1 331.4 212.4 351 212.9 362.3 214 359.2 215.2 358.9 216.5 358.4 217.6 355.7 218.8 354.3 219.9 351.7 221.2 351.2 222.4 349.7 223.3 346.8 224.5 347.6 225.5 343.4 227 342 228.2 341.2 229.1 336.9 230.3 335.2 231.6 334.3 232.7 330.5 233.7 331.8 234.7 328.3 235.9 325 237.1 320.9 238.4 322.6 239.4 317.7 240.7 318.2 241.9 315.6 243.3 313.6 244.2 310.5 245.2 309.2 246.6 306.5 247.5 304.5 249 302 249.9 300.7 250.8 298.9 252.1 296.4 253.2 294.7 254.2 313.6 255.4 329.3 256.5 352.1 257.1 359.9 258.5 358 260.1 353.6 261.1 353.6 262.9 348.9 264.1 346.8 265.6 341.6 267 341.9 268.2 338.8 270.1 334.6 271.6 330.3 272.8 326.9 274.2 323.3 275.4 321.3 276.9 317.2 278.3 315.1 279.7 308.7 281.5 307.9 282.7 303.7 283.9 299.7 285.5 295.5 287 294.2 288.3 320.2 289.7 336.8 291.2 358.4 292.6 354.4 293.6 352.5 295.3 348.6 296.7 346.4 298 343.5 299.5 341 301 336.9 302.4 333.6 303.8 329.4 305.2 325.5 306.6 322.6 307.9 319 309.1 315.3 310.9 310.7 312 307.6 313.6 305.7 315 300.5 316.4 297.1 317.4 295.9 319.1 311.5 320.5 338.4 322.1 357.9 323.3 357.7 324.9 353.8 326.2 350.3 327.7 346.7 328.8 345.8 330.4 341.1 332 337.8 333.2 332.2 334.9 329.5 336.3 327.8 337.5 323.4 338.8 320.5 340.4 317.2 341.9 311.8 343.2 309 344.7 304.5 346.1 302.6 347.2 295.8 348.8 294.8 349.8 320.2 350.8 341.1 351.6 360.9 352.7 360.2 354.4 356.3 355.8 353 357.1 349 358.9 345.6 360 340.9 361.6 339.4 362.8 335.2 364.3 329.5 365.6 327 367.1 324.1 368.4 318.3 370.1 316.8 371.4 311.3 372.9 306.4 374.4 302.9 375.4 300.2 376.7 295.1 378.1 314.5 379.2 334.4 380.5 357.4 381.6 353.1 383 348.9 384.4 345.9 385.2 343.6 386.5 339.6 387.9 334.7 389.3 329.8 390.8 327.3 392 322.7 393.2 317.2 394.3 314.4 395.9 310.9 397 305.9 398.2 303.2 399.4 298.8 401 293.7 402.2 313.9 403.6 339.6 405.1 358.5 406.4 355.9 407.7 350 409.1 348.2 409.9 344.4 411.5 337.9 412.7 334.7 414.1 327.6 415.2 324.4 416.6 319 417.9 315 419 310.1 420.2 305.2 421.5 299.8 422.8 295.6 424.4 318.4 426.1 341 427.9 360.6 429.3 354.9 430 352.2 431.7 347 433 342.9 434.6 337.4 435.9 332.8 437 325.6 438.4 322.7 439.7 315.2 441.1 311.6 442.5 304.7 443.7 300.8 445 292.8 446.4 316.5 447.7 334 449 357.8 450 354.2 451.6 350.6 452.8 347.2 453.9 341 455.3 336.4 456.6 331.8 457.8 324.4 459.1 321.5 460.4 316.9 461.6 309.7 463.2 305.3 464.8 299.5 465.8 296.2 466.9 314 468.2 334.2 469.4 356.4 470.6 355.4 471.9 350.9 473.2 346.7 474.3 342.8 475.5 334.9 476.6 330.6 478 326.8 478.9 320.3 480.3 315.3 481.3 308.6 482.4 304.8 483.8 298.7 484.9 295.2 486.3 311.8 487.6 339.5 489 359.3 490.1 354.1 491.3 348.1 492.2 342.4 493.8 336.8 495 326.9 496.6 321.7 497.5 315.7 498.9 308.9 499.8 301 501.1 295.9 502.8 313.1 504.3 340.5 505.9 358.1 507.1 354.1 508.3 346.8 509.8 338.8 510.6 331.9 512 325.5 513.1 318.3 514.1 311.2 515.6 301.8 517 296.5 518.3 315.9 519.8 343.4 521.4 360.9 522.7 355.4 523.6 348.2 525.1 339.2 526.1 330.6 527.4 325.4 528.7 316.6 529.9 308.2 531.3 299.6 532.1 292.4 533.5 312.4 534.8 337.2 536 356.7 536.8 349.9 538.2 343.3 539.2 337.8 540.5 330.1 541.5 324.9 542.8 315.7 543.8 307.7 544.8 301.7 545.8 294.6 547.4 318.2 549.1 334.3 550.7 355.5 551.8 351.8 552.9 346.3 554.1 344.2 555.1 340.8 556.3 336.4 557.3 332.4 558.6 327.2 559.5 321.8 560.6 317.6 561.7 313.6 562.9 308.8 563.8 303.1 565.1 300.4 567 316.9 569 333.6 571 350.8 572 346.2 573 342.7 574.2 337.1 575.2 330.5 576.4 324.2 577.3 319.8 578.5 314.9 579.4 307 580.5 302.7 581.8 295.7 583.5 313.2 585.3 335 587.1 353.5 588.2 350.9 589.2 343.6 590.3 339.3 591.5 333.4 592.5 329.4 594 323.3 595 318.6 595.8 311.4 597.2 303.6 598.1 301.2 599.6 318.6 601.4 335.8 602.9 350.9 604 346.8 605.5 340.1 606.2 337 607.6 329 608.7 322.4 610 316.7 611 312.3 612.4 305.4 613.1 300.5 615.3 317.1 617.3 333.9 619.1 350.7 620.3 344.8 621.5 339 622.5 332.5 623.8 322.5 624.9 315.4 625.7 307.2 627 299 628.5 299.3 629.4 301 630.3 301.3 631.2 301.1 632.1 301.4 633 300.5 633.9 301.4 634.8 302.1 635.7 302.1 636.6 302 637.5 301.6 638.4 301.6 639.3 301.9 640.2 302.5 641.1 303.3 642 304.2 642.9 304.7 643.8 305.6 644.7 306.6 645.6 307.2 646.5 306.1 647.4 307.4 648.3 307.7 649.2 307.8 650.1 307.3 651 308.4 651.9 308.3 652.8 308.6 653.7 308 654.6 309 655.5 308.2 656.4 307.6 657.3 307.4 658.2 307.6 659.1 307.6 660 306.7 660.9 307 661.8 306.4 662.7 307.9 663.6 307.8 664.5 306.6 665.4 307.2 666.3 307.3 667.2 307.6 668.1 306.5 669 308.4 669.9 308 670.8 309.2 671.7 308.8" fill="none" stroke="#444" stroke-width="0.55" marker-start="url(#mb)" marker-mid="url(#mb)" marker-end="url(#mb)"/>
<line x1="256.8" y1="361.5" x2="256.8" y2="439.5" stroke="#1a1a1a" stroke-width="0.8" stroke-dasharray="2.5 2"/>
<line x1="380.4" y1="356.5" x2="380.4" y2="439.5" stroke="#1a1a1a" stroke-width="0.8" stroke-dasharray="2.5 2"/>
<line x1="469.5" y1="359" x2="469.5" y2="439.5" stroke="#1a1a1a" stroke-width="0.8" stroke-dasharray="2.5 2"/>
<line x1="535.3" y1="357" x2="535.3" y2="439.5" stroke="#1a1a1a" stroke-width="0.8" stroke-dasharray="2.5 2"/>
<line x1="627.7" y1="309" x2="627.7" y2="439.5" stroke="#1a1a1a" stroke-width="0.8" stroke-dasharray="2.5 2"/>
<rect x="41.6" y="263.8" width="631.4" height="175.7" fill="none" stroke="#151515" stroke-width="1.25"/>
<path d="M41.6 439.5v-3M41.6 263.8v3M159.1 439.5v-3M159.1 263.8v3M276.6 439.5v-3M276.6 263.8v3M394.1 439.5v-3M394.1 263.8v3M511.6 439.5v-3M511.6 263.8v3M629.1 439.5v-3M629.1 263.8v3M100.3 439.5v-1.7M100.3 263.8v1.7M217.8 439.5v-1.7M217.8 263.8v1.7M335.4 439.5v-1.7M335.4 263.8v1.7M452.9 439.5v-1.7M452.9 263.8v1.7M570.4 439.5v-1.7M570.4 263.8v1.7M41.6 439.5h3M673 439.5h-3M41.6 414.4h3M673 414.4h-3M41.6 389.3h3M673 389.3h-3M41.6 364.2h3M673 364.2h-3M41.6 339.1h3M673 339.1h-3M41.6 314h3M673 314h-3M41.6 288.9h3M673 288.9h-3M41.6 263.8h3M673 263.8h-3M41.6 426.9h1.7M673 426.9h-1.7M41.6 401.9h1.7M673 401.9h-1.7M41.6 376.8h1.7M673 376.8h-1.7M41.6 351.6h1.7M673 351.6h-1.7M41.6 326.6h1.7M673 326.6h-1.7M41.6 301.4h1.7M673 301.4h-1.7M41.6 276.4h1.7M673 276.4h-1.7" stroke="#222" stroke-width="1" fill="none"/>
<text x="41.6" y="452.5" font-size="11.3" font-weight="bold" text-anchor="middle">0</text>
<text x="159.1" y="452.5" font-size="11.3" font-weight="bold" text-anchor="middle">100</text>
<text x="276.6" y="452.5" font-size="11.3" font-weight="bold" text-anchor="middle">200</text>
<text x="394.1" y="452.5" font-size="11.3" font-weight="bold" text-anchor="middle">300</text>
<text x="511.6" y="452.5" font-size="11.3" font-weight="bold" text-anchor="middle">400</text>
<text x="629.1" y="452.5" font-size="11.3" font-weight="bold" text-anchor="middle">500</text>
<text x="37.8" y="443.3" font-size="10.6" font-weight="bold" text-anchor="end">0.0</text>
<text x="37.8" y="418.2" font-size="10.6" font-weight="bold" text-anchor="end">0.1</text>
<text x="37.8" y="393.1" font-size="10.6" font-weight="bold" text-anchor="end">0.2</text>
<text x="37.8" y="368" font-size="10.6" font-weight="bold" text-anchor="end">0.3</text>
<text x="37.8" y="342.9" font-size="10.6" font-weight="bold" text-anchor="end">0.4</text>
<text x="37.8" y="317.8" font-size="10.6" font-weight="bold" text-anchor="end">0.5</text>
<text x="37.8" y="292.7" font-size="10.6" font-weight="bold" text-anchor="end">0.6</text>
<text x="37.8" y="267.6" font-size="10.6" font-weight="bold" text-anchor="end">0.7</text>
<text x="357.9" y="471.2" font-size="12.4" font-weight="bold" text-anchor="middle">Tims (s)</text>
<text transform="translate(15.3 359.7) rotate(-90) scale(1 1.06)" font-size="12.4" font-weight="bold" text-anchor="middle">Admittance (mS)</text>
<text x="605.5" y="292" font-size="10.5" font-weight="bold" fill="#ff1010" textLength="63.3" lengthAdjust="spacingAndGlyphs">92.7 mM NaCl</text>
<text x="72.5" y="401.4" font-size="9.1" text-anchor="middle">92.7 mM</text>
<text x="72.5" y="411.2" font-size="9.1" text-anchor="middle">1 µL/min</text>
<text x="320.3" y="401.4" font-size="9.1" text-anchor="middle">92.7 mM</text>
<text x="320.3" y="411.2" font-size="9.1" text-anchor="middle">2 µL/min</text>
<text x="425" y="401.4" font-size="9.1" text-anchor="middle">92.7 mM</text>
<text x="425" y="411.2" font-size="9.1" text-anchor="middle">3 µL/min</text>
<text x="505.1" y="401.4" font-size="9.1" text-anchor="middle">92.7 mM</text>
<text x="505.1" y="411.2" font-size="9.1" text-anchor="middle">5 µL/min</text>
<text x="580.2" y="401.4" font-size="9.1" text-anchor="middle">92.7 mM</text>
<text x="580.2" y="411.2" font-size="9.1" text-anchor="middle">7 µL/min</text>
<text x="651.3" y="401.4" font-size="9.1" text-anchor="middle">92.7 mM</text>
<text x="651.3" y="411.2" font-size="9.1" text-anchor="middle">10 µL/min</text>
<line x1="107.8" y1="403.3" x2="288.1" y2="403.3" stroke="#1a1a1a" stroke-width="1.4"/>
<path d="M293.1 403.3l-6 -2.6v5.2z" fill="#1a1a1a"/>
<line x1="346" y1="403.3" x2="391.5" y2="403.3" stroke="#1a1a1a" stroke-width="1.4"/>
<path d="M396.5 403.3l-6 -2.6v5.2z" fill="#1a1a1a"/>
<line x1="449.5" y1="403.3" x2="475.4" y2="403.3" stroke="#1a1a1a" stroke-width="1.4"/>
<path d="M480.4 403.3l-6 -2.6v5.2z" fill="#1a1a1a"/>
<line x1="527.3" y1="403.3" x2="552.9" y2="403.3" stroke="#1a1a1a" stroke-width="1.4"/>
<path d="M557.9 403.3l-6 -2.6v5.2z" fill="#1a1a1a"/>
<line x1="602.9" y1="403.3" x2="627.5" y2="403.3" stroke="#1a1a1a" stroke-width="1.4"/>
<path d="M632.5 403.3l-6 -2.6v5.2z" fill="#1a1a1a"/>
<text x="0" y="0" font-size="17" font-weight="bold" transform="translate(3.6 490.5) scale(1 1.12)">c</text>
<line x1="42.9" y1="535.4" x2="217.5" y2="535.4" stroke="#ff3030" stroke-width="0.9" stroke-dasharray="3 2.6"/>
<text x="95.8" y="531.9" font-size="10.5" font-weight="bold" fill="#ff1010" textLength="63.3" lengthAdjust="spacingAndGlyphs">92.7 mM NaCl</text>
<path d="M41.9 608.7 42.5 608.3 43.1 606.9 43.7 607.3 44.3 606.7 45 606.6 45.6 606.2 46.2 605.3 46.8 604.8 47.5 605.1 48.1 604.5 48.8 604 49.4 604.2 50.1 602.5 50.7 602.1 51.4 602.5 52 601.5 52.7 602.3 53.3 600.9 54 601.9 54.6 600.5 55.3 600.1 55.9 600.8 56.6 600.4 57.2 599.7 57.9 599.7 58.5 599.4 59.2 599.8 60 598.8 60.7 598.6 61.5 598.2 62.2 597.9 62.9 598.1 63.7 596.9 64.4 597.6 65 597.7 65.7 597.2 66.3 596.5 67 596 67.6 595.3 68.3 595 68.9 595.4 69.6 595.7 70.2 595.4 70.8 594 71.5 594.6 72.1 594.4 72.8 593.6 73.4 593.9 74.1 592.6 74.7 592.5 75.4 592.5 76 592.6 76.6 591.7 77.1 591 77.7 591.4 78.3 590.2 78.9 589.8 79.4 589 80 589 80.6 589 81.3 588.2 81.9 588.3 82.5 587.7 83.1 586.6 83.8 587.9 84.4 586.5 85 586.6 85.7 586.9 86.3 585.4 86.9 584.8 87.5 584.8 88.2 584.4 88.8 585.2 89.4 584.3 90 583.2 90.7 583.2 91.3 583.3 91.9 582.4 92.5 582.3 93.2 582.9 93.8 581.9 94.4 581.2 95 581.5 95.6 580.4 96.3 580.7 96.9 580.6 97.5 579.3 98.1 579.7 98.8 578.9 99.4 579.3 100 578.7 100.6 578.8 101.3 577.9 101.9 576.8 102.5 576.5 103.2 576.9 103.8 576.7 104.4 575.1 105 575.3 105.7 574.7 106.3 574.6 106.9 574.9 107.5 574 108.2 573.9 108.8 573.5 109.4 572.3 110 572.5 110.7 571.7 111.3 571.5 111.9 571.1 112.5 571 113.1 569.8 113.8 570.4 114.4 569 115 568.8 115.7 569.4 116.3 569.4 117 568.2 117.7 568.9 118.3 567.2 119 568.4 119.6 567 120.3 566.5 121 567.2 121.7 565.7 122.4 566.2 123.1 564.6 123.8 564.3 124.5 564.3 125.2 563.6 125.8 563.9 126.5 563.3 127.2 563.6 127.9 562.9 128.5 563.3 129.2 562.8 129.9 561.4 130.6 562.3 131.2 561.9 131.9 561 132.6 560.6 133.3 559.8 133.9 559.7 134.6 559.3 135.3 558.9 136 559.3 136.6 558.5 137.3 558.9 138 558.3 138.7 558.4 139.3 556.9 140 557.9 140.7 557 141.3 556.9 142 555.9 142.7 556.3 143.3 555.6 144 555.7 144.7 555.2 145.3 554.2 146 554.1 146.7 554.5 147.4 553 148 553.7 148.7 553.2 149.4 553.2 150 552.2 150.7 552.2 151.4 551.9 152.1 552.1 152.8 550.7 153.5 551.1 154.2 550.5 154.8 550.7 155.5 549.9 156.2 549.5 156.9 549.3 157.6 550.1 158.3 549 159 549.5 159.7 549 160.4 548 161.1 548.2 161.8 547.1 162.5 548.3 163.2 547.5 163.9 546.4 164.6 546.8 165.3 546.5 166 546.5 166.7 545.6 167.4 546.3 168.1 545.6 168.8 544.5 169.5 545.4 170.2 545.3 170.9 544.1 171.6 544.5 172.3 544.5 173 544.3 173.7 542.7 174.4 543.7 175.1 542.5 175.8 543.1 176.5 542.7 177.2 542.1 177.8 542.5 178.5 542.1 179.2 542.2 179.9 541.8 180.6 541 181.3 541 182 540.6 182.7 539.9 183.4 539.8 184.1 539.5 184.8 538.8 185.5 538.6 186.2 539.2 186.9 539 187.6 538.5 188.3 538.2 189 537.6 189.7 537.4 190.4 537.3 191.1 536 191.8 536.4 192.5 537 193.1 535.5 193.8 535.6 194.5 534.7 195.2 534.8 195.9 535.4 196.6 533.9 197.3 534.8 197.9 534.5 198.6 534.3 199.2 533.1 199.9 533.8 200.5 532.7 201.2 532.5 201.8 533 202.5 532.1 203.2 532 203.9 530.8 204.6 530.3 205.3 530.5 206 529.9 206.7 530.8 207.4 529.6 208.1 529.7 L208.1 535.3 207.4 536.3 206.7 536.2 206 536.3 205.3 536.4 204.6 537.6 203.9 537.9 203.2 536.9 202.5 538.3 201.8 538.5 201.2 537.8 200.5 538.4 199.9 539.4 199.2 539.8 198.6 540.2 197.9 539.6 197.3 540.3 196.6 539.9 195.9 541.2 195.2 540.6 194.5 541.7 193.8 542.3 193.1 541.5 192.5 541.9 191.8 542 191.1 543.2 190.4 543.1 189.7 543.7 189 543 188.3 543.2 187.6 543.9 186.9 545 186.2 544.8 185.5 545.5 184.8 544.7 184.1 546.1 183.4 545.7 182.7 545.6 182 546 181.3 547.6 180.6 546.7 179.9 547.8 179.2 548.3 178.5 547.4 177.8 547.8 177.2 547.9 176.5 548.9 175.8 548.4 175.1 549 174.4 549.2 173.7 550.4 173.1 550.8 172.4 551 171.8 551.6 171.1 550.5 170.5 551.6 169.8 551.1 169.2 552.8 168.6 552.1 167.9 552.2 167.3 552.1 166.6 553.2 166 553.6 165.4 554.5 164.7 553.5 164.1 554.7 163.4 554.3 162.8 554.7 162.2 555.9 161.5 556 160.9 556.5 160.2 555.5 159.6 556.3 158.9 557.2 158.3 556.8 157.7 557.4 157 558.1 156.4 557.6 155.8 558.5 155.1 558.4 154.5 558.9 153.9 559.1 153.2 559.1 152.6 560 152 560 151.3 561.3 150.7 561.9 150.1 562.2 149.4 562.3 148.8 562.2 148.2 562.4 147.6 562.9 146.9 563.8 146.3 563.1 145.7 563.8 145 564.9 144.4 565.4 143.8 564.9 143.1 566.2 142.5 566.1 141.9 565.7 141.3 567.3 140.6 567.3 140 567.1 139.3 568 138.7 568.8 138 568 137.3 568.6 136.6 568.7 136 569 135.3 569.3 134.6 569.4 133.9 570.6 133.3 571.1 132.6 571 131.9 571.9 131.2 572 130.6 572 129.9 572.3 129.2 572.8 128.5 573.1 127.9 573.3 127.2 573.2 126.5 574.3 125.8 574.9 125.2 574.7 124.5 574.2 123.8 574.8 123.3 575.9 122.8 576.1 122.3 577 121.8 577.9 121.3 578.1 120.8 578.8 120.3 579.2 119.6 580 119 580.4 118.3 579.4 117.7 580.6 117 581.1 116.3 581.3 115.7 582 115 581.2 114.3 582 113.7 581.9 113 582.9 112.3 583.2 111.7 582.7 111 583.8 110.3 583.2 109.6 583.4 109 584.9 108.3 585.4 107.6 584.6 107 586.1 106.3 585 105.6 585.4 104.9 586.9 104.3 586.4 103.6 587.3 102.9 587.9 102.2 588.2 101.6 587.3 100.9 589 100.2 589.2 99.5 588.4 98.9 588.7 98.2 589 97.5 589.7 96.8 589.7 96.2 590.1 95.5 591.3 94.8 591.2 94.2 591.2 93.5 591.2 92.8 592.3 92.1 592.2 91.5 592.2 90.8 592.9 90.1 594.3 89.5 594.6 88.8 594.8 88.2 595.2 87.5 594.6 86.9 594.5 86.3 596.1 85.7 596.3 85 595.5 84.4 595.9 83.8 596.4 83.1 596.7 82.5 598 81.9 597.8 81.3 598 80.6 598.2 80 598.4 79.4 599.2 78.9 599.1 78.3 599.9 77.7 599.6 77.1 601 76.6 601.6 76 602.1 75.3 602 74.5 601.5 73.8 602.9 73.1 602.6 72.4 603.2 71.7 603.9 70.9 602.8 70.2 603.9 69.5 604.5 68.8 604.4 68 604.1 67.3 604.5 66.6 604.6 65.9 605.9 65.1 605.1 64.4 606.5 63.7 605.7 62.9 606.3 62.2 607.1 61.5 606.6 60.7 606.4 60 607.4 59.2 607.5 58.5 606.7 57.8 608.2 57 607.2 56.3 608 55.6 607.6 54.9 607.8 54.2 608.8 53.4 608.7 52.7 608.8 52 609.8 51.4 610.4 50.7 610 50.1 610 49.4 610.6 48.8 611.4 48.1 611.6 47.5 612.2 46.8 612.5 46.1 611.6 45.4 612.6 44.7 612.5 44 613.4 43.3 612.9 42.6 613.9 41.9 614.6Z" fill="#8c8c8c" fill-opacity="1.0"/>
<path d="M41.9 611 42.7 610.5 43.5 610.3 44.3 609.7 45.2 609 46 608.9 46.8 608.4 47.5 608 48.3 607.7 49 607.2 49.8 606.9 50.5 606.9 51.2 606.6 52 605.9 52.7 605.8 53.5 605 54.4 605 55.2 604.8 56 604.5 56.8 603.9 57.7 603.4 58.5 603.6 59.3 603.1 60.2 602.9 61 602.4 61.9 602 62.7 602.1 63.6 601.7 64.4 601.8 65.2 601.3 66.1 601 66.9 600.6 67.7 600.4 68.5 599.6 69.4 599.9 70.2 599.3 71 598.9 71.9 598.3 72.7 597.9 73.5 598 74.3 597.7 75.2 597.3 76 596.7 76.7 596.4 77.3 596.1 78 595.4 78.7 595.1 79.3 594 80 594 80.7 593.1 81.5 593.2 82.2 592.7 82.9 592 83.7 591.9 84.4 591.7 85.1 591.5 85.9 590.6 86.6 590.5 87.3 590.3 88.1 589.5 88.8 589.7 89.5 589.3 90.2 588.6 91 588.1 91.7 587.7 92.4 587.4 93.2 587.1 93.9 587 94.6 586.8 95.3 586.1 96 586.1 96.8 585.3 97.5 585.1 98.2 584.3 99 584.1 99.7 583.5 100.4 583.1 101.2 583.2 101.9 582.3 102.6 582.1 103.4 581.8 104.1 581.4 104.8 580.7 105.6 580.3 106.3 580.3 107 579.7 107.8 579.1 108.5 579 109.2 578.5 109.9 578.5 110.7 577.5 111.4 577.2 112.1 576.7 112.8 576.6 113.5 576.5 114.3 576 115 575.1 115.8 575.1 116.5 574.7 117.3 574.8 118 574.3 118.8 573.9 119.5 573.3 120.3 573.2 121 572.6 121.7 571.9 122.4 571.4 123.1 570.4 123.8 570 124.5 570.1 125.3 569.3 126 569 126.7 568.8 127.5 568.5 128.2 568.1 128.9 567.5 129.7 567.4 130.4 566.7 131.1 566.6 131.9 565.8 132.6 565.6 133.3 565.2 134.1 565 134.8 564.9 135.6 564.1 136.3 564.3 137 563.4 137.8 563.7 138.5 563.3 139.3 562.7 140 562.5 140.7 562.2 141.4 561.5 142.1 561.4 142.9 560.5 143.6 560.6 144.3 560.2 145 559.9 145.7 559.1 146.4 558.6 147.1 558.6 147.8 558.3 148.6 558 149.3 557.2 150 557.1 150.7 557 151.5 556.2 152.2 556.2 153 556 153.7 555.4 154.5 554.9 155.3 554.5 156 554.2 156.8 553.6 157.5 553.3 158.3 553 159.1 552.6 159.8 552.8 160.6 552.1 161.4 552.1 162.2 551.5 162.9 551.4 163.7 551.1 164.5 550.6 165.2 550.1 166 549.6 166.8 549.5 167.5 549 168.3 549.1 169.1 548.2 169.8 548.3 170.6 547.8 171.4 547.6 172.2 547.3 172.9 547.3 173.7 547 174.5 546.3 175.2 546.4 176 546.1 176.7 545.5 177.5 545.2 178.3 544.7 179 544.8 179.8 544.3 180.5 544.2 181.3 544 182.1 543.5 182.8 543.2 183.6 542.8 184.4 542.2 185.2 542.1 185.9 541.5 186.7 541.3 187.5 541.6 188.2 540.8 189 540.3 189.8 540.3 190.5 539.7 191.3 539.8 192 539.2 192.8 538.9 193.6 538.9 194.3 538.8 195.1 537.9 195.8 538.1 196.6 537.7 197.3 537.3 198.1 536.9 198.8 536.3 199.6 536.2 200.3 536 201 535.5 201.8 535.7 202.5 534.9 203.3 534.9 204.1 534.5 204.9 534.1 205.7 533.6 206.5 533.2 207.3 533.1 208.1 532.5" fill="none" stroke="#0a0a0a" stroke-width="1.6" stroke-linejoin="round"/>
<path d="M41.9 607 42.4 606.6 42.9 605.8 43.4 605.8 43.9 605.2 44.3 605.2 44.8 604.7 45.3 603.5 45.8 603 46.3 602 46.8 602.2 47.3 601.4 47.8 600.5 48.3 600.8 48.8 599.3 49.3 598.9 49.8 598.7 50.2 598.8 50.7 597.3 51.2 596.9 51.7 597 52.2 595.9 52.7 596.1 53.3 594.6 53.9 594.4 54.4 594 55 594.2 55.6 592.8 56.2 593 56.8 592.8 57.3 592.5 57.9 591.8 58.5 590.5 59.1 590.5 59.7 589.6 60.3 589 60.9 588.6 61.4 588.7 62 588 62.6 587 63.2 586.6 63.5 585.8 63.9 586.2 64.2 585.3 64.6 584.4 64.9 584.3 65.2 583.7 65.6 582.2 65.9 581.6 66.3 580.9 66.6 580.8 67 580.1 67.3 579.4 67.7 579.1 68.1 578.3 68.5 577.4 68.9 577.3 69.3 577 69.7 575.4 70 575.3 70.4 574.3 70.8 574.4 71.2 573.5 71.6 573.4 72 572.6 72.4 572.3 72.7 571.3 73.1 570.7 73.4 570.5 73.8 569.7 74.2 568.5 74.5 567.6 74.9 568 75.2 566.3 75.6 566.7 75.9 566.1 76.3 565.2 76.8 565.1 77.4 564.2 77.9 563.9 78.4 563.2 78.9 562.3 79.5 561.7 80 562 80.6 561.1 81.1 560.2 81.7 560.2 82.2 559.3 82.8 558.7 83.3 559 83.9 558.1 84.4 557.7 85 557.3 85.5 556.3 86.1 555.8 86.7 555.2 87.2 554.6 87.8 554.6 88.3 554.2 88.9 553 89.4 553 90 551.8 90.5 551.1 91 551.3 91.6 550.9 92.2 549.9 92.7 550.1 93.2 549.3 93.8 548.3 94.3 548.3 94.9 547.8 95.5 546.5 96 546.8 96.5 545.7 97.1 545 97.7 544.6 98.2 544.2 98.8 543.7 99.3 542.9 99.8 542.1 100.4 542.3 101 541.8 101.5 541.3 102 540.4 102.6 540.4 103.1 538.8 103.6 538.3 104.1 537.6 104.6 537.6 105.1 537 105.6 536 106.1 535.7 L106.1 538.3 105.7 539.4 105.2 539.8 104.8 539.8 104.3 540.4 103.9 541.3 103.5 542.3 103 542.5 102.6 542.2 102 543.1 101.5 544.3 101 544.7 100.4 544.4 99.8 545.7 99.3 545.6 98.8 547 98.2 547.4 97.7 548.2 97.1 547.9 96.5 548.5 96 549.9 95.5 550.5 94.9 550.7 94.3 550.7 93.8 551.9 93.3 552.1 92.8 553.3 92.3 553.8 91.8 554 91.4 554.1 90.9 554.7 90.4 554.8 89.9 555.6 89.4 555.8 88.9 556.2 88.4 556.8 87.9 558.3 87.4 558.6 87 558.6 86.5 559.3 86 559.5 85.5 560.1 85 560.5 84.5 562 84.1 562.5 83.6 562.4 83.2 563.2 82.7 563.4 82.3 563.9 81.8 565.2 81.4 565 80.9 565.3 80.5 566.5 80 567.1 79.6 567.1 79.2 567.9 78.8 568.6 78.4 569.1 77.9 569.7 77.5 570.7 77.1 570.3 76.7 571.6 76.3 571.7 76 573.1 75.7 573.1 75.4 574.4 75.2 574.9 74.9 575.2 74.6 576 74.3 576 74 577.3 73.7 578.1 73.4 578.4 73.1 579.3 72.9 579.8 72.6 580 72.3 580.9 72 581.2 71.5 582.4 71.1 582.6 70.6 583 70.1 583.4 69.7 584.5 69.2 585.2 68.7 586.2 68.2 585.7 67.8 586.9 67.3 587.3 66.8 587.4 66.3 588.4 65.8 589.3 65.2 589.6 64.7 590.7 64.2 590.2 63.7 591.3 63.2 591.6 62.5 591.9 61.9 592.3 61.2 593.3 60.5 593.3 59.8 593.8 59.2 594 58.5 595.1 57.9 595.3 57.3 595.4 56.8 596.3 56.2 596.6 55.6 596.7 55 597.6 54.4 597.9 53.9 598.3 53.3 598.2 52.7 599.5 52.2 599.8 51.7 600.2 51.2 601.2 50.7 602 50.2 602.3 49.8 603.1 49.3 602.9 48.8 604.1 48.3 603.8 47.8 605.3 47.3 605.6 46.8 606.4 46.4 606.6 45.9 607.4 45.5 607.6 45 608.1 44.6 608.8 44.1 608.7 43.7 610.2 43.2 610.8 42.8 610.3 42.3 610.8 41.9 611.9Z" fill="#7070ff" fill-opacity="0.9"/>
<path d="M41.9 609.6 42.4 608.9 43 608.7 43.5 607.7 44.1 607.1 44.6 606.4 45.2 606 45.7 605.5 46.3 604.5 46.8 604.1 47.4 603.2 48 602.6 48.6 602.1 49.2 601.6 49.8 600.8 50.3 600.1 50.9 599.5 51.5 599 52.1 598.3 52.7 597.4 53.3 596.8 54 596.1 54.6 595.9 55.3 595.3 55.9 594.5 56.6 594.6 57.2 593.7 57.9 593.6 58.5 592.5 59.2 592.2 59.8 592 60.5 591.4 61.2 590.9 61.9 590.3 62.5 589.6 63.2 589.5 63.7 588.7 64.2 587.8 64.7 587.1 65.2 586.5 65.8 585.6 66.3 584.9 66.8 584.1 67.3 583.5 67.8 582.8 68.3 581.9 68.9 581.4 69.4 580.5 69.9 579.9 70.4 579.1 71 578.7 71.5 578 72 577.2 72.4 576.2 72.8 575.4 73.2 574.6 73.6 574 74 572.9 74.3 572.4 74.7 571.8 75.1 570.6 75.5 570.3 75.9 569.3 76.3 568.8 76.9 567.9 77.5 567.2 78.2 566.6 78.8 565.7 79.4 564.8 80 564.5 80.6 563.9 81.1 563.2 81.7 562.3 82.2 561.9 82.8 561.3 83.3 560.6 83.9 560.1 84.4 559.5 85 559.2 85.6 558.3 86.3 557.9 86.9 557.3 87.5 556.2 88.1 555.9 88.8 555.1 89.4 554.6 90 553.9 90.7 553.4 91.3 552.5 91.9 552.1 92.5 551.3 93.2 550.9 93.8 550.1 94.4 549.6 95.1 549.1 95.7 548.1 96.3 547.3 96.9 547.2 97.6 546.3 98.2 545.8 98.8 545.3 99.5 544.7 100.1 543.8 100.7 543.5 101.3 542.6 102 542.2 102.6 541.6 103.1 540.7 103.6 540.1 104.1 539.4 104.6 538.8 105.1 538.2 105.6 537.8 106.1 537" fill="none" stroke="#1414ff" stroke-width="1.6" stroke-linejoin="round"/>
<path d="M41.9 615.6 42.2 615.7 42.6 614.9 42.9 614.1 43.3 613.5 43.7 612.7 44.2 612.4 44.6 611.9 45 611 45.5 610.5 45.9 609.7 46.4 609.1 46.8 609 47.2 608.2 47.5 607.4 47.9 606.9 48.3 605.9 48.6 605.2 49 604.8 49.4 604.4 49.8 603.4 50.1 603.1 50.5 602.3 50.9 601.6 51.2 601.4 51.6 600.5 52 600.1 52.3 599.5 52.7 598.6 53 597.7 53.3 597.7 53.6 596.8 53.9 596.2 54.2 595.6 54.5 594.9 54.7 594.5 55 593.2 55.3 593.3 55.6 592.4 55.9 591.6 56.2 591.3 56.4 590.6 56.7 589.7 56.9 588.5 57.1 588.3 57.4 587.4 57.6 586.9 57.8 586.4 58.1 585.1 58.3 585 58.5 583.8 58.8 583.1 59 582.2 59.2 581.6 59.5 581 59.7 580.5 59.9 580.1 60.1 578.8 60.3 578.2 60.5 577.6 60.7 577.1 61 576.1 61.2 575.7 61.4 574.5 61.6 573.8 61.8 573.5 62 572.9 62.3 571.7 62.6 571 62.9 570.9 63.2 569.7 63.5 569.7 63.8 568.9 64.1 567.8 64.4 567.3 64.7 566.4 65 565.8 65.3 565.3 65.6 565.1 65.9 564.4 66.2 563.7 66.6 562.9 66.9 562.2 67.2 561.5 67.5 560.9 67.9 560.2 68.3 559.5 68.7 559.2 69.1 558.1 69.5 557.6 69.9 557.2 70.4 556.8 70.8 555.7 71.2 555.1 71.6 554.5 72 553.7 72.4 553.2 72.8 552.9 73.2 551.8 73.6 551.5 74 550.7 74.4 550.3 74.8 549.9 75.2 548.7 75.6 548.4 76 547.6 76.4 547.3 76.8 546.8 77.2 545.8 77.6 545.2 78 544.6 78.5 544.1 79 544 79.5 543.4 80 542.8 80.4 541.9 80.9 541.4 81.4 540.7 81.9 540.3 82.4 539.8 L82.4 543 81.9 543.9 81.4 544 80.9 544.9 80.4 545.6 80 545.7 79.5 546.9 79 546.8 78.5 547.6 78 548.8 77.6 548.9 77.2 550 76.8 550.1 76.4 550.7 76 551.1 75.6 552 75.2 552.8 74.8 553.6 74.4 553.8 74 554.3 73.6 555.4 73.2 555.4 72.8 556.1 72.4 556.5 72 557.3 71.6 558 71.2 558.9 70.8 559.3 70.4 559.8 69.9 560.7 69.5 561.4 69.1 562 68.7 562.4 68.3 562.5 67.9 563.7 67.5 564 67.1 564.9 66.8 565.5 66.4 565.8 66.1 567.2 65.7 567.2 65.4 568.1 65 569.2 64.7 569.7 64.4 569.9 64.1 570.8 63.8 571.2 63.5 572 63.2 572.5 62.9 573 62.6 573.7 62.3 574.5 62 575.3 61.8 575.6 61.6 576.7 61.4 577.3 61.2 578.1 61 578.5 60.7 579.2 60.5 579.8 60.3 580.6 60.1 581.6 59.9 581.9 59.7 582.8 59.5 583.2 59.2 584.6 59 585.1 58.8 585.9 58.5 586.6 58.3 587.1 58.1 588.1 57.8 588.2 57.6 589.2 57.4 590.1 57.1 590.2 56.9 591.4 56.7 592 56.4 592.7 56.2 593.2 55.9 594.3 55.6 594.9 55.2 595.7 54.9 596.1 54.6 596.9 54.3 597.5 54 598 53.7 599.2 53.3 599.9 53 600.1 52.7 601.1 52.3 601.5 52 602.3 51.6 602.4 51.2 603 50.9 604.2 50.5 604.6 50.1 604.8 49.8 605.7 49.4 606.4 49 607.2 48.6 608 48.3 607.9 47.9 608.9 47.5 609.3 47.2 609.9 46.8 610.9 46.4 611.5 45.9 612.1 45.5 612.5 45 613.2 44.6 613.3 44.2 614.2 43.7 614.7 43.3 615.7 42.9 615.8 42.6 616.6 42.2 617 41.9 618.4Z" fill="#5aa85a" fill-opacity="0.9"/>
<path d="M41.9 617 42.4 616.4 42.8 615.3 43.3 614.6 43.8 613.9 44.3 613 44.8 612.5 45.3 611.8 45.8 611.1 46.3 610.1 46.8 609.8 47.2 609.1 47.6 608.1 48.1 607.4 48.5 606.7 48.9 606.2 49.3 605.3 49.8 604.9 50.2 604 50.6 603.6 51 602.7 51.4 601.9 51.9 601.1 52.3 600.5 52.7 599.9 53.1 599.2 53.4 598.5 53.8 597.4 54.1 596.5 54.5 596.1 54.8 595.3 55.2 594.6 55.5 593.9 55.9 593.1 56.2 592.3 56.5 591.6 56.7 590.4 57 590 57.3 589.1 57.5 588 57.8 587.2 58.1 586.6 58.4 585.6 58.6 585.1 58.9 584 59.2 583.3 59.4 582.5 59.7 581.9 59.9 580.8 60.2 580.4 60.4 579.5 60.6 578.7 60.9 578.1 61.1 577.3 61.3 576.4 61.5 575.6 61.8 574.5 62 573.9 62.4 573.3 62.8 572.2 63.1 571.6 63.5 570.7 63.9 569.9 64.2 569.3 64.6 568.5 65 567.6 65.4 566.7 65.7 566.1 66.1 565.6 66.4 564.8 66.8 563.9 67.1 562.9 67.5 562.6 68 561.5 68.5 560.8 68.9 560.3 69.4 559.4 69.9 558.9 70.4 558.2 70.9 557.2 71.4 556.9 71.8 556.2 72.3 555.3 72.8 554.7 73.3 553.9 73.7 553.1 74.2 552.5 74.7 551.8 75.2 551 75.6 550 76.1 549.4 76.6 548.9 77.1 548 77.5 547.2 78 546.6 78.5 545.8 79.1 545.3 79.7 544.4 80.2 544.1 80.8 543.2 81.3 542.9 81.9 541.9 82.4 541.4" fill="none" stroke="#0f800f" stroke-width="1.4" stroke-linejoin="round"/>
<path d="M41.6 617.9 42 617.2 42.3 616.3 42.7 615.7 43 615 43.4 614.2 43.8 613.4 44.1 612.7 44.5 612.1 44.8 611.3 45.1 610.4 45.4 609.6 45.7 609 46 608 46.2 607.3 46.5 606.6 46.8 605.8 47.1 604.9 47.4 604.1 47.7 603.6 48 602.7 48.3 601.8 48.5 601.1 48.8 600.1 49.1 599.3 49.3 598.8 49.6 597.9 49.9 597 50.2 596.2 50.4 595.3 50.7 594.6 51 593.8 51.2 593.1 51.5 592.2 51.7 591.5 51.9 590.8 52.1 589.9 52.3 588.9 52.5 588.2 52.7 587.6 52.9 586.6 53 586.1 53.2 585 53.4 584.3 53.6 583.8 53.8 582.8 54 582.1 54.2 581.3 54.4 580.4 54.6 579.6 54.8 578.8 55 578.1 55.1 577.4 55.3 576.5 55.5 575.6 55.7 574.8 55.9 574.2 56.1 573.1 56.2 572.4 56.4 571.7 56.6 571 56.8 569.9 57.1 569.2 57.5 568.3 57.8 567.5 58.1 566.8 58.5 565.7 58.8 565 59 564.1 59.2 563.5 59.5 562.7 59.7 561.8 59.9 560.9 60.1 560.3 60.3 559.5 60.6 558.6 60.8 557.9 61 557.1 61.2 556.2 61.5 555.5 61.7 554.8 61.9 553.9 62.2 553.3 62.4 552.3 62.6 551.8 62.9 550.9 63.1 550.2 63.4 549.4 63.8 548.6 64.1 547.7 64.5 546.9 64.8 546.1 65.2 545.4 65.5 544.5 65.9 543.8 66.3 542.8 66.7 542.1 67.1 541.2 67.5 540.5" fill="none" stroke="#7d1490" stroke-width="1.3" stroke-linejoin="round"/>
<rect x="41.9" y="503.5" width="176.6" height="176" fill="none" stroke="#151515" stroke-width="1.25"/>
<path d="M41.9 679.5v-2.8M41.9 503.5v2.8M67.1 679.5v-2.8M67.1 503.5v2.8M92.4 679.5v-2.8M92.4 503.5v2.8M117.6 679.5v-2.8M117.6 503.5v2.8M142.8 679.5v-2.8M142.8 503.5v2.8M168.1 679.5v-2.8M168.1 503.5v2.8M193.3 679.5v-2.8M193.3 503.5v2.8M218.5 679.5v-2.8M218.5 503.5v2.8M54.5 679.5v-1.6M54.5 503.5v1.6M79.7 679.5v-1.6M79.7 503.5v1.6M105 679.5v-1.6M105 503.5v1.6M130.2 679.5v-1.6M130.2 503.5v1.6M155.4 679.5v-1.6M155.4 503.5v1.6M180.7 679.5v-1.6M180.7 503.5v1.6M205.9 679.5v-1.6M205.9 503.5v1.6M41.9 679.5h2.8M218.5 679.5h-2.8M41.9 654.4h2.8M218.5 654.4h-2.8M41.9 629.2h2.8M218.5 629.2h-2.8M41.9 604.1h2.8M218.5 604.1h-2.8M41.9 578.9h2.8M218.5 578.9h-2.8M41.9 553.8h2.8M218.5 553.8h-2.8M41.9 528.7h2.8M218.5 528.7h-2.8M41.9 503.5h2.8M218.5 503.5h-2.8M41.9 666.9h1.6M218.5 666.9h-1.6M41.9 641.8h1.6M218.5 641.8h-1.6M41.9 616.6h1.6M218.5 616.6h-1.6M41.9 591.5h1.6M218.5 591.5h-1.6M41.9 566.4h1.6M218.5 566.4h-1.6M41.9 541.2h1.6M218.5 541.2h-1.6M41.9 516.1h1.6M218.5 516.1h-1.6" stroke="#222" stroke-width="1" fill="none"/>
<text x="0" y="0" font-size="9.4" font-weight="bold" text-anchor="middle" transform="translate(41.9 691) scale(1 1.14)">0</text>
<text x="0" y="0" font-size="9.4" font-weight="bold" text-anchor="middle" transform="translate(67.1 691) scale(1 1.14)">100</text>
<text x="0" y="0" font-size="9.4" font-weight="bold" text-anchor="middle" transform="translate(92.4 691) scale(1 1.14)">200</text>
<text x="0" y="0" font-size="9.4" font-weight="bold" text-anchor="middle" transform="translate(117.6 691) scale(1 1.14)">300</text>
<text x="0" y="0" font-size="9.4" font-weight="bold" text-anchor="middle" transform="translate(142.8 691) scale(1 1.14)">400</text>
<text x="0" y="0" font-size="9.4" font-weight="bold" text-anchor="middle" transform="translate(168.1 691) scale(1 1.14)">500</text>
<text x="0" y="0" font-size="9.4" font-weight="bold" text-anchor="middle" transform="translate(193.3 691) scale(1 1.14)">600</text>
<text x="0" y="0" font-size="9.4" font-weight="bold" text-anchor="middle" transform="translate(218.5 691) scale(1 1.14)">700</text>
<text x="0" y="0" font-size="9.4" font-weight="bold" text-anchor="end" transform="translate(37.8 683.2) scale(1 1.14)">0.0</text>
<text x="0" y="0" font-size="9.4" font-weight="bold" text-anchor="end" transform="translate(37.8 658.1) scale(1 1.14)">0.1</text>
<text x="0" y="0" font-size="9.4" font-weight="bold" text-anchor="end" transform="translate(37.8 632.9) scale(1 1.14)">0.2</text>
<text x="0" y="0" font-size="9.4" font-weight="bold" text-anchor="end" transform="translate(37.8 607.8) scale(1 1.14)">0.3</text>
<text x="0" y="0" font-size="9.4" font-weight="bold" text-anchor="end" transform="translate(37.8 582.6) scale(1 1.14)">0.4</text>
<text x="0" y="0" font-size="9.4" font-weight="bold" text-anchor="end" transform="translate(37.8 557.5) scale(1 1.14)">0.5</text>
<text x="0" y="0" font-size="9.4" font-weight="bold" text-anchor="end" transform="translate(37.8 532.4) scale(1 1.14)">0.6</text>
<text x="0" y="0" font-size="9.4" font-weight="bold" text-anchor="end" transform="translate(37.8 507.2) scale(1 1.14)">0.7</text>
<text x="130.3" y="709.5" font-size="12.4" font-weight="bold" text-anchor="middle">Time (s)</text>
<text transform="translate(17.2 600) rotate(-90) scale(1 1.06)" font-size="12.5" font-weight="bold" text-anchor="middle">Admittance (mS)</text>
<rect x="136.5" y="607.3" width="70.1" height="58.7" fill="#000"/>
<rect x="133.5" y="604.3" width="70.1" height="58.7" fill="#fff" stroke="#444" stroke-width="0.7"/>
<text x="136.8" y="613.5" font-size="7.8">92.7 mM NaCl</text>
<line x1="138.1" y1="621.9" x2="161.8" y2="621.9" stroke="#444" stroke-width="1.3"/>
<text x="164.4" y="624.7" font-size="7.8">0.1 µL/min</text>
<line x1="138.1" y1="633.2" x2="161.8" y2="633.2" stroke="#2a2aff" stroke-width="1.3"/>
<text x="164.4" y="636" font-size="7.8">0.2 µL/min</text>
<line x1="138.1" y1="644.2" x2="161.8" y2="644.2" stroke="#1f8f1f" stroke-width="1.3"/>
<text x="164.4" y="647" font-size="7.8">0.3 µL/min</text>
<line x1="138.1" y1="655.5" x2="161.8" y2="655.5" stroke="#b04cd8" stroke-width="1.3"/>
<text x="164.4" y="658.3" font-size="7.8">0.5 µL/min</text>
<text x="0" y="0" font-size="17" font-weight="bold" transform="translate(231.8 491.5) scale(1 1.12)">d</text>
<line x1="267.5" y1="535.4" x2="443" y2="535.4" stroke="#ff6b6b" stroke-width="0.8" stroke-dasharray="2.2 2"/>
<text x="317.3" y="531.2" font-size="10.5" font-weight="bold" fill="#ff1010" textLength="61.5" lengthAdjust="spacingAndGlyphs">92.7mM NaCl</text>
<path d="M266.8 596.6 267.3 596.2 267.9 595.4 268.4 595.5 268.9 595 269.5 594.2 270 594.2 270.6 593.4 271.1 593.1 271.6 591.9 272.2 591.7 272.8 590.9 273.3 590.6 274 591 274.7 589.8 275.5 590 276.2 589.3 276.9 589.3 277.5 589.2 278.1 588.8 278.8 588.7 279.4 588.3 280 587.3 280.6 587.7 281.3 587.4 282 586.8 282.8 586.8 283.5 587 284.2 587.4 284.9 586.3 285.7 587.1 286.4 586.6 287.2 586.3 287.8 585.5 288.4 585 289.1 584.4 289.7 584.3 290.4 583.8 291.1 583.9 291.8 584 292.5 582.9 293.2 582.6 293.9 583.6 294.6 582.5 295.3 583.1 296 582.4 296.7 582.1 297.4 581.5 298.1 581.7 298.9 581.6 299.6 580.7 300.3 580.3 301.1 580.3 301.8 580.8 302.5 580.3 303.2 579.5 304 579.5 304.7 579.3 305.4 579.4 306.2 578.7 306.9 578.6 307.7 578.5 308.4 578 309.1 578 309.8 578.1 310.6 577.6 311.3 576.8 312 576.9 312.8 577 313.5 576.3 314.2 576.3 314.9 576.4 315.6 576.1 316.4 575.8 317.1 576.5 317.8 575.5 318.6 576.4 319.3 575.4 320 575.9 320.7 575.6 321.4 575.2 322.1 575.2 322.9 575.3 323.6 574.4 324.3 573.8 325 573.7 325.6 574.1 326.2 573.4 326.8 573.1 327.3 572.3 327.9 571.8 328.5 571.8 329.1 571.2 329.7 571.2 330.2 569.9 330.8 569.7 331.4 569.7 332 569.5 332.6 568.6 333.2 568.6 333.8 567.4 334.4 567.6 335 566.8 335.6 566.9 336.1 566 336.7 565.5 337.3 565.2 337.9 565.3 338.5 564.9 339.1 564.8 339.7 563.8 340.3 563 341 563.7 341.8 562.8 342.5 563.2 343.2 562.7 343.9 562.4 344.6 561.7 345.4 561.8 346.1 562.2 346.8 561.7 347.6 562 348.3 561.7 349 561.1 349.6 561.3 350.3 559.7 350.9 559.8 351.5 559.6 352.2 558.7 352.8 559.3 353.5 558 354.1 558.1 354.7 557.4 355.4 557.1 356 556.9 356.8 556.4 357.6 556.1 358.4 556.4 359.2 556.2 360 555.3 360.7 556.1 361.4 554.8 362.1 554.7 362.8 554.5 363.5 554.4 364.2 554.3 364.8 554.5 365.5 553.3 366.2 553.6 366.9 553.4 367.6 552.7 368.3 552.6 369 552.4 369.6 552.6 370.3 552.2 370.9 551.5 371.6 550.6 372.2 550.6 372.9 550.9 373.5 550.1 374.2 549.7 374.8 549.6 375.5 548.6 376.1 549 376.8 548.8 377.5 547.9 378.2 548.1 378.9 548.4 379.6 547.5 380.3 547.6 381 547.2 381.7 547.3 382.4 546.9 383.1 546.6 383.8 547.1 384.5 546.6 385.2 546.8 385.9 545.8 386.6 545.7 387.3 545.4 388 545.8 388.7 544.9 389.4 545.1 390.1 544.3 390.8 544.5 391.5 544 392.2 544.5 392.9 543.6 393.6 544.1 394.3 543.4 395 542.8 395.7 542.8 396.4 543 397.1 542.5 397.8 542.4 398.5 541.8 399.2 541.6 399.9 540.8 400.6 541.4 401.3 540.9 402 540.6 402.7 539.9 403.4 540.2 404.1 539.7 404.8 539.2 405.5 539.7 406.2 539.2 406.9 538.8 407.6 538.8 408.3 538.4 409 537.7 409.7 538.1 410.4 537.8 411.1 537.3 411.8 536.7 412.5 536.5 413.2 535.7 413.9 536.5 414.5 536.1 415.2 535.6 415.9 535.2 416.6 535.3 417.3 534.1 418 534.3 418.7 533.9 419.4 534.1 420.1 533.5 420.8 533.6 421.5 533.7 422.2 532.9 423 532.3 423.7 531.9 424.4 532.7 425.1 532 425.8 531.8 426.5 531.6 L426.5 533.6 425.8 534 425.1 534.4 424.4 534 423.7 534.8 423 535.4 422.2 535.2 421.5 535.9 420.8 535.2 420.1 536 419.4 535.8 418.7 536.5 418 536.7 417.3 536.5 416.6 537.3 415.9 537.3 415.2 538 414.5 538.3 413.9 538.2 413.2 538.7 412.5 538.5 411.8 538.6 411.1 539 410.4 540 409.7 540.1 409 540 408.3 540.2 407.6 540.9 406.9 541.5 406.2 540.8 405.5 542 404.8 542 404.1 541.9 403.4 542.7 402.7 542.5 402 543.4 401.3 543 400.6 544.1 399.9 543.9 399.2 543.6 398.5 544.5 397.8 544.8 397.1 545.5 396.4 545.7 395.7 545.4 395 545.9 394.3 546 393.6 546.6 392.9 546.6 392.2 547.1 391.5 547.7 390.8 547.6 390.1 547.6 389.4 548.2 388.7 548 388 548.2 387.3 548.5 386.6 549.3 385.9 549.7 385.2 549.4 384.5 550 383.8 549.3 383.1 550.3 382.4 549.9 381.7 550 381 551 380.3 551 379.6 551.3 378.9 551.8 378.2 551.1 377.5 551.7 376.8 552 376.1 552 375.5 552.6 374.8 553.4 374.2 553.6 373.5 554.2 372.9 554.3 372.2 555 371.6 554.9 370.9 555.5 370.3 555.6 369.6 556.3 369 556.5 368.4 556.6 367.7 557.7 367.1 557.3 366.4 557.4 365.8 558.4 365.1 558.2 364.5 558.5 363.9 559.2 363.2 558.8 362.6 559.3 361.9 559.3 361.3 560.2 360.6 560.8 360 560.6 359.3 560.5 358.7 560.9 358 561.7 357.3 561.5 356.7 561.3 356 562 355.4 562.2 354.7 563.2 354.1 563.9 353.5 564.3 352.8 564.2 352.2 564.9 351.5 565 350.9 564.9 350.3 565.5 349.6 566.8 349 567.2 348.3 567.3 347.7 566.8 347 567.3 346.3 567.5 345.7 567.5 345 568.3 344.3 567.9 343.6 568.8 343 568.4 342.3 568.5 341.6 569.6 341 569 340.3 569.8 339.7 569.8 339.1 570.3 338.5 570.7 337.9 570.7 337.3 571.4 336.7 572.4 336.1 572.7 335.6 573 335 573.6 334.4 573 333.8 573.7 333.2 574.7 332.6 574.6 332 575 331.4 575.6 330.8 576 330.2 576.5 329.7 576.2 329.1 576.9 328.5 577.6 327.9 578.4 327.3 578.6 326.8 579.2 326.2 579.8 325.6 579.7 325 580.4 324.3 579.9 323.6 580.7 322.9 580.4 322.1 580.7 321.4 581.7 320.7 582 320 582.3 319.3 581.8 318.6 582.2 317.8 582.1 317.1 582.6 316.4 582.2 315.6 582.3 314.9 583.3 314.2 582.8 313.5 583.8 312.8 583.2 312 584.1 311.3 584.1 310.6 584.4 309.8 585.3 309.1 584.9 308.4 585.5 307.7 585.8 306.9 585.6 306.2 586.2 305.4 585.8 304.7 586.8 304 586.9 303.2 587.4 302.5 586.5 301.8 587.6 301.1 587.6 300.3 588 299.6 587.8 298.9 588.7 298.1 588.2 297.4 588.9 296.7 589.4 296 589.8 295.3 589.8 294.6 589.5 293.9 590.4 293.2 590.2 292.5 589.9 291.8 590.8 291.1 591.2 290.4 591.2 289.7 590.8 289.2 591.7 288.7 592.2 288.2 592.6 287.7 593.3 287.2 594.2 286.4 594 285.7 594.5 284.9 594.9 284.2 595.4 283.5 595.2 282.8 594.6 282 595.7 281.3 595.8 280.6 595.8 279.9 595.6 279.1 596.5 278.4 595.9 277.6 596.4 276.9 596.8 276.2 596.8 275.5 597.3 274.7 597.3 274 598.6 273.3 598.4 272.6 598.8 272 598.7 271.3 599.5 270.7 599.8 270 600 269.4 600 268.7 601.4 268.1 600.7 267.4 601.2 266.8 601.4Z" fill="#6e6e6e" fill-opacity="0.85"/>
<path d="M266.8 599.4 267.4 599.1 268.1 598.7 268.7 598.1 269.4 597.3 270 597.3 270.7 596.8 271.3 596 272 595.9 272.6 595.4 273.3 594.5 274.2 594 275.1 593.7 276 593.5 276.9 592.9 277.6 592.6 278.4 592.5 279.1 591.7 279.9 591.7 280.6 591.2 281.5 591.4 282.4 591 283.3 591.1 284.2 590.8 285.2 590.3 286.2 590.6 287.2 589.9 287.8 589.3 288.4 589.1 289.1 588.1 289.7 587.6 290.5 587.2 291.3 587.2 292 587.3 292.8 587.1 293.6 586.9 294.4 586.8 295.1 586.1 295.9 585.8 296.7 585.6 297.5 585.7 298.4 585.2 299.2 584.8 300 584.7 300.8 584 301.7 583.9 302.5 583.4 303.3 583 304.2 583.2 305 582.6 305.9 582.7 306.7 582.5 307.6 582 308.4 581.8 309.2 581.3 310.1 580.9 310.9 581 311.7 580.5 312.5 580.3 313.4 579.9 314.2 579.5 315 579.3 315.9 579.7 316.7 579.3 317.5 579 318.3 579.4 319.2 578.8 320 578.7 320.8 578.4 321.7 578.3 322.5 578.2 323.3 577.4 324.2 577.7 325 577.2 325.7 576.8 326.4 576 327.1 575.5 327.8 574.8 328.5 574.4 329.2 574.3 329.9 573.4 330.6 573.3 331.3 572.7 332 572.3 332.7 571.3 333.4 571 334.1 570.9 334.8 570 335.5 569.5 336.1 568.9 336.8 568.8 337.5 568.4 338.2 567.7 338.9 567.2 339.6 567.1 340.3 566.3 341.1 566.5 341.9 566.3 342.7 565.7 343.5 565.3 344.3 565.4 345 564.9 345.8 564.6 346.6 564.8 347.4 564.4 348.2 564 349 563.7 349.7 563.6 350.4 563.3 351.1 562.5 351.8 562.2 352.5 561.5 353.2 561.2 353.9 560.9 354.6 560.2 355.3 560 356 559.5 356.8 558.9 357.6 558.7 358.4 558.7 359.2 558.2 360 558.2 360.8 558 361.5 557.7 362.2 557.5 363 557 363.8 556.8 364.5 556.1 365.2 556.3 366 556 366.8 555.5 367.5 555.3 368.2 554.8 369 554.5 369.7 553.9 370.4 553.7 371.1 553.5 371.8 553.1 372.6 552.8 373.3 552.2 374 552.1 374.7 551.3 375.4 550.7 376.1 550.5 376.9 550.4 377.8 550.3 378.6 549.6 379.5 549.2 380.3 549.5 381.1 548.8 382 549 382.8 548.6 383.7 548 384.5 548 385.3 547.9 386 547.3 386.8 547.6 387.6 546.7 388.3 546.5 389.1 546.5 389.8 546.3 390.6 546 391.4 546 392.1 545.2 392.9 544.9 393.7 544.9 394.4 544.5 395.2 544.3 396 544 396.7 544 397.5 543.3 398.2 543.3 399 542.9 399.8 542.4 400.5 542.6 401.3 541.8 402.1 541.6 402.8 541.2 403.6 541.3 404.4 541 405.1 540.5 405.9 540 406.6 540 407.4 539.6 408.2 539.4 408.9 539.2 409.7 538.5 410.5 538.2 411.2 538.4 412 538.2 412.7 537.3 413.5 537.1 414.2 536.9 415 536.9 415.7 536.3 416.5 536.4 417.2 535.5 418 535.8 418.8 534.9 419.5 535 420.3 535 421.1 534.6 421.9 534.5 422.6 533.8 423.4 534 424.2 533.7 425 533 425.7 533.1 426.5 532.6" fill="none" stroke="#111" stroke-width="0.9" stroke-linejoin="round"/>
<path d="M266.8 598 267.3 596.8 267.8 596.4 268.3 596.2 268.8 595.4 269.3 595.2 269.8 594.2 270.3 593.6 270.8 592.8 271.3 592.3 271.8 592.4 272.3 591.2 272.8 591.3 273.3 590.6 273.9 589.9 274.5 589.2 275.1 588.5 275.7 588.2 276.3 588.5 276.9 588.2 277.6 587.9 278.4 587 279.1 587.5 279.9 586.8 280.6 586.5 281.2 586.5 281.7 586 282.2 585.4 282.8 584.5 283.4 583.9 283.9 583.5 284.4 583.1 285 582.6 285.6 582.5 286.2 581.8 286.7 581.2 287.3 581.4 287.9 580.4 288.5 579.5 289.1 579 289.6 579.1 290.2 578.1 290.8 578.2 291.4 577.2 292 577.2 292.6 577 293.2 576.5 293.8 575.8 294.3 576 294.9 575.7 295.5 575.1 296.1 574.8 296.7 574.5 297.5 573.7 298.3 573.6 299 573.3 299.8 573.5 300.6 572.7 301.4 572.5 302 572.3 302.5 571.8 303.1 571.8 303.7 570.6 304.3 569.8 304.8 569.7 305.4 569.7 306.1 568.5 306.9 568.6 307.6 568.3 308.4 568.2 308.8 567.1 309.2 566.8 309.7 566.6 310.1 566 310.5 565 311.1 564.3 311.7 564.1 312.4 563.7 313 563.2 313.6 562.7 314.2 562 314.7 561.7 315.1 560.7 315.6 560 316.1 559.2 316.6 559.1 317 558.1 317.5 557.6 318.1 557.1 318.7 556.7 319.3 556.2 319.9 556.3 320.4 555.4 321 554.9 321.6 554.3 322.2 553.9 322.8 553.7 323.4 553.7 324.1 554 324.8 554.1 325.4 554.2 325.9 553.7 326.4 553.1 326.8 552.7 327.3 552 327.8 551.8 328.3 551.5 328.8 550.5 329.3 550.6 329.7 549.8 330.2 549.4 330.7 548.7 331.3 548.6 331.8 547.9 332.4 546.9 332.9 546.8 333.5 546 334 545.9 334.6 545 335.1 544.4 335.7 543.7 336.2 544.1 336.8 542.7 337.3 542.4 337.9 542.6 338.4 541.3 339 541.2 339.5 540.8 340 540.6 340.6 540.2 341.1 539.9 341.6 538.8 342.2 538.1 342.7 537.8 343.3 537.2 343.8 537 344.5 537.1 345.2 537.2 345.8 536.3 346.5 536.3 347.2 536.7 347.9 536.2 348.5 535.9 349.2 535.3 349.9 535.2 350.5 534.8 351.1 534.6 351.6 533.5 352.2 533.4 352.8 533.2 353.4 532.3 L353.4 535.1 352.9 535.7 352.4 536.2 351.9 536.6 351.4 537.4 350.9 538 350.4 538 349.9 538.3 349.2 539.1 348.5 539.2 347.9 539.2 347.2 540 346.5 540.2 345.8 540.1 345.2 540.1 344.5 540.9 343.8 541.2 343.3 541.6 342.7 542.1 342.2 542 341.6 542.5 341.1 543.4 340.6 543.6 340 544 339.5 544.4 339 544.8 338.4 545.7 337.9 546.1 337.3 546.8 336.8 547.3 336.2 547.6 335.7 548.5 335.1 549.2 334.6 549.6 334 549.3 333.5 549.9 332.9 550.5 332.4 550.9 331.8 552 331.3 552.1 330.7 552.6 330.2 553.6 329.7 554.3 329.3 554.3 328.8 555.3 328.3 555.6 327.8 555.9 327.3 556.8 326.8 557.4 326.4 557.9 325.9 558.4 325.4 558.4 324.5 558.1 323.7 558 322.8 557.7 322.3 558.8 321.7 559.1 321.2 559.8 320.7 559.6 320.1 560.5 319.6 560.6 319.1 561.8 318.6 561.9 318 562.3 317.5 563.2 317.1 564 316.7 563.7 316.3 564.5 315.9 565.3 315.4 566 315 566.3 314.6 566.7 314.2 567.9 313.6 568.4 313 568.8 312.4 569 311.7 569.6 311.1 569.6 310.5 569.4 310 570.3 309.4 571.1 308.9 572.1 308.4 571.8 307.6 572.5 306.9 572.7 306.1 572.8 305.4 572.9 304.8 574 304.3 574.7 303.7 574.5 303.1 574.8 302.5 575.7 302 576.7 301.4 576.7 300.6 577.3 299.8 577.4 299 577.2 298.3 577.2 297.5 577.7 296.7 578.3 296.1 578.5 295.5 578.4 294.9 578.9 294.3 579.5 293.8 580.2 293.2 580.8 292.6 580.7 292 580.7 291.4 581.1 290.8 582 290.2 582.4 289.6 582.7 289.1 583.5 288.5 583.7 287.9 583.7 287.3 584.4 286.7 584.8 286.2 585.8 285.6 586.2 285 586.1 284.4 587 283.9 587.4 283.4 587.6 282.8 588.3 282.2 588.7 281.7 589.2 281.2 589.4 280.6 590 279.9 590.5 279.1 591 278.4 591.3 277.6 591.1 276.9 591.1 276.3 592.2 275.7 592.2 275.1 592.7 274.5 592.9 273.9 593.3 273.3 593.9 272.8 594.3 272.3 594.8 271.8 595.7 271.3 595.7 270.8 596.4 270.3 596.6 269.8 597.2 269.3 598 268.8 598.6 268.3 599 267.8 599.3 267.3 599.7 266.8 599.9Z" fill="#5c5cff" fill-opacity="0.85"/>
<path d="M266.8 598.9 267.4 598.1 268 597.9 268.6 597.3 269.2 596.4 269.8 596 270.3 595.4 270.9 594.7 271.5 594.1 272.1 593.6 272.7 592.4 273.3 592.3 274 591.5 274.7 591.2 275.5 590.6 276.2 589.8 276.9 589.6 277.8 589 278.8 589.1 279.7 588.6 280.6 588.3 281.2 587.7 281.9 587.5 282.5 586.9 283.1 586.2 283.7 585.9 284.4 585 285 584.9 285.6 584.2 286.3 583.8 286.9 583.2 287.6 582.9 288.2 582.2 288.9 581.5 289.5 581.1 290.2 580.6 290.8 579.9 291.5 579.4 292.3 579.2 293 578.7 293.8 578.3 294.5 577.6 295.2 577 296 576.4 296.7 576.1 297.5 575.9 298.3 575.9 299 575.5 299.8 575.1 300.6 574.9 301.4 574.5 302.1 574.4 302.7 573.6 303.4 573 304.1 572.2 304.7 571.9 305.4 571.5 306.1 570.9 306.9 570.8 307.6 570.6 308.4 570.2 308.9 569.5 309.4 568.6 310 568.2 310.5 567.5 311.2 567.2 312 566.4 312.7 565.8 313.5 565.6 314.2 565 314.8 564.1 315.3 563.5 315.9 562.4 316.4 561.7 316.9 561.4 317.5 560.4 318.2 560 318.8 559 319.5 558.6 320.1 557.8 320.8 557.6 321.5 556.9 322.1 556.1 322.8 555.5 323.7 555.7 324.5 556 325.4 556.6 326 555.8 326.6 555 327.2 554.5 327.8 553.9 328.3 553.6 328.9 552.6 329.5 552 330.1 551.7 330.7 550.9 331.3 550.2 331.9 549.6 332.5 548.9 333.1 548.3 333.8 547.9 334.4 547.5 335 546.6 335.6 546.2 336.2 545.5 336.8 545.2 337.4 544.5 338.1 544.1 338.7 543.6 339.3 542.8 340 542.3 340.6 541.5 341.3 541 341.9 540.7 342.5 540.3 343.2 539.3 343.8 539.3 344.7 539 345.5 538.4 346.4 538.3 347.3 538.1 348.2 537.6 349 537.4 349.9 537.3 350.5 536.6 351.1 536 351.6 535.5 352.2 534.6 352.8 534.3 353.4 533.7" fill="none" stroke="#1818ff" stroke-width="0.9" stroke-linejoin="round"/>
<path d="M266.8 597.3 267.2 596.6 267.6 596.3 268 595.8 268.4 595 268.8 594.4 269.2 593.9 269.6 593.1 270.1 592.9 270.5 591.7 270.9 590.9 271.3 590.7 271.7 590.2 272.1 589.4 272.5 588.8 272.9 588.1 273.3 587.4 273.9 587.4 274.5 586.9 275.1 586 275.7 585.7 276.3 585.2 276.9 584.4 277.5 584.4 278.1 583.7 278.8 583.5 279.4 583 280 582.4 280.6 581.4 281.2 580.7 281.7 580.7 282.2 579.6 282.8 579.5 283.4 578.5 283.9 578.4 284.4 577.3 285 576.8 285.5 576.9 286.1 576.2 286.6 575.7 287.1 575.6 287.6 575 288.2 574.1 288.7 574 289.2 573.3 289.7 572.9 290.3 572.3 290.8 571.8 291.4 571.4 292 570.8 292.6 570.3 293.1 570.4 293.7 569.5 294.3 569.1 294.9 568.8 295.3 568.2 295.7 567.2 296.2 567.3 296.6 566.7 297 566 297.4 565.1 297.8 564.9 298.3 564.2 298.7 563.1 299.1 562.8 299.5 562.5 299.9 561.8 300.4 561.6 300.8 560.9 301.2 560.4 301.7 560 302.2 558.9 302.7 558.9 303.2 557.6 303.7 557.7 304.2 556.7 304.7 556.5 305.1 555.9 305.6 555.1 306.1 555 306.6 554.6 307.1 553.6 307.6 553.1 308.1 553 308.6 552.3 309.1 551.4 309.6 551.1 310.2 551.1 310.7 550 311.2 549.5 311.7 549.1 312.3 548.9 312.8 548.4 313.3 547.5 313.8 547.2 314.4 546.2 314.9 545.7 315.4 545.4 315.9 545.1 316.5 544.2 317 543.6 317.5 543.7 318 542.6 318.4 542 318.9 541.5 319.3 541 319.8 540.6 320.3 540.3 320.7 539.8 321.2 539 321.6 538.7 322.1 538 322.6 537.7 323 536.8 323.5 536.6 324 535.6 324.4 535.8 324.9 534.7 325.3 534.5 325.8 533.9 L325.8 536.1 325.3 536.4 324.9 537.2 324.4 537.7 324 538.6 323.5 538.5 323 539.7 322.6 539.7 322.1 540.7 321.6 540.6 321.2 541.6 320.7 542.3 320.3 542.5 319.8 543.5 319.3 544 318.9 544.2 318.4 544.4 318 545 317.5 545.5 317 546.4 316.5 546.4 316 547.7 315.5 548.2 315 548.3 314.5 548.6 314 549 313.5 550.2 313.1 550.4 312.6 550.7 312.1 551.3 311.6 552 311.1 552.3 310.6 552.7 310.1 553.6 309.6 554.2 309.1 554.1 308.6 554.8 308.1 555.6 307.6 555.8 307.1 556.6 306.6 557.3 306.1 557.4 305.6 558.4 305.1 559 304.7 558.9 304.2 559.3 303.7 560.5 303.2 561.1 302.7 561 302.2 562.1 301.7 562.1 301.2 563.1 300.8 563.2 300.4 564.2 299.9 564.5 299.5 565.2 299.1 566 298.7 566.7 298.3 566.8 297.8 567.3 297.4 568.5 297 568.6 296.6 569.4 296.2 569.6 295.7 570.3 295.3 570.7 294.9 571.9 294.3 572.2 293.7 572.7 293.1 573.3 292.6 573.8 292 574.5 291.4 574.4 290.8 575 290.3 575.8 289.7 575.9 289.2 576.9 288.7 576.8 288.2 577.7 287.6 578.1 287.1 578.4 286.6 579.3 286.1 579.9 285.5 580.4 285 580.9 284.5 581.2 284 581.5 283.5 582.4 283 582.9 282.6 583.4 282.1 584.3 281.6 584.3 281.1 585.4 280.6 585.2 280.1 586.2 279.5 586.5 279 586.8 278.5 587.9 278 587.8 277.4 588.2 276.9 589.1 276.3 589.4 275.7 590.1 275.1 590.7 274.5 590.8 273.9 591.6 273.3 591.9 272.9 592.8 272.4 592.8 272 594.1 271.6 594.3 271.1 594.7 270.7 595.3 270.3 596 269.8 596.5 269.4 597.5 269 597.9 268.5 598.5 268.1 598.9 267.7 599.2 267.2 599.9 266.8 600.3Z" fill="#4fa84f" fill-opacity="0.85"/>
<path d="M266.8 599 267.3 598.5 267.7 597.7 268.2 597.3 268.7 596.4 269.1 595.9 269.6 594.9 270.1 594.5 270.5 593.8 271 593.3 271.4 592.3 271.9 591.8 272.4 591.3 272.8 590.3 273.3 589.7 274 589.4 274.7 588.7 275.5 588.1 276.2 587.2 276.9 587 277.5 586.3 278.1 585.7 278.8 585.2 279.4 584.5 280 584.3 280.6 583.7 281.2 583.2 281.7 582.5 282.2 581.7 282.8 581.2 283.4 580.9 283.9 579.8 284.4 579.4 285 578.7 285.6 578.1 286.3 577.6 286.9 577.2 287.6 576.3 288.2 576.1 288.9 575.3 289.5 574.6 290.2 574 290.8 573.6 291.5 572.9 292.2 572.4 292.9 571.7 293.5 571.2 294.2 570.7 294.9 569.9 295.4 569.4 295.9 568.9 296.4 568.2 296.8 567.3 297.3 566.9 297.8 565.9 298.3 565.3 298.8 564.6 299.3 564.2 299.7 563.3 300.2 562.7 300.7 562 301.2 561.7 301.8 560.7 302.3 560.4 302.9 559.8 303.5 559 304 558.5 304.6 557.8 305.2 557.4 305.8 556.7 306.3 555.8 306.9 555.5 307.5 554.6 308 554.2 308.6 553.4 309.2 553 309.8 552.5 310.4 551.9 311 551.1 311.6 550.4 312.2 550 312.8 549.6 313.3 548.8 313.9 548.3 314.5 547.7 315.1 547.1 315.7 546.6 316.3 546 316.9 545.3 317.5 544.8 318.1 543.8 318.6 543.2 319.2 542.8 319.7 542.1 320.3 541.6 320.8 540.9 321.4 540 321.9 539.3 322.5 538.9 323 538 323.6 537.6 324.1 536.8 324.7 536.2 325.2 535.7 325.8 535" fill="none" stroke="#137f13" stroke-width="0.9" stroke-linejoin="round"/>
<path d="M266.8 596.1 267 595.4 267.2 594.2 267.3 594.3 267.5 593.5 267.7 593 267.9 592 268 591.3 268.2 590.9 268.4 590.1 268.6 589.3 268.7 588 268.9 587.3 269.1 587.3 269.2 586.7 269.4 585.6 269.6 584.7 270 584.4 270.4 584.2 270.8 583.6 271.2 582.4 271.7 581.9 272.1 581.3 272.5 581.3 272.9 580.2 273.3 580.3 273.8 579.3 274.3 578.5 274.8 578.2 275.4 577.4 275.9 577.6 276.4 576.2 276.9 576 277.4 575.5 278 574.7 278.5 574.4 279 574.6 279.5 574 280.1 573.1 280.6 573.1 280.9 572.4 281.3 571.6 281.6 570.8 281.9 569.9 282.2 569.1 282.6 568.6 282.9 567.8 283.3 567.6 283.7 566.1 284.1 566.2 284.5 565.5 284.8 564.5 285.2 564.3 285.6 563.1 286 562.6 286.4 562.2 286.8 561.9 287.2 560.5 287.5 560.5 287.9 559.6 288.3 559.2 288.7 558 289.1 557.7 289.5 557.3 289.8 556.6 290.2 555.8 290.6 555.2 291.1 554.4 291.6 553.8 292.1 552.8 292.6 552.6 293.1 552.4 293.6 551.8 294.1 550.3 294.6 550 294.9 549.2 295.2 549.1 295.6 547.8 295.9 547.7 296.2 546.4 296.5 545.8 296.9 545.8 297.2 544.2 297.5 544 297.9 543 298.4 542.9 298.8 541.5 299.2 541.5 299.7 540.4 300.1 540.5 300.6 539.2 301 538.9 301.5 537.6 302 537.9 302.5 536.9 302.9 536.6 303.4 535.8 303.9 534.5 304.4 534.3 L304.4 536.5 304 537.2 303.5 538 303.1 538.4 302.7 539.1 302.3 539.5 301.9 539.6 301.4 540.1 301 541 300.6 541.9 300.2 542 299.8 543.1 299.4 543.4 299.1 543.8 298.7 545 298.3 545.1 297.9 546 297.5 546.4 297.2 546.7 296.9 547.8 296.6 548.2 296.3 549.4 296.1 550 295.8 550.6 295.5 551.3 295.2 551.4 294.9 552 294.6 552.6 294.2 553.9 293.7 554.4 293.3 554.6 292.8 555.1 292.4 556.1 291.9 556.2 291.5 557.1 291 557.4 290.6 558.5 290.2 558.6 289.9 559.7 289.6 559.9 289.2 560.3 288.9 561.7 288.5 562.3 288.1 562.8 287.8 563.1 287.4 564.1 287.1 564.1 286.8 565.1 286.4 565.3 286 566.1 285.6 566.5 285.2 568 284.8 568.1 284.5 568.6 284.1 569.8 283.7 570.5 283.3 571.4 282.9 571.4 282.6 572.6 282.3 573.5 282 573.3 281.8 574.5 281.5 575.5 281.2 575.5 280.9 576.7 280.6 577.4 280.1 578 279.5 577.7 279 578.5 278.5 579.6 278 580.1 277.4 579.9 276.9 580.9 276.4 581.3 275.9 581.9 275.4 583.2 274.8 583.1 274.3 583.5 273.8 584.2 273.3 585.1 272.9 586.1 272.5 586.6 272.1 586.4 271.7 587.5 271.2 588.1 270.8 588.7 270.4 589.4 270 589.4 269.6 590.7 269.4 590.7 269.2 591.8 269 592 268.8 592.5 268.6 593.4 268.4 594 268.2 595.2 268 595.4 267.8 596.3 267.6 597.4 267.4 598.3 267.2 598.3 267 599.2 266.8 600.2Z" fill="#b060c8" fill-opacity="0.8"/>
<path d="M266.8 598.1 267 597.4 267.2 596.4 267.4 595.6 267.7 594.6 267.9 593.9 268.1 593 268.3 592.2 268.5 591.5 268.7 590.7 269 590 269.2 589.4 269.4 588.3 269.6 587.8 270.1 587 270.7 586 271.2 585.5 271.7 584.5 272.2 583.7 272.8 583.1 273.3 582.4 273.9 581.6 274.5 580.9 275.1 580.7 275.7 580 276.3 579.3 276.9 578.3 277.5 577.7 278.1 577.5 278.8 576.6 279.4 576 280 575.6 280.6 574.9 280.9 574.1 281.3 573.2 281.6 572.5 281.9 572 282.2 571.4 282.6 570.2 282.9 569.6 283.3 569 283.8 568.1 284.2 567.5 284.6 566.8 285.1 566 285.5 565.2 286 564.6 286.4 564.1 286.8 563 287.2 562.4 287.7 561.8 288.1 561 288.5 560.1 288.9 559.7 289.3 558.9 289.8 558.2 290.2 557.1 290.6 556.5 291.2 555.8 291.7 555.3 292.3 554.5 292.9 553.7 293.5 553 294 552.5 294.6 551.5 295 550.6 295.3 549.8 295.7 549.1 296.1 548.2 296.4 547.8 296.8 546.8 297.1 546.1 297.5 545.2 298 544.5 298.5 543.5 299 543.1 299.5 542.1 300 541.4 300.5 540.8 301 540.1 301.5 539.5 302 538.6 302.5 537.9 302.9 537.5 303.4 536.6 303.9 535.9 304.4 535.4" fill="none" stroke="#7e1a8e" stroke-width="0.9" stroke-linejoin="round"/>
<path d="M266.8 582 267 580.9 267.3 580 267.5 579.9 267.7 578.5 267.8 578.2 268 577 268.2 576 268.3 576.1 268.5 575.4 268.8 574.6 269.1 573.9 269.3 572.6 269.6 572.4 270.1 572.1 270.6 571.3 271 570.4 271.5 569.7 271.9 568.4 272.4 567.5 272.9 568 273.3 566.1 273.8 565.8 274.3 565.4 274.8 565.2 275.3 564.5 275.8 564.1 276.3 563.6 276.7 562.1 277.2 561.4 277.6 560.7 278 560.4 278.5 559.4 278.9 560 279.3 558.9 279.7 558.2 280.2 557 280.6 557.6 280.9 556 281.2 556.1 281.5 554.6 281.8 554 282.1 553.2 282.3 553.1 282.6 552.1 282.9 551.8 283.2 551.4 283.5 550 283.8 549.2 284.2 549 284.5 548.2 284.9 547.5 285.2 546.7 285.6 545.7 285.9 545 286.5 545.3 287.1 544.7 287.6 544.2 288.2 543.6 288.8 542.9 289.4 542 289.9 542.4 290.4 541.3 290.9 540.7 291.4 539.8 292 539.4 292.5 539.7 293 538.4 293.5 538.4 294 537.4 L294 540.2 293.5 541.3 293.1 541.5 292.6 541.3 292.2 542.1 291.7 543.1 291.2 543.8 290.8 543.5 290.3 543.9 289.9 544.9 289.4 545.9 288.9 546.8 288.4 546.8 287.9 547.9 287.4 547.9 286.9 548.9 286.4 548.4 285.9 548.8 285.7 550.1 285.4 550.7 285.2 550.9 284.9 551.6 284.7 552.5 284.5 553.6 284.2 553.7 284 554.9 283.7 556.1 283.5 556.2 283.3 557 283 557.6 282.8 559 282.5 558.7 282.3 560.5 282.1 561 281.8 561.5 281.6 562.2 281.3 562.3 281.1 563.5 280.8 564.3 280.6 565.4 280.2 565.2 279.9 566.1 279.5 567.5 279.2 567.8 278.8 567.7 278.5 568.3 278.1 569.7 277.7 570.8 277.4 571.6 277 571.9 276.7 572.9 276.3 573 275.9 573 275.6 574.2 275.2 574.6 274.8 574.7 274.4 575.9 274.1 576.4 273.7 577.1 273.3 577.5 272.9 578.1 272.6 578.8 272.2 579.6 271.9 581.4 271.5 581.4 271.2 582.1 270.9 583.3 270.6 583.9 270.2 584.6 269.9 584.5 269.6 585.2 269.5 586.8 269.3 587.1 269.2 588.1 269.1 588.5 268.9 588.9 268.8 589.9 268.6 590.5 268.5 591.6 268.4 591.4 268.3 592.4 268.2 593.7 268.1 593.9 268 595.2 267.9 595 267.8 596.8 267.7 596.9 267.6 598 267.5 598.4 267.4 598.9 267.2 599.5 267.1 600.3 266.9 601.4 266.8 601.5Z" fill="#a8584a" fill-opacity="0.75"/>
<path d="M266.8 591.9 267 591.2 267.3 590 267.5 588.9 267.6 588 267.8 587.4 267.9 586.6 268.1 585.4 268.2 584.6 268.4 583.7 268.5 582.9 268.7 582 268.9 581.3 269.2 580.4 269.4 579.8 269.6 578.8 270.1 577.9 270.6 577.2 271 576.2 271.5 575.3 271.9 574.5 272.4 573.7 272.9 573.2 273.3 572.1 273.8 571.6 274.3 571.1 274.8 570.2 275.3 569.3 275.8 568.7 276.3 568 276.7 567.2 277.2 566.4 277.6 565.7 278 565 278.5 564.4 278.9 563.7 279.3 562.9 279.7 562.5 280.2 561.5 280.6 561 280.9 560.3 281.2 559.5 281.5 558.8 281.8 558.1 282.1 557.2 282.3 556.3 282.6 555.5 282.9 555 283.2 554.1 283.5 553.3 283.8 552.3 284.2 551.6 284.5 551.1 284.9 550 285.2 549.4 285.6 548.5 285.9 547.4 286.5 546.8 287.1 546.5 287.6 545.6 288.2 545.2 288.8 544.8 289.4 544 290 543.3 290.5 542.9 291.1 542.2 291.7 541.6 292.3 540.9 292.9 540 293.4 539.2 294 538.8" fill="none" stroke="#7a2418" stroke-width="0.9" stroke-linejoin="round"/>
<rect x="266.5" y="503.5" width="177.5" height="176" fill="none" stroke="#151515" stroke-width="1.25"/>
<path d="M266.5 679.5v-2.8M266.5 503.5v2.8M305.7 679.5v-2.8M305.7 503.5v2.8M344.9 679.5v-2.8M344.9 503.5v2.8M384.1 679.5v-2.8M384.1 503.5v2.8M423.3 679.5v-2.8M423.3 503.5v2.8M286.1 679.5v-1.6M286.1 503.5v1.6M325.3 679.5v-1.6M325.3 503.5v1.6M364.5 679.5v-1.6M364.5 503.5v1.6M403.7 679.5v-1.6M403.7 503.5v1.6M442.9 679.5v-1.6M442.9 503.5v1.6M266.5 679.5h2.8M444 679.5h-2.8M266.5 654.4h2.8M444 654.4h-2.8M266.5 629.2h2.8M444 629.2h-2.8M266.5 604.1h2.8M444 604.1h-2.8M266.5 578.9h2.8M444 578.9h-2.8M266.5 553.8h2.8M444 553.8h-2.8M266.5 528.7h2.8M444 528.7h-2.8M266.5 503.5h2.8M444 503.5h-2.8M266.5 666.9h1.6M444 666.9h-1.6M266.5 641.8h1.6M444 641.8h-1.6M266.5 616.6h1.6M444 616.6h-1.6M266.5 591.5h1.6M444 591.5h-1.6M266.5 566.4h1.6M444 566.4h-1.6M266.5 541.2h1.6M444 541.2h-1.6M266.5 516.1h1.6M444 516.1h-1.6" stroke="#222" stroke-width="1" fill="none"/>
<text x="0" y="0" font-size="9.4" font-weight="bold" text-anchor="middle" transform="translate(266.5 691) scale(1 1.14)">0</text>
<text x="0" y="0" font-size="9.4" font-weight="bold" text-anchor="middle" transform="translate(305.7 691) scale(1 1.14)">10</text>
<text x="0" y="0" font-size="9.4" font-weight="bold" text-anchor="middle" transform="translate(344.9 691) scale(1 1.14)">20</text>
<text x="0" y="0" font-size="9.4" font-weight="bold" text-anchor="middle" transform="translate(384.1 691) scale(1 1.14)">30</text>
<text x="0" y="0" font-size="9.4" font-weight="bold" text-anchor="middle" transform="translate(423.3 691) scale(1 1.14)">40</text>
<text x="0" y="0" font-size="9.4" font-weight="bold" text-anchor="end" transform="translate(262.6 683.2) scale(1 1.14)">0.0</text>
<text x="0" y="0" font-size="9.4" font-weight="bold" text-anchor="end" transform="translate(262.6 658.1) scale(1 1.14)">0.1</text>
<text x="0" y="0" font-size="9.4" font-weight="bold" text-anchor="end" transform="translate(262.6 632.9) scale(1 1.14)">0.2</text>
<text x="0" y="0" font-size="9.4" font-weight="bold" text-anchor="end" transform="translate(262.6 607.8) scale(1 1.14)">0.3</text>
<text x="0" y="0" font-size="9.4" font-weight="bold" text-anchor="end" transform="translate(262.6 582.6) scale(1 1.14)">0.4</text>
<text x="0" y="0" font-size="9.4" font-weight="bold" text-anchor="end" transform="translate(262.6 557.5) scale(1 1.14)">0.5</text>
<text x="0" y="0" font-size="9.4" font-weight="bold" text-anchor="end" transform="translate(262.6 532.4) scale(1 1.14)">0.6</text>
<text x="0" y="0" font-size="9.4" font-weight="bold" text-anchor="end" transform="translate(262.6 507.2) scale(1 1.14)">0.7</text>
<text x="355.2" y="709.5" font-size="12.4" font-weight="bold" text-anchor="middle">Time (s)</text>
<text transform="translate(242.2 600) rotate(-90) scale(1 1.06)" font-size="12.5" font-weight="bold" text-anchor="middle">Admittance (mS)</text>
<rect x="359" y="595.6" width="72.2" height="72.8" fill="#000"/>
<rect x="356" y="592.6" width="72.2" height="72.8" fill="#fff" stroke="#444" stroke-width="0.7"/>
<text x="359.3" y="601.3" font-size="7.8">92.7 mM NaCl</text>
<line x1="361" y1="609.4" x2="385.5" y2="609.4" stroke="#222" stroke-width="1.3"/>
<text x="391.2" y="612.2" font-size="7.8">1 µL/min</text>
<line x1="361" y1="621.1" x2="385.5" y2="621.1" stroke="#2a2aff" stroke-width="1.3"/>
<text x="391.2" y="623.9" font-size="7.8">2 µL/min</text>
<line x1="361" y1="633.5" x2="385.5" y2="633.5" stroke="#1f8f1f" stroke-width="1.3"/>
<text x="391.2" y="636.3" font-size="7.8">3 µL/min</text>
<line x1="361" y1="644.6" x2="385.5" y2="644.6" stroke="#9a2ab0" stroke-width="1.3"/>
<text x="391.2" y="647.4" font-size="7.8">5 µL/min</text>
<line x1="361" y1="655.7" x2="385.5" y2="655.7" stroke="#b07a5e" stroke-width="1.3"/>
<text x="391.2" y="658.5" font-size="7.8">7 µL/min</text>
<text x="0" y="0" font-size="17" font-weight="bold" transform="translate(455.8 491.3) scale(1 1.12)">e</text>
<path d="M496.3 677.6L562.6 558.3" stroke="#ff2a2a" stroke-width="1.1" fill="none"/>
<path d="M562.6 558.3L593.9 502" stroke="#ff2a2a" stroke-width="1.1" fill="none" stroke-dasharray="3.2 2.6"/>
<path d="M496.3 677.6 498.5 671.8 500.7 666.2 502.9 660.9 505.1 655.7 507.4 650.8 509.6 646 511.8 641.4 514 637 516.2 632.7 518.4 628.5 520.6 624.6 522.8 620.7 525 617 527.2 613.4 529.5 609.9 531.7 606.5 533.9 603.2 536.1 600 538.3 597 540.5 594 542.7 591.1 544.9 588.2 547.1 585.5 549.3 582.8 551.6 580.2 553.8 577.7 556 575.3 558.2 572.9 560.4 570.5 562.6 568.3 564.8 566.1 567 563.9 569.2 561.8 571.4 559.7 573.7 557.7 575.9 555.8 578.1 553.9 580.3 552 582.5 550.2 584.7 548.4 586.9 546.7 589.1 545 591.3 543.3 593.5 541.7 595.8 540.1 598 538.5 600.2 537 602.4 535.5 604.6 534.1 606.8 532.6 609 531.2 611.2 529.9 613.4 528.5 615.6 527.2 617.8 525.9 620.1 524.6 622.3 523.4 624.5 522.2 626.7 521 628.9 519.8 631.1 518.6 633.3 517.5 635.5 516.4 637.7 515.3 639.9 514.2 642.2 513.1 644.4 512.1 646.6 511.1 648.8 510.1 651 509.1" stroke="#2a2aff" stroke-width="1.1" fill="none"/>
<rect x="497.1" y="672" width="2.8" height="2.8" fill="#111"/>
<rect x="499.3" y="668.3" width="2.8" height="2.8" fill="#111"/>
<rect x="501.5" y="665" width="2.8" height="2.8" fill="#111"/>
<rect x="506" y="657.5" width="2.8" height="2.8" fill="#111"/>
<path d="M518.4 623.6V633.3M516.9 623.6h3M516.9 633.3h3" stroke="#555" stroke-width="0.7" fill="none"/>
<rect x="517" y="627" width="2.8" height="2.8" fill="#111"/>
<path d="M540.5 591.8V597.5M539 591.8h3M539 597.5h3" stroke="#555" stroke-width="0.7" fill="none"/>
<rect x="539.1" y="593.2" width="2.8" height="2.8" fill="#111"/>
<path d="M562.6 558.6V567.4M561.1 558.6h3M561.1 567.4h3" stroke="#555" stroke-width="0.7" fill="none"/>
<rect x="561.2" y="561.6" width="2.8" height="2.8" fill="#111"/>
<path d="M606.8 513.6V536.5M605.3 513.6h3M605.3 536.5h3" stroke="#555" stroke-width="0.7" fill="none"/>
<rect x="605.4" y="523.6" width="2.8" height="2.8" fill="#111"/>
<path d="M651 511.2V520.9M649.5 511.2h3M649.5 520.9h3" stroke="#555" stroke-width="0.7" fill="none"/>
<rect x="649.6" y="514.6" width="2.8" height="2.8" fill="#111"/>
<rect x="496.3" y="502" width="176.9" height="175.6" fill="none" stroke="#151515" stroke-width="1.25"/>
<path d="M496.3 677.6v-2.8M496.3 502v2.8M518.4 677.6v-2.8M518.4 502v2.8M540.5 677.6v-2.8M540.5 502v2.8M562.6 677.6v-2.8M562.6 502v2.8M584.7 677.6v-2.8M584.7 502v2.8M606.8 677.6v-2.8M606.8 502v2.8M628.9 677.6v-2.8M628.9 502v2.8M651 677.6v-2.8M651 502v2.8M673.1 677.6v-2.8M673.1 502v2.8M507.4 677.6v-1.6M507.4 502v1.6M529.5 677.6v-1.6M529.5 502v1.6M551.5 677.6v-1.6M551.5 502v1.6M573.6 677.6v-1.6M573.6 502v1.6M595.8 677.6v-1.6M595.8 502v1.6M617.9 677.6v-1.6M617.9 502v1.6M640 677.6v-1.6M640 502v1.6M662 677.6v-1.6M662 502v1.6M496.3 677.6h2.8M673.2 677.6h-2.8M496.3 655.6h2.8M673.2 655.6h-2.8M496.3 633.7h2.8M673.2 633.7h-2.8M496.3 611.8h2.8M673.2 611.8h-2.8M496.3 589.8h2.8M673.2 589.8h-2.8M496.3 567.9h2.8M673.2 567.9h-2.8M496.3 545.9h2.8M673.2 545.9h-2.8M496.3 524h2.8M673.2 524h-2.8M496.3 502h2.8M673.2 502h-2.8M496.3 666.6h1.6M673.2 666.6h-1.6M496.3 644.7h1.6M673.2 644.7h-1.6M496.3 622.7h1.6M673.2 622.7h-1.6M496.3 600.8h1.6M673.2 600.8h-1.6M496.3 578.8h1.6M673.2 578.8h-1.6M496.3 556.9h1.6M673.2 556.9h-1.6M496.3 534.9h1.6M673.2 534.9h-1.6M496.3 513h1.6M673.2 513h-1.6" stroke="#222" stroke-width="1" fill="none"/>
<text x="0" y="0" font-size="9.4" font-weight="bold" text-anchor="middle" transform="translate(496.3 689.6) scale(1 1.14)">0</text>
<text x="0" y="0" font-size="9.4" font-weight="bold" text-anchor="middle" transform="translate(518.4 689.6) scale(1 1.14)">1</text>
<text x="0" y="0" font-size="9.4" font-weight="bold" text-anchor="middle" transform="translate(540.5 689.6) scale(1 1.14)">2</text>
<text x="0" y="0" font-size="9.4" font-weight="bold" text-anchor="middle" transform="translate(562.6 689.6) scale(1 1.14)">3</text>
<text x="0" y="0" font-size="9.4" font-weight="bold" text-anchor="middle" transform="translate(584.7 689.6) scale(1 1.14)">4</text>
<text x="0" y="0" font-size="9.4" font-weight="bold" text-anchor="middle" transform="translate(606.8 689.6) scale(1 1.14)">5</text>
<text x="0" y="0" font-size="9.4" font-weight="bold" text-anchor="middle" transform="translate(628.9 689.6) scale(1 1.14)">6</text>
<text x="0" y="0" font-size="9.4" font-weight="bold" text-anchor="middle" transform="translate(651 689.6) scale(1 1.14)">7</text>
<text x="0" y="0" font-size="9.4" font-weight="bold" text-anchor="middle" transform="translate(673.1 689.6) scale(1 1.14)">8</text>
<text x="0" y="0" font-size="9.4" font-weight="bold" text-anchor="end" transform="translate(493.2 681.3) scale(1 1.14)">0.00</text>
<text x="0" y="0" font-size="9.4" font-weight="bold" text-anchor="end" transform="translate(493.2 659.4) scale(1 1.14)">0.01</text>
<text x="0" y="0" font-size="9.4" font-weight="bold" text-anchor="end" transform="translate(493.2 637.4) scale(1 1.14)">0.02</text>
<text x="0" y="0" font-size="9.4" font-weight="bold" text-anchor="end" transform="translate(493.2 615.5) scale(1 1.14)">0.03</text>
<text x="0" y="0" font-size="9.4" font-weight="bold" text-anchor="end" transform="translate(493.2 593.5) scale(1 1.14)">0.04</text>
<text x="0" y="0" font-size="9.4" font-weight="bold" text-anchor="end" transform="translate(493.2 571.6) scale(1 1.14)">0.05</text>
<text x="0" y="0" font-size="9.4" font-weight="bold" text-anchor="end" transform="translate(493.2 549.6) scale(1 1.14)">0.06</text>
<text x="0" y="0" font-size="9.4" font-weight="bold" text-anchor="end" transform="translate(493.2 527.7) scale(1 1.14)">0.07</text>
<text x="0" y="0" font-size="9.4" font-weight="bold" text-anchor="end" transform="translate(493.2 505.7) scale(1 1.14)">0.08</text>
<text x="585" y="709.6" font-size="12.4" font-weight="bold" text-anchor="middle">Flow rate (µL/min)</text>
<text transform="translate(466.9 599.3) rotate(-90) scale(1 1.06)" font-size="12.8" font-weight="bold" text-anchor="middle">Spike frequency <tspan font-style="italic">f</tspan> (1/s)</text>
<text x="505.9" y="536.6" font-size="10" fill="#ff1010" font-family="Liberation Serif" textLength="56" lengthAdjust="spacingAndGlyphs"><tspan font-style="italic">y</tspan> = 0.01812 <tspan font-style="italic">x</tspan></text>
<text x="504.7" y="551.8" font-size="9.6" fill="#ff1010" textLength="43" lengthAdjust="spacingAndGlyphs">R<tspan font-size="5.5" dy="-3.6">2</tspan><tspan dy="3.6"> = 0.994</tspan></text>
<text x="565.4" y="603.8" font-size="9.8" fill="#2a2aff" font-family="Liberation Serif" font-style="italic">y</text>
<text x="581" y="603.6" font-size="11" fill="#2a2aff" font-family="Liberation Serif" text-anchor="end">=</text>
<line x1="583.1" y1="600.6" x2="660.7" y2="600.6" stroke="#2a2aff" stroke-width="0.8"/>
<text x="621.6" y="597.2" font-size="9.6" fill="#2a2aff" font-family="Liberation Serif" font-style="italic" text-anchor="middle">x</text>
<text x="583.4" y="610.1" font-size="9.8" fill="#2a2aff" font-family="Liberation Serif" textLength="76.8" lengthAdjust="spacingAndGlyphs">37.008 + 7.73986 <tspan font-style="italic">x</tspan></text>
<text x="563" y="623.6" font-size="9.6" fill="#2a2aff" textLength="43" lengthAdjust="spacingAndGlyphs">R<tspan font-size="5.5" dy="-3.6">2</tspan><tspan dy="3.6"> = 0.992</tspan></text>
<text x="0" y="0" font-size="17" font-weight="bold" transform="translate(1.2 743.5) scale(1 1.12)">f</text>
<line x1="43" y1="782.4" x2="384.5" y2="782.4" stroke="#ff6b6b" stroke-width="0.8" stroke-dasharray="2.2 2"/>
<line x1="43" y1="790.4" x2="384.5" y2="790.4" stroke="#ff6b6b" stroke-width="0.8" stroke-dasharray="2.2 2"/>
<line x1="43" y1="822.2" x2="555" y2="822.2" stroke="#ff6b6b" stroke-width="0.8" stroke-dasharray="2.2 2"/>
<line x1="43" y1="859" x2="661" y2="859" stroke="#ff6b6b" stroke-width="0.8" stroke-dasharray="2.2 2"/>
<path d="M42.4 795 42.6 805 43 810.3 42.8 807.2 42.8 808.2 43 807.6 43.2 806.7 43.5 807.3 43.5 804.8 43.8 805.1 43.5 804.5 43.9 803.5 44.3 803.5 44.2 802.4 44.3 800.2 44.6 799.9 44.6 800.5 44.7 799.3 44.8 798.3 45.3 798.8 45 798.3 45.5 796.8 45.4 796.8 45.7 795.4 46 795.6 45.8 794.9 46.3 794.5 46.6 793.5 46.4 793.5 46.8 791.6 46.7 791.4 47.2 791 47.5 789.6 47.5 789.2 47.4 788.8 47.9 789.3 47.5 788 48 787.4 48.1 785.8 48.4 786.6 48.3 785.6 48.7 784.9 48.8 783.4 48.7 783.6 49.1 783.4 49 781.7 49.2 781.2 49.5 788.3 49.7 793.7 49.8 798.1 50 804.6 50.1 809.2 50.4 808.5 50.4 807 50.8 806.9 50.7 806 50.6 805.3 51.1 804.8 50.9 804.1 51 804.3 51.1 803.4 52 802.8 52 801.4 52.4 801.4 52.3 802.4 52.1 800.3 52.3 799.7 52.6 799.2 52.8 798.2 53.1 798.2 52.9 797.6 53.1 796.1 53.5 796.5 53.6 796.8 53.6 794.9 53.8 793 54.1 793.5 54.2 792.8 54.4 792.1 54.2 791.7 54.6 790.6 54.5 790.4 55 790.7 55 789.4 55.3 788.2 55.3 787.4 55.6 787.7 55.8 785.4 55.7 786.4 56 785.9 56.2 784.9 56.4 784.9 56.4 783 56.4 783 57 782.4 56.9 781.8 57.1 786.4 57.3 792.9 57.4 799.1 57.6 803.8 57.7 809.3 58.2 808.6 58.3 807.9 58.3 806.8 58.5 807 58.8 806.6 58.6 804.4 58.8 805.7 58.7 803.9 59.3 804.1 59.2 803 59.4 802.2 59.5 801.7 59.8 800.5 60.1 799.5 59.7 799 60.3 798.5 60.5 798.4 60.6 797.7 61 797.4 60.6 796 61.1 796.1 61.3 796.1 61.3 794 61.6 793.5 61.6 792.8 61.9 793.8 61.7 792 62.3 791.8 62.7 791.3 62.5 790.9 62.5 789.5 62.7 789.4 63 787.9 63 788.3 63.2 787 63.4 786.2 63.4 785 63.5 786 63.8 783.8 63.6 783.6 63.7 783.2 64.1 783.1 64.1 780.8 64.5 782.7 64.7 787.5 64.9 791.9 65 798.8 65.2 803.7 65.3 809 65.6 809.9 65.8 808 66 808.2 66.3 805.4 66.1 805.9 66.5 805.3 66.7 804.5 66.4 803.6 66.7 803.6 66.9 803.3 67.3 803.3 67.2 801.6 67.8 800.2 67.6 799.8 67.5 800.6 67.6 798.5 68.3 798.1 68.4 798.3 68.5 796.6 69 796.2 68.4 796.2 68.7 795.3 68.6 795.3 69.1 795.9 69.7 794.1 69.5 792.5 69.5 792.9 69.6 791.2 69.7 791.2 70.1 790.7 70.1 789.1 70.3 789 70.3 788.6 70.8 787.6 70.6 787.2 71 786.1 71.2 786 71.1 784.7 71.6 784.7 71.5 785.3 71.6 783.2 71.9 782.4 72 782.4 71.7 781.4 72.3 786.2 72.5 793.6 72.6 796.5 72.8 804.1 73.2 809.9 73.6 808.7 73.2 807.8 73.3 807.9 73.7 807.2 73.9 806.4 73.8 805.3 74.3 804.1 74.3 804.4 74.4 802.8 74.7 802.6 74.9 801.7 75.1 801.8 75.3 799.6 75.3 799.8 75.5 800.4 75.7 798.9 75.9 797.6 76 797.2 76.4 797 76.3 797.3 76.6 795.3 76.5 795.4 77 794.6 76.8 793.6 77.1 793 77.2 793.8 77.5 792.7 77.1 792.4 77.7 790.5 78 790.1 78 789.5 78.4 788.3 78.3 788.4 78.5 788 79.1 788 79.2 787.3 79 785.8 79.5 785.3 79.3 784.2 79.4 784.9 79.6 783 79.8 783.4 80 781.9 80.2 782.1 80.5 787.7 80.7 792.9 80.8 800.2 81 803.9 81.6 808.9 81.5 808 81.4 808.7 81.6 807.7 81.9 807.2 82.1 805.5 82.1 805.1 82.1 805.1 82.2 804.1 82.9 803.9 82.7 804.3 83 801.1 83 801.9 83.2 801.1 83.3 800 83.2 798.8 83.9 799.2 83.6 798.4 84 798.5 84.2 796.8 84.2 796.3 84.4 795.7 84.8 795.7 84.9 795.5 85.1 794.4 85.4 794.8 84.9 792.6 85.6 793.6 85.7 791.5 85.6 791.1 85.8 789.5 86.3 789.8 85.9 789.1 86.2 787.8 86.3 789 86.7 786.1 86.2 786 86.6 786.4 87.1 785.9 87 784.2 87.1 784 87.5 783.5 87.7 782.9 87.8 782.2 87.3 781.1 88.1 785.6 88.3 793 88.4 799.6 88.6 802.5 89 809.2 89.1 808.1 89.1 807.9 89.5 807.7 88.9 806.3 89.4 805.2 89.8 804.3 89.6 803.4 89.8 803.5 90.2 804 90.4 802.8 90.5 802 90.7 801.5 91.2 801.2 90.9 799.8 91 800.2 91.3 798.5 91.3 798.3 91.5 797.2 91.5 797.5 92.1 797.7 91.8 795.4 92 795.3 92.1 794.6 92.3 793.2 92.5 792.7 92.6 792.4 93 791.8 92.9 791 93.3 790.7 93.6 790.6 93.4 789.2 93.5 788.5 93.6 788.3 94 787.3 94.3 786.2 94 786.1 94.2 785.3 94.8 786.1 95 784 94.9 783.7 94.8 783.7 95.2 783.5 95.4 782.2 95.6 782.2 95.7 787 95.9 792.4 96 798.9 96.2 803.8 96.5 810.3 96.9 808.5 96.5 809.2 97.2 807.5 97 807.2 97 806.7 97.3 805.3 97.5 804.4 97.6 804.5 97.7 803.9 97.8 803.2 97.8 803 98.1 801.3 98.5 801 98.6 800.2 98.8 799.8 98.8 798.4 99 799 99.4 798.1 99.6 797.8 99.8 796.5 99.7 796.2 99.8 795.7 100 795.3 100 793.3 100.4 793.7 100.4 793.2 100.4 792.4 100.8 791.5 100.3 790.2 101.1 789.9 101.1 789.5 101.4 789.1 101.7 788.9 101.7 787.8 101.7 788 101.8 786.3 101.9 786.2 102.5 785.4 102.3 784.8 102.4 784.7 102.8 784.3 103 783 102.8 782.6 103.3 781.5 103.3 786.8 103.5 792.5 103.6 797.7 103.8 803.3 104.1 809.9 104.3 808.2 104.7 808.8 104.3 806.5 104.6 806.4 105 805.5 104.9 804.3 105.2 805.8 105.3 804.5 105.3 803.9 105.6 801.9 105.8 802.2 105.5 801.8 105.9 801.7 106.3 799.8 106.7 800.4 106.4 799.3 106.4 797.9 106.8 798.9 106.9 795.7 107 797.2 107.6 795.5 107.5 795.9 107.8 795 107.7 795.5 107.7 793.7 108.4 792.3 108.3 792.6 108.6 792.7 108.5 791.6 108.7 790.1 108.9 789 109.2 789.3 109.2 788.3 109.4 788.2 109.5 786.9 109.5 786.7 110.1 785.6 110.1 785.1 110.2 784.2 109.9 783.4 110.5 783.1 110.7 782.7 110.6 782.6 111.1 782.2 111.2 787.9 111.4 794.2 111.5 798.3 111.7 805.1 112 809.5 112.3 808.3 111.8 808.2 112.3 807.2 112.3 807.1 112.9 806.2 112.8 805.2 112.8 805.3 113 804.2 113.7 804.3 113.6 802.9 113.7 802.9 114.1 802.4 114.3 801.9 114.4 801.3 114.3 799 114.4 799.5 114.5 799.3 114.7 798.1 114.8 798.2 115 796.2 115.2 796.6 115.2 796.6 115.5 794.7 115.4 794.7 116.1 793.4 115.9 793.1 116.2 792.4 116.6 791.7 116.2 790 116.9 790.6 116.9 789.3 117 789 116.7 788.4 117.1 787.4 117.3 786.5 117.5 787.2 118 786.3 117.6 785.7 118.1 784.6 117.8 783 118 783 118.5 782.3 118.7 781.4 119 781.1 119 788.2 119.2 792.5 119.3 798.1 119.5 802.1 119.7 808.6 119.6 807.4 119.6 808.6 120.2 807.7 120.6 806.5 120.8 806.1 120.7 805.1 120.7 804.8 121.3 803.9 121.1 803.5 121.3 804.1 121.6 803.6 121.5 802.7 121.8 800.4 121.9 799 122.1 800.4 122.3 799.4 122.7 797.6 122.8 798.7 122.7 797.9 123.1 797.2 123.3 796.4 123.1 795 123.5 795.9 123.5 793.9 123.8 793.2 123.8 792.4 124.2 792.2 124.4 791.2 124.3 790.1 124.7 790 124.8 789.6 125.2 788.7 124.9 788.4 125.1 787.9 125.2 787.2 125.7 785.7 125.5 787 125.8 785.6 125.9 784.7 126.4 784.3 126.3 782.6 126.6 783.1 126.7 782.5 127.2 781.6 127.1 786.7 127.3 793.9 127.4 800.2 127.6 804.5 128.1 808.3 127.8 808.7 128 808.2 128 808.8 128.5 806.6 128.8 805.4 128.7 805.3 128.8 805.3 128.8 804.8 129.3 803.9 129.5 802.8 129.2 802.6 129.8 802.6 129.7 801.4 130.2 800.5 130.2 799.7 130.2 799.8 130.6 798.8 130.5 797.9 130.6 797.4 130.9 797.6 131 796.1 131.1 795.5 131.3 794.3 131.5 794.5 131.9 794.2 131.9 793.4 132.1 792.5 132.2 792.1 132.2 790.1 132.4 791.1 132.5 790.4 132.9 788.8 132.6 787.6 133.2 788.5 133.2 785.9 133.2 786.6 133.3 785.3 133.7 785.1 133.8 785.3 133.9 784.2 134.1 784.7 134.2 783.3 134.5 783.1 134.4 781.1 134.7 786.7 134.9 792 135 796.9 135.2 803.9 135.5 808.7 135.7 809.3 135.6 808 136.2 807.6 136.1 807.6 136.2 805.6 136.3 805.2 136.5 805.1 136.9 803.7 137 804.2 136.9 803 137.1 802.2 137.3 801.9 137.6 800.8 137.7 800.9 137.8 799.8 138 798.5 138.4 797.4 138.2 797.3 138.3 796.3 138.8 796.4 138.8 796.2 139.3 795.8 139.2 794.2 139.1 793.3 139.5 792.8 139.7 793.5 139.8 793 139.9 791.2 140.3 791.7 140.2 789.4 140.6 790 140.5 788.8 140.6 787.8 141.1 787 141.4 786 141.2 787 141.5 787.1 141.6 785.8 141.6 783.1 142 783.6 142.1 784.3 142.5 783 142.1 782 142.2 781.4 142.7 786.7 142.9 791.7 143 796.9 143.2 803 143.4 809.1 143.5 808.9 144 808.4 143.9 807.1 143.9 807.2 144.3 805.9 144.7 806 144.7 804.2 144.6 805.4 144.9 803.9 145.3 802.4 145.1 801.9 145.3 801.8 145.9 801.8 145.6 799.7 145.6 799.8 146.4 799.6 146.1 799.3 146.5 798.1 146.5 796 147.1 796 147 795.1 146.9 794.2 147.4 794.6 147.3 793.8 147.6 794.2 147.9 793.4 148 793.1 147.8 791.7 148.4 790.6 148.7 791.1 148.9 790.1 149 789 149.3 789 149.3 787.9 149.3 787.3 149.6 787 149.5 786 150.3 785.6 150.2 784.6 150 784.2 150.4 784 151 783.2 150.6 782.9 151 781.9 151.1 788.7 151.3 793.9 151.4 797.6 151.6 804.1 151.5 809.7 151.8 808.7 152.1 807.9 152.1 808.5 152.4 806 152.7 805.5 152.7 806 153 804.9 153.4 805.1 153.1 803.7 153.2 803.3 153.7 801.5 153.6 801 154.1 800.9 154.2 800.8 154.4 799.6 154.4 799.3 154.6 798.6 154.6 798.4 154.9 798.3 155.1 795.9 155.5 795.8 155.2 795 155.3 794.6 155.8 793.7 155.7 793.9 156.1 792.7 156.3 791.7 156.4 791.4 156.8 791 156.6 788.8 156.6 788.4 156.7 789.2 157.3 788.3 157.5 788.1 157.6 786.1 157.7 786.6 157.8 786 157.8 785.3 158.2 784.9 158.3 784 158.7 783.8 158.3 783.8 158.7 782.5 158.8 781.9 159.2 787.3 159.4 792.9 159.5 798.6 159.7 804.3 160 809.9 160.1 809.1 160.1 807 160.4 808.5 160.6 806.7 160.7 807.1 160.7 806.8 161.3 804.2 161.1 804.4 161.4 803.5 161.3 803.1 161.8 802 161.8 801.1 162.4 800.9 162.2 800.2 162.1 798.6 162.4 798.4 162.8 799.1 162.9 797.8 163.2 797.1 163.2 796.7 163.3 796.1 163.8 796 163.7 795.2 163.6 793.9 164.1 793.6 163.9 793.5 164.5 791.4 164.5 792 165 790.2 164.7 791.2 165 789.5 165.1 789 165.5 788.8 165.3 787.6 166.1 785.6 165.8 786 165.8 784.9 166.7 784.4 166.4 784.1 166.7 784.3 166.9 782.6 167 783 167.1 781.7 167 781.6 167.4 787 167.6 791.3 167.7 798.8 167.9 803.9 167.9 808.9 168.2 809.1 168.4 808.4 168.9 807.7 168.8 806 168.8 806 168.9 805.6 169.2 805.2 169.1 804.3 169.6 803.4 169.6 803 169.9 802.7 170.1 801.7 170.2 801.3 170.2 800.1 170.5 800.4 170.6 798.4 170.8 798.6 171 798.7 170.8 797 171.2 797.1 170.9 796.2 171.8 795 171.7 795.3 171.8 794.2 172 794.2 171.7 792.5 172.5 792.1 172.6 792.1 172.9 790.2 172.6 790.6 172.6 788.8 173 788.3 173.2 788.4 173.4 788.1 173.9 787.1 173.6 786.9 174 784.1 173.8 785.5 174 785.3 173.7 784 173.9 782.8 174.7 782.3 174.4 781.9 174.5 780.9 175 788.3 175.2 791 175.3 797.1 175.5 803.4 175.9 810.1 175.6 808.8 175.9 808.6 176.3 807.6 176.3 807 176.4 806.7 176.8 805 176.7 805.8 176.9 805.8 177.3 803 177.1 803.5 177.3 802.7 177.7 801.9 177.8 802.6 177.6 802.1 178.7 801.2 178.2 801.1 178.1 799.4 178.4 798.2 178.5 797.9 179 798 179 797.2 179 796.3 179.1 795.8 179.3 796.1 179.8 794.7 179.9 793.4 180 794.3 179.9 792.4 180.3 792.1 180.3 791.5 180.8 791.9 180.6 791 181.3 790.1 180.9 789.3 181.2 788.8 181.2 788.7 181.2 787.8 181.4 787.1 181.9 786.4 182 784.8 182.1 785.7 182.4 784.3 182.4 784.3 182.8 783.7 182.8 789.2 183 794.5 183.1 801.3 183.3 805 183.4 809.5 183.6 809.9 183.8 808.8 183.9 808.7 184.1 806.8 184.6 807.3 184.5 806 184.6 805.5 184.9 805.9 184.8 805.2 185.1 804.5 185 803.9 185.4 803 185.6 801.9 185.9 801.7 185.7 801.8 186.2 801.3 185.9 800.3 186.5 800.1 186.5 798.9 186.9 798.5 186.5 797.3 186.4 797.6 186.8 795.9 187 795.6 187.2 794.9 187.5 795.3 187.8 793.6 187.8 793.8 187.9 792.1 188 792.9 188.7 791.6 188 790.6 188.9 791.6 188.4 789.9 188.9 789.4 189 788.5 189.1 787.5 189.3 787.4 189.4 786.5 189.1 786 189.9 785.6 189.7 786.2 189.6 784.5 190.4 784.3 190.4 790 190.6 792.9 190.7 801.2 190.9 804.9 190.5 811 190.9 809.3 191.6 809.8 191.7 810.3 191.5 808.5 192 806.9 192.2 806.6 192.1 806.9 192.2 805.9 192.2 805.9 192.6 803.7 192.6 804 193 803.7 192.8 802.8 192.9 802.6 193.7 800.7 193.2 799.9 193.6 800.7 193.9 798.9 193.9 799 194.2 798.8 194.3 798.3 194.4 797.2 194.4 796.8 194.9 796.2 195.1 795.4 195.3 794.9 195.3 794.2 195.2 794.4 195.5 793.1 196 793 195.7 791.9 195.8 791.9 196.1 790.8 196.3 789.4 196.4 789.4 196.8 788.5 196.8 788.7 197.1 787.7 197 787.5 197.1 786.2 197.4 785.7 197.3 784.8 197.6 784.5 197.8 784.8 198 789.5 198.2 794.2 198.3 801.7 198.5 805.3 199 810.9 198.9 810.1 198.9 810.5 199.7 809.9 199.2 809 199.2 808 199.7 807.2 199.7 806.9 199.7 806.5 200.4 806.4 200.2 805.7 200.4 805.1 200.6 803.1 201 801.8 200.8 803 201.2 802.3 201.2 801.4 201.3 801 201.7 800.6 201.6 800.6 201.8 798.9 201.9 799.5 201.9 798.9 202.1 796.3 202.3 797.2 202.7 795.7 202.8 795.3 202.9 795.2 202.7 794.9 203.2 794.3 203.4 793.7 203.9 792.1 203.8 791.7 204.2 791.7 204 790.7 204.4 789.1 204.5 789.2 204.5 788.5 204.6 788.6 204.9 787.2 204.8 787.2 205.2 785.7 205.3 785.6 205.3 785.3 205.5 784.8 205.7 788.8 205.9 795.8 206 801.4 206.2 805.6 206.8 810.9 206.7 811.2 206.7 810.6 207.1 808.7 207.1 809.6 206.8 810.2 207.2 808.2 207.3 807.1 207.6 806.3 207.5 806.4 207.8 804.8 208 804.4 208.1 803.7 208 803.6 208.1 803.7 208.8 802.9 208.6 802.2 208.9 801.1 208.8 799.9 209 800 209.1 799.4 209.1 798.6 209.5 798.7 209.3 797.9 209.5 797.5 209.9 796.7 210 795.8 210.1 795.1 210.3 794.8 209.8 794.5 210.5 793.8 210.6 792.1 211.3 792.7 210.8 791 210.8 790.9 211.2 789.7 211.5 790.3 211.4 788.6 211.7 788.4 211.7 789.1 211.6 787.3 212 786.5 212.2 786.2 211.9 784.1 212.3 784.9 212.6 790.8 212.8 795.1 212.9 801.8 213.1 807.3 213.7 812.2 213.3 811.6 213.7 810.3 213.9 810.6 213.4 810.1 214.1 808 214.4 807.6 214.3 808.2 214.2 806.5 214.8 805.4 214.2 805.8 215.3 804.2 215 804.3 214.9 804.3 215.2 803.4 215.6 803.1 215.4 802.4 215.6 801.3 216 801 215.7 801 215.8 799.3 216.4 798.3 216.6 798.5 216.6 798.1 216.8 797.8 216.5 796.8 217.1 797.4 216.8 795.8 217.6 797 217.6 793.7 217.9 794.6 217.7 794.1 217.6 792.2 217.8 792 218.4 791.6 218.1 790.2 218.5 789.9 218.5 789.6 218.5 788.4 218.6 787 218.9 787.6 218.7 788.1 219.2 786.4 219.3 785.9 219.7 785.6 219.6 789.9 219.8 796.4 219.9 801.4 220.1 807.1 220.6 812.8 220.3 811.5 220.5 811.4 220.6 810.4 221.2 810 220.9 809.5 221 808.6 221.3 808 221.6 808.2 221.7 806.8 221.9 805.2 221.9 806.2 221.9 805.4 222.2 805.4 222.1 803.9 222.1 803.1 222.7 803.3 222.9 802.2 222.8 801.3 223.1 801.1 223.4 799.5 223 799.5 223.6 799.4 223.7 798.5 223.8 798.4 224.1 796 224.2 796.3 224.2 796.5 224.6 796.3 224.5 794.8 224.8 793.5 224.9 793.4 225.1 794.1 225.2 793.9 225.2 791 225.6 791.1 225.6 790.9 225.7 790 225.6 789.2 226.2 788.2 226.1 786.6 226.4 785.6 226.6 786.6 226.5 786.9 226.6 785.1 226.9 791.2 227.1 796.3 227.2 801.7 227.4 807.2 227.6 811.9 228 812 227.8 811.3 227.9 810.9 228.1 810.9 228.6 811.2 228.4 809 228.7 808.7 228.8 807.2 229 807.9 229.1 807.2 229.5 805.2 229.1 806 229.6 804 229.8 805.1 229.9 803.7 229.9 803.3 230.3 802.7 230.1 801.1 230.4 801.4 230.5 799.9 231.1 801 231.1 798.8 231.2 798.9 231.7 798.1 231.6 798.8 231.7 797.1 231.7 796.7 232 796.5 232.1 795.7 231.9 792.8 232.3 793.7 232.6 793.2 232.9 792.3 232.8 790.5 233 792 232.9 791.2 233.1 789.2 233.4 789.8 233.8 788.4 233.7 787.9 233.8 787.5 233.9 786.8 234.2 786.2 234.3 785.8 234.5 791.3 234.7 797.2 234.8 801.9 235 808.8 235.2 814.3 235.6 813.2 235.8 812 235.7 811.5 235.7 811.2 236 810.6 236.3 810.3 236.4 808.6 236.5 807.9 236.5 807.6 236.6 807.7 236.8 806.8 237.1 807.3 237 804.6 237.6 803.7 237.4 804.8 237.6 803.6 238 803.7 237.9 802.4 238.2 800.8 238.6 800.3 238.6 801.7 238.3 799.9 238.5 798.9 239.3 799 238.8 798.9 239.3 797.3 239.3 796.5 239.7 796.2 239.8 795.9 240 796 240 793.9 240.2 793.7 240.5 792.3 240.3 791.6 240.7 790.8 240.6 791 240.6 791.1 241.1 790.7 241.5 790 241.7 788.5 241.6 787.9 241.6 787 242 786.3 241.8 785.6 242.2 790.6 242.4 798.5 242.5 802.8 242.7 807.8 243 813.7 243.3 812.8 243.1 813.4 243.1 812.9 243.4 811.4 243.3 810 243.9 810.4 244.1 810.3 244 810 244.3 808.6 244.6 808.4 244.5 807.7 245 806.6 244.7 807.1 245.2 805.2 245.1 805.4 245.3 804.2 245.5 803.2 246 802.5 245.6 802.2 246 801.8 246.2 801.1 246.5 800.1 246.5 799.5 246.7 798.8 247 799.3 247.2 798.3 247.2 797.7 247.2 797.1 247.4 795.2 247.6 793.8 248.1 793.8 248.1 793.5 248.1 794.2 247.9 793.6 248.4 792.2 248.3 790.8 248.9 791.3 249 790.6 249.4 789.8 249 789.2 249.1 788.1 249.4 787.9 249.4 787.6 249.8 785.6 250 793 250.2 797.8 250.3 804.9 250.5 809.5 250.6 814.8 250.7 814.2 251.2 813.7 250.9 812.3 251.5 812.5 251.4 812.2 251.4 810.3 251.5 810.6 252.1 809.7 252 808.5 252.4 807.8 252.4 808 252.5 807.1 252.5 807.2 252.9 806.4 253.1 805.6 253.3 806 253.7 804.2 253.6 802.7 253.4 803.6 254 801.9 254 800.7 254.2 800.2 254.4 799.8 254.7 800.6 254.4 799.5 254.7 797.7 254.8 798 255.2 797.3 255.2 794.6 255.6 794.6 255.7 794.7 255.3 795.1 255.6 793.8 255.7 793.5 255.7 794 256.2 792.8 256.4 792.2 256.6 790.3 256.7 790.3 256.7 789.9 256.8 788.1 257 788.1 257.1 787 257.4 786.7 257.6 792.9 257.8 798.2 257.9 804.6 258.1 809.5 258.2 816.3 258.9 814.6 258.5 814.8 258.5 812.3 258.6 812.5 259 812.5 259.2 810.8 259.4 811 259.5 810.5 259.7 808.7 260.1 809 259.9 808 260.1 807.8 260.4 807.1 260.6 806.5 260.7 805.1 260.6 805.1 260.7 805.3 261.1 803.7 261.3 802 261.6 801.8 261.3 802.7 261.7 800.9 261.5 800.7 261.9 800.1 262.1 799.4 262.1 800 262.2 798.1 262.5 797.3 262.6 796.5 262.9 796.1 263.1 795.3 263.2 794.9 263.6 794 263.7 794.1 263.4 793.5 263.4 792.3 264 793 264.1 790.4 264.6 790.7 264.5 789.9 264.5 789.4 264.6 788.5 264.8 787 265 786 265.2 792.3 265.4 799.9 265.5 804.7 265.7 810.8 265.7 816.1 266.4 814.9 266.3 814.8 266.1 814.3 266.3 813.5 266.7 812.6 266.8 811.8 266.9 811.5 267.1 810.6 267.2 810.8 267.4 808.3 267.6 808.5 268.2 808.2 268 807.4 268.2 806.7 268.2 807.1 268.2 805.6 268 805.8 268.8 804.6 268.7 803.3 269.1 803.6 269.1 802.6 269.2 800.9 269.3 800.8 269.7 801.2 269.9 799.5 270 798.9 270.2 799.1 270.4 798.1 270.5 796.1 270.9 796.5 270.6 796.7 270.5 794.7 271.3 794.1 271 794.7 271.2 792.5 271.1 792.4 271.6 793 271.8 790.2 272 791.2 272.1 790.3 272.5 789.7 272.4 789.2 272.6 787.8 272.7 787.1 272.9 792.1 273.1 799.6 273.2 804 273.4 810.7 273.3 816.4 273.6 814.9 273.7 815.2 274.2 815.4 274.2 814.4 274.5 813.3 274.6 813 274.5 812.9 274.7 810.7 274.8 810 274.8 810.2 275.5 809.3 275.5 808.9 275.9 808.6 275.6 807.5 275.9 806.5 276.2 806.6 276 804.5 276.3 805 276.6 803.9 276.6 803.1 277 802.4 276.8 802.8 277.2 801.5 277.2 801.7 277.3 800.6 277.4 799.6 277.3 798.7 277.8 798.1 278.1 796.8 278.2 797 278.4 796.8 278.4 795.9 278.6 796 278.7 794.3 279.1 793.4 279 791.9 279.1 792.3 279.6 791.5 279.2 790.5 279.8 790 279.6 789.6 279.6 789 279.9 788.6 280.3 787.5 280.4 794.5 280.6 800.1 280.7 805.5 280.9 811.7 281.3 817.3 281.6 816.8 281.5 815.6 281.2 813.9 282 814.9 281.7 813.5 282.1 812.9 282.1 812.1 282.2 812 282.6 810.9 282.6 811 283 808.9 283 809 283 807.9 283.3 807.7 283.4 807.6 283.4 806.1 283.4 806.2 283.7 805.9 283.9 804 283.7 804.1 284.2 802.6 284.3 802.7 284.5 802.4 284.6 801.2 284.8 801.2 285 799.5 284.9 799.2 285.1 797.3 285.5 798.1 285.5 796.6 285.6 797.5 285.9 796 285.7 794.5 286.2 793.7 286.2 793.4 286.6 792.8 286.5 791.6 286.5 791.3 286.8 790.3 286.8 791.1 287.4 789.4 287.3 788.2 287.3 788.7 287.6 787.8 287.7 793.8 287.9 799.3 288 805.8 288.2 811.8 288.6 818.1 288.4 816.6 289 816.1 288.9 814.6 289.1 815.3 288.8 814.8 289.4 813 289.6 813.1 289.5 811.1 289.8 812 289.8 810.5 290.1 809.8 290.4 809.6 290.2 809.3 290.8 808.9 290.5 807 291.1 806.2 291.1 807.3 291.2 807.5 290.9 805.9 291.8 803.8 291.8 803 291.8 803.2 292.5 802.2 292.3 800.6 292.6 801 292.4 799.8 292.8 799.7 292.6 799 293.3 798.6 293.1 797.6 293.6 796.4 293.4 796.6 293.7 795.3 293.7 793.8 294 793.9 294.2 793 294 791.8 294.2 791.6 294.8 790.3 294.9 790.6 295 789.4 295.3 789.4 295.1 789.5 294.9 787.6 295.6 795.3 295.8 799.7 295.9 805 296.1 812 296.3 818.3 296.3 817.8 296.3 817.2 296.5 815.8 296.6 816.5 296.9 815 297.1 814.2 297.3 813.7 297.8 811.1 297.5 811.8 297.9 812 298.3 810.8 297.9 809.8 298.2 809.7 298.3 808.7 298.7 807.2 298.7 807.1 298.7 806.7 298.8 804.8 299.4 805.1 299 804.7 299.3 803.4 299.8 803.4 299.7 802.3 299.7 802.7 300 801.7 300.1 800 300.4 799.9 300.7 799.3 300.9 797.5 300.7 797.8 300.5 796.3 301.1 795.7 301.2 795.4 301.5 794.7 301.7 793.7 301.8 792.8 301.4 791.4 301.7 792 302.4 791.1 302.2 790.6 302.5 790.6 302.6 789.9 302.6 788.7 303 788.8 303.1 794.1 303.3 799.7 303.4 806 303.6 811.9 303.6 818.2 304 818.7 304.2 817.9 304.3 816.3 304.8 815.7 304.7 815.4 304.9 813.8 304.8 814.5 304.8 812.9 305.3 812.1 305.3 811.4 305.6 810.6 305.9 809.7 305.6 809.2 306.3 808.3 306.1 808 306.6 807.3 306.5 806.1 306.8 804.7 306.8 805.3 307.3 803.8 307.5 804.3 307.5 803.7 307.8 803 307.6 802.7 308.3 802.2 307.9 800.2 308.6 800 308.9 799.8 308.8 798.4 309.2 798.1 308.8 796.9 309.1 796.5 309.3 795.8 309.1 794.7 309.7 794.2 309.8 794.4 310 792.4 310.2 792.6 310.2 792.6 310.7 792 310.9 791.8 310.9 790.2 310.8 790 311 788.3 311.4 794.1 311.6 801.1 311.7 807.1 311.9 814 312.3 818.7 311.8 818 312.5 818.4 312.2 817.2 312.6 817 312.6 815.8 312.7 814 312.8 814.1 312.8 814.7 313.4 814 313.4 811.5 313.3 811.7 313.8 810.9 313.5 810.7 313.7 809.7 313.8 808.5 314.1 808.4 314.1 807.8 314.4 806.4 314.4 806.7 314.3 804.8 314.6 803.5 314.9 803.3 314.9 803.8 314.9 802.7 315 801.8 315.1 801.1 315.4 801.4 315.2 800 315.3 799.6 315.8 799.2 315.6 799.5 315.9 797.8 315.9 797.3 316.2 795.6 316.2 794.8 316.4 795.1 316.6 793.6 316.4 793.1 316.8 792.3 317.1 791.3 317.3 791.2 317.1 789.6 317 789.9 317.4 788.5 317.5 796.3 317.7 801.1 317.8 808.4 318 813.1 318 820.3 318.4 819.3 318.6 818.6 318.6 817.9 318.8 817 318.9 816.8 318.8 815.4 319.4 814.3 319.6 813.8 319.7 813.1 319.6 813.2 320 811.9 320 810.2 320.3 809.8 320.1 810.3 320.4 808.9 320.6 809.1 320.6 808.4 320.7 806.6 321.2 806.3 321.4 804.9 321.1 805 321.8 803.5 321.5 804.2 321.9 803.6 322 802.3 321.9 800.7 322.3 799.2 322.2 800.6 322.3 799.3 322.7 798.5 322.7 797.7 322.7 797.4 323 796 323.2 795.6 323.5 795.5 323.3 794.2 323.6 793 323.7 793.5 324.1 792.3 324.3 793.2 324.5 789.9 324.7 791.3 324.6 790.1 324.6 788.3 324.9 796 325.1 801.2 325.2 808.3 325.4 814.9 325.5 819.5 325.8 819.8 325.6 818.7 326.2 817.9 326.2 817.1 326.4 816.4 326.4 815.8 326.8 815.3 326.9 815.1 326.8 813.3 327.1 813.9 327.2 812.9 327.6 813.7 327.6 811 327.6 809.1 328 809.8 327.7 808.6 328.1 807.7 328.1 807.6 328.5 805.5 328.5 805.7 329 806.3 329.1 805 329 803.8 328.9 802.1 329.5 803 329.5 802.7 329.9 801.1 329.7 800 329.8 799.1 330 798.3 330.2 798.1 330.6 798 330.8 797.1 330.6 795.7 330.8 795.6 331.1 795.7 331.2 794.4 331.4 792.9 331.4 792 331.5 792.1 332 790.3 331.6 790 332.3 789.3 332 789.6 332.4 795.6 332.6 801.6 332.7 808.2 332.9 815.7 333.3 821.4 333.4 820.1 333.6 819 333.7 818.2 333.8 818.6 333.8 817.9 334.3 817 334.5 816 334 814.1 334.5 814.6 334.4 812.6 334.6 812.9 334.8 811.4 335.4 812 335.2 811.7 335.3 809.9 335.5 809.3 336 808.4 335.8 808 336.2 807.3 336.2 806.8 336.6 806.3 336.7 805.4 337.1 803.7 336.8 803.5 337.1 803.7 336.9 803 337.4 801.7 337.2 802 337.6 800.3 337.8 801.1 338 797.9 337.9 797.9 338.5 797.7 338.6 797.4 338.7 795.3 338.9 795.2 339.2 794.2 339.3 793.1 339.2 792.4 339.4 791.5 339.6 792.2 339.5 789.9 339.8 789.9 340.2 789.2 340.3 796.1 340.5 802.3 340.6 806.8 340.8 814.6 340.9 822.1 341.4 820.4 341.3 821 341.5 820.9 341.6 818.8 341.4 818.1 342 816.6 342.4 816.1 342.3 815.5 342.8 815.6 342.7 815.3 342.7 813.8 343 812.1 343.4 812.4 343.1 811.9 343.7 811.1 343.8 810.5 344 809.7 344.3 807.5 344.4 806.8 344.9 807.1 344.6 805.5 344.7 805.6 344.9 804.9 345.2 803 345.4 803.1 345.3 801.8 345.8 801.6 345.7 801 346 800 346.1 799.5 346.4 799.1 346.4 798.5 346.7 796.9 346.9 797.7 346.8 796 347.2 794.3 347.2 794.8 347.8 792.9 348 793.5 347.8 792.7 347.8 791.2 348.3 791.6 348.2 789.6 348.4 790.5 348.7 796.3 348.9 803.9 349 810.1 349.2 816.6 349.4 822.1 349.8 820.6 349.5 821.4 349.4 820.2 350.2 817.8 350.3 818.1 350.5 817.2 350.5 817.9 350.9 815.1 351 815.9 351.2 815.6 351.5 813.2 351.5 813.9 351.6 811.8 351.9 811.9 352.4 810.7 352.2 809.8 352.3 809.8 352.4 810.3 352.3 807.9 352.7 807.6 353 807.2 353.1 805.8 353.4 805.6 353.2 805 353.5 804.6 353.8 802.8 353.6 801.5 354.3 802.3 354.4 800.5 354.2 799.5 354.4 798.7 354.8 797.7 354.7 797.4 355.2 796.8 355.3 796.4 355.4 795.8 355.5 795.4 356 793.7 355.9 792.1 356.1 792.4 356.1 792.4 356.3 792 356.7 790.8 356.4 789 356.9 797.1 357.1 803 357.2 810.1 357.4 817.5 357.5 823.3 357.7 821.7 357.8 820 358.4 820.3 357.9 820 358.6 820.1 358.5 818.7 358.5 817.3 359.3 817.2 359.3 816.6 359.4 815.4 359.7 814 359.5 814.7 359.7 812.8 360.3 811.8 360.4 812.1 360.2 810.3 360.4 809.9 361 809.3 360.9 808.8 361.2 808 361.7 807.3 361.5 807 361.6 806.1 362.1 804.9 362.3 803.3 362 804.4 362.3 802.1 362.4 802.6 362.6 799.7 363 800.8 363.1 799.8 363.6 798.3 363.5 797.7 363.7 796.7 364 796.7 363.8 796.3 364.3 794.2 364.5 794.3 364.9 793.8 364.9 793.2 364.9 792.6 364.9 792.1 365.4 790.4 365.5 789.5 365.7 797.2 365.9 801.2 366 809.8 366.2 814.7 366.7 822.2 366.9 822.2 367 821 366.7 821.2 367.3 820.4 367.8 818.4 367.9 818.9 368.3 816.9 368 817.5 368.1 815.7 368.2 815.2 368.9 814.9 368.6 813.5 369 812.4 369.3 811.3 369.4 811.4 369.6 810.5 370 809.5 370.1 809.3 370.4 807.2 370.5 808 371.1 806.3 370.5 807 370.9 805.8 371.2 804.4 371.3 804.3 371.8 803.1 371.8 803.5 372.3 801.9 372.2 801.1 372.5 798.6 372.6 800 373.1 797.9 373.2 797.3 373.1 798.7 373.8 796.7 373.6 797 373.9 795.3 373.9 795.2 374.2 793.5 374.5 792.4 374.7 791.7 375 791.8 375 791.1 375.4 790.4 375.5 795.6 375.7 802 375.8 810.7 376 816.7 376.2 822.9 376.6 823.6 377 821.2 376.4 819.7 376.3 821.2 377 818.6 377.3 818.4 377.5 818.1 377.6 817.8 377.5 818 378.2 818 377.8 816.7 378.2 817.2 378.3 815 379.3 816 378.4 815.6 378.4 815.7 379.1 815.7 379.3 811.9 379.8 815 379.2 812.7 379.3 813.5 379.5 812.2 379.8 812.3 380.4 811 380.5 811.1 380.4 810.3 381.1 811 380.2 808.6 381.2 812 381.3 808.1 380.8 809.6 381.7 807.6 382.3 807.8 381.6 808.1 381.9 807.9 382.5 803.9 382.7 808.3 382.7 805.4 382.4 806.2 383.3 805.6 383 805.2 383.3 806 383.3 801.9 383.3 801.7 383.2 803.9 383 803 383.9 802.4 384.1 802.4 384.6 802.9 384.7 802.3 384.6 799.8 385.2 800.6 385.1 799.3 384.9 799.1 385.6 797.5 385.7 797.5 385.8 796.4 385.5 796.1 386 802.6 386.2 810.5 386.3 814.8 386.5 821.1 386.6 828.8 386.6 826.5 387.2 828.6 387.3 829.1 387.7 826.8 387.3 826.6 388.1 824.8 387.7 824.8 388.1 824.8 388.1 825.5 388.3 825.2 388.4 824.3 388.8 820.8 388.1 822.7 388.2 821.1 388.8 822.4 389.1 821.7 389.4 821.3 389.1 820.8 389.7 821.9 389.7 821.3 390.1 819.9 390.2 819.5 389.8 822.2 390.4 820.7 391 820.1 390.6 818.4 390.8 818.6 391.5 817.4 390.9 817.2 391.4 817.3 390.9 815.6 391.9 815.2 391.7 815.6 391.8 814.8 391.1 815.6 392.5 813.2 392 814.3 392.2 813.8 392.3 813.7 392.4 811 392.6 813.3 393.4 812.1 393.3 812.1 393.1 811.9 393.7 811.5 393.1 810.2 394.2 809.6 394.3 810.9 394.2 810.6 394.2 808.8 394 807.4 394.7 808.1 394.3 808.4 394.6 808 395.4 807.7 394.8 808.3 395.4 807.2 395.4 805.5 395.7 812.4 395.9 817.9 396 825.3 396.2 831.8 396.6 835.5 396.9 838.9 396.7 837.8 397.2 837.4 396.6 836 397 834.4 397.2 835.6 397.5 836.6 397.5 836.3 397.6 834 398.1 835.6 397.8 833.3 398.1 832.7 398.7 833.6 398.7 831.4 398.7 829 398.6 832.6 398.5 830.5 399.3 827.8 399.3 829.9 399.5 829.5 399.5 825.8 399.6 828.3 399.8 827.4 400.5 827.4 400 825.9 400.4 827 400.6 825.8 400.9 826.7 400.6 825.5 400.8 824.2 401 825.2 401.3 823.4 400.8 823.1 402 822.4 400.9 822.4 401.6 822.7 401 822.8 401.7 822.7 402.7 819 402.4 821 402.4 822.4 402.7 819.7 402.7 816.8 403.1 817.5 402.8 818.3 403.2 817.1 403.5 818.5 403.4 816.5 404.4 817.3 403.6 816.5 403.9 814 403.1 815 404.8 815.4 403.8 813.8 404.9 814.5 405 813.6 404.6 813.2 404.8 810.5 405.2 819.1 405.4 826.3 405.5 830.5 405.7 838.6 406.2 845.9 405.4 845.5 406 846 405.9 843.4 406.4 843.6 406.6 843.1 406.5 842.7 406.6 841.5 407.4 841 407.4 840.9 408 841.3 408.4 839 407.8 839.8 408.3 838.4 408.3 837.3 409.2 840.1 408.2 838.9 408.5 838.3 408.7 835.7 409.1 834.1 408.4 837.9 408.9 833.1 409.7 835.9 409.6 834.9 409.2 830.9 409.7 831.3 410.6 831.3 410.4 832.4 409.9 830.1 410.3 830.2 411.4 829 410.5 829.4 411 829.4 410.6 828.5 411.5 828.3 411.4 824.7 411.6 827.1 412.3 828.2 412.3 826.4 411.9 825.3 412.2 825.3 411.9 824 412.6 823 413.4 823.6 412.7 822 412.8 821.1 413.2 822 414.2 819.9 413.6 820 414.1 819.1 414 818.3 414.3 817.9 414.5 820.4 414.7 817.1 415.2 818.1 414.7 815.6 415.4 817.3 415 815.2 415.2 814.5 415.5 823.9 415.7 830.7 415.8 838.5 416 847.1 415.5 855.3 416.8 855.4 416.7 852.1 416.4 854 417.4 851.5 416.4 853.2 417.3 852.5 417.8 850.3 417.2 852.3 417.5 848.8 417.9 848.8 417.6 848.6 417.8 848 418 845.9 418.2 845.8 418.4 844.7 418.9 843.1 418.5 841.4 419 844.5 419.6 842.2 419.4 841.6 419.8 840.2 419.6 841.3 419.2 838.6 420.3 839.3 420 839.9 419.6 837.4 420.1 840.1 420 836.6 420.6 835.5 420.8 834.1 421.1 835 421.3 832.6 421.3 831.6 421.4 835.9 421.6 831.7 422.1 831 421.8 832.7 421.9 831.4 422.2 828.3 422.4 829.7 422.7 827 422.1 828.6 423 825.9 423 826.3 423.4 825.6 423.4 825 423.6 825.6 423.3 822.8 423.8 822.7 423.7 823.6 423.5 821.9 424.7 819.1 425.2 820.5 424.7 820.3 425.6 817.9 424.5 816.8 425.1 816.6 425.4 816.1 425.4 824.2 425.6 834.5 425.7 841.2 425.9 850 425.9 858.6 427 858.3 426.6 856.5 427 855 427.4 856.7 427.2 855.4 426.9 854.1 426.7 853.1 427.7 852.8 427.6 852.1 427.7 851.7 427.5 850.8 427.6 848.9 428.4 846.7 428.9 848.6 428.4 847.4 428.9 846 428.7 844 428.3 844.1 428.8 843.5 429.1 844.5 429.3 841.5 429.8 840.3 429.9 842.2 429.9 841.6 430.4 840.8 430.3 837.5 430.1 837.7 430.2 839.1 430.3 837.9 430.9 836 430.7 837 430.9 834.8 430.7 833.8 430.9 833.3 430.7 830.5 431.3 831.3 431.8 832.6 431.8 830.9 431.3 829 432.2 829.1 432.1 826.5 432.2 828.2 432.6 825.7 432.6 825.7 433 829 432.5 825.7 433 824 433.5 824.9 433.1 822.5 433.5 823.1 432.7 821.6 434.1 822.9 434 820.1 434.3 820.5 433.9 817.9 434.5 818.9 434.5 817.1 434.2 814.2 434.9 826.4 435.1 832.9 435.2 842.2 435.4 850.4 435.7 856.4 436 857.9 435.6 856.7 436.7 857.1 436 856 436.7 855.8 436.2 853.8 436.2 854.3 436.4 854.8 437.1 852.6 437.9 850.3 437.1 850.2 436.9 851.4 436.9 850.1 437.6 849 437.6 848.3 437.7 847.1 438.2 847.1 438.6 848 439 846.3 438.6 843.4 439 843.9 438.9 843.7 439.2 844 439.7 841.2 440 840.1 439.5 838.6 439.8 838.3 440.3 837.2 439.8 839.2 440.5 838.1 440.5 835.9 440.5 836.7 441 836.4 441.6 833.9 441 833.2 441.1 833.2 441.4 834.3 441.5 831.8 441 831.8 441.9 830.9 442.2 830.5 442.5 830.1 441.9 828.5 442.1 830 442.3 828.4 443.2 828.5 442.8 824.8 443 825.9 443.4 824.8 443.5 824 443.2 821.9 444.2 821.4 444.6 821.8 444.3 821.5 445.1 820.9 444.2 819.9 444.5 818.5 444.3 818.4 444.9 827.1 445.1 834.1 445.2 842.8 445.4 849.6 445.2 859.4 445.3 857.2 446.1 857.2 446 856.4 446.3 855.8 446.5 854.1 447.2 853.9 446.2 852.5 446.6 854.2 447 852.5 447.1 851 447.3 850.5 447.4 850.4 447.2 848.5 447.2 850.4 447.3 845 447.6 846.7 447.1 845.9 447.9 847.6 448.4 846.2 448.1 846.2 447.9 843 449 843.4 448.1 842.5 448.9 841.3 449.1 840.1 449 839.7 449.3 840.4 449.5 838.7 449.2 840.2 449.1 836.9 449.7 835.8 449.2 836.8 449.7 835.9 450.2 836 450.1 833.1 450.7 833.4 451 834.3 450.6 834.6 450.8 831.4 451.5 831.3 450.8 830 451.7 829.5 450.9 829.7 451.5 827.9 451.8 826.7 451 826.8 451.3 825.1 451.8 826.3 452.1 824.2 452.1 825.2 452.1 823.5 452.6 822.2 452 823.6 452.9 821.3 452.3 821.5 452.7 820.5 452.7 820.6 453 820.7 453.4 826.3 453.6 835.8 453.7 844.3 453.9 852.6 454.4 862 454.1 859.8 454.6 858.3 454.4 860.1 454.7 859.7 455 856.7 454.5 857.1 454.9 856.7 455.2 856.3 455.8 854.4 455.2 853.8 455.3 853.3 456.1 852.4 456 852 455.9 849.3 455.8 851.6 455.8 850.8 457.1 850.1 456.7 848.4 457.3 848.7 456.9 846.3 457.1 846.5 457.2 846.5 457.2 846 458.1 844.1 457 844.5 457.5 841.2 458.2 841.4 458.1 840.6 458 841 457.6 840.2 458.4 838.2 458.5 839.5 458.8 839.7 458.9 837.4 459.3 837.1 459 835.2 458.9 834.8 459.4 834.8 460.3 832.9 459.9 832.6 459.9 831.8 459.5 832.4 460.1 829.8 459.6 830.9 460.2 830.7 460.5 827.3 460.6 828.4 461.2 825.3 461 825.6 461 826.2 461.3 825.5 461.7 825.6 461.5 822 462.1 823.2 462.5 823.6 462.2 822.9 462 820.8 462.5 820.4 462.5 827.5 462.7 836.8 462.8 843.7 463 853.1 463.5 859.9 462.8 860.4 463.5 856.2 463.7 859 464.1 856.4 464.4 855.7 464.3 854.6 464.4 856.2 464.6 854.6 464.9 853.4 465 852.2 465.4 852.9 466 852.7 465.4 851 465 850.3 465.9 849.7 465.5 850.1 465.2 849.5 466.5 848.1 466.7 848.5 466.1 847.3 466.4 845.6 467.2 844.4 467.3 844.5 467.3 843.5 467.1 843.3 467.6 842.3 467.4 841.5 468.4 840 467.8 839.9 468.4 840 467.9 839.6 468.6 838.1 468.2 838.5 468.6 836.9 468.5 836.1 469.6 835.5 469.4 834 469.5 837.2 470 832.9 469.9 833.5 470 832.6 470.1 830.2 470 831.6 470.1 831 469.9 830.4 470.7 829.7 471.5 828.4 470.9 827.8 471.3 826.2 471 828.3 471.2 825.5 471.9 823.9 471.8 824.6 471.7 824.7 471.8 820.8 472.8 821.2 472.9 823.9 472.4 822.2 472.8 828.8 473 836.9 473.1 843 473.3 852.1 473.9 861.9 473.3 858.9 474.4 859.7 474.2 857.3 473.9 858.9 474.2 855.6 474 856.3 474.6 856.8 474.8 855.5 474.8 853 474.9 853.2 474.9 851.6 475.2 852.8 476.1 853.9 475.1 850.7 475.7 849.2 475.1 848.8 476.2 849.1 475.7 846.5 475.9 845.2 476.3 844.9 476.3 847.2 476.7 846.3 476.6 844.1 476.5 844.3 477 843 477.4 844.5 476.7 842.1 477.8 841.2 478.1 840.2 477.5 840.3 477.6 838 478.1 838.1 478.2 840.5 478.6 836.8 478.8 837.3 478.6 837.5 479.2 833.7 479.2 834.1 479.3 834 479.8 831.4 479.2 832.1 479.1 831.3 479.4 831.4 480.1 830.7 479.7 829.9 479.4 828.8 480.1 829.6 480.8 827.6 480.6 825.4 480.4 826.9 480.3 824.6 480.8 825.6 481 823.6 481.3 821.9 481.1 821.7 481.5 823.6 481.8 823.2 482 819.1 482 827.6 482.2 835.9 482.3 843.4 482.5 852.1 483.5 859.2 482.6 858.1 483.5 858.1 482.9 856.9 482.9 858.4 483.5 857.8 483.6 854.6 484 855.9 483.7 854.4 484.5 853.1 484.3 853.4 484.5 853.7 484.5 853.4 484.5 851.9 485.1 850.2 485.3 851.5 485.6 848.7 485.4 847 485.5 848.6 485.4 847.3 486 845.4 485.8 846.7 486.2 846.5 486.5 844.2 486.3 843.7 486.9 843.9 486.5 842.3 487.4 841.7 487.3 842 486.8 840 487.8 840.5 487.6 838.3 487.1 837.7 488.6 836.4 489 837.3 488.5 835.9 488.2 833.5 488.8 835.3 489 833.6 488.8 832.7 489.2 831.7 488.9 833.9 489.6 832.3 489.5 830.9 489.5 832.2 489.4 829 489.7 828.2 490.4 829.8 489.8 826.6 489.8 826.3 490.8 821.8 491 823.5 490.7 823.8 490.9 823 491.4 821 492.1 823.8 491.4 821.5 491.5 819.6 491.4 823 492.2 829.4 492.4 836.6 492.5 844.7 492.7 853.3 493 860.5 492.8 861.6 493 860.4 493.9 858.9 494.1 859.7 493.9 856.1 494.3 857.6 494.2 855.2 494.4 852.4 494.8 857 494.8 852.5 495.3 853.5 494.5 850 494.5 849.6 495.5 849.8 495.4 850.7 495.6 851.1 495.6 849.7 496.6 849.7 496.2 849.1 496.1 848.1 496.1 845.6 495.8 846.1 496.6 845 497.2 845.7 497.5 840.4 497.7 843.3 497.7 840.9 497.4 840.8 497.5 842.6 498.1 838.6 498 839 498.1 837.8 498.8 838.4 498.2 835.3 498.9 837.1 498.8 835.9 499.5 835.2 499.5 833.3 499.1 833.3 499.6 834.7 499.6 831 499.6 828.3 500.2 833.2 500.2 828.8 500 829.8 500.5 827 500.8 827 501.3 824.8 500.7 825.2 501.3 825.5 501.4 825.2 501.6 825.8 501.3 823.5 501.7 822.3 502 820.8 502.2 821.2 502.3 822 502.4 820.5 502.8 828.2 503 836.1 503.1 843 503.3 853.2 503.5 859.7 504.3 859.9 503.7 858.6 503.8 858.8 504 857.8 504 857.7 504.7 857.4 503.8 856.1 504.8 856.3 504.6 854.2 505.2 853.4 504.9 853.3 505.9 854.6 506 852.6 505.3 851.6 505.9 847.4 506.2 850.7 506 849.7 506.7 846.7 506.4 847.1 507 846.3 507.2 846.6 507 846 508.2 844.7 507.5 842.7 507.8 841.9 507.1 842.5 507.8 841.9 507.8 839.4 507.8 841.2 508.7 840.6 508.4 837.6 508.2 837.8 509 837.3 508.9 837.8 509 835.4 509.3 834.1 509.4 834.3 509.5 833.5 510.2 833.4 509.5 835 510.3 830.5 510.6 833.1 510.4 829.8 510.8 828.3 510.8 829.9 511.3 828.6 510.9 826.5 511 827.3 512.1 827.3 512.1 827.4 512.1 824.4 512.5 823.1 511.6 823.3 512 821.1 512.6 821.5 512.2 820.2 513.1 821.5 513.1 818.3 513.1 828.7 513.3 836.1 513.4 844.7 513.6 852.5 513.5 861.3 514 861.5 514 859.8 514.3 857.7 514.2 859.4 514.6 856 514.6 856.8 514.8 855.9 514.9 854.2 515.1 855.4 514.9 854.2 515.5 853.4 515.3 851.5 515.5 851.3 516.1 850.2 515.7 849.7 516.3 851.3 515.4 848.9 515.8 846.8 516.9 845.8 515.7 846.7 516.8 844.2 516.9 844 517.9 845 517.7 845.7 516.5 841.7 517.8 843.2 517.9 842.9 518.2 840.5 517.9 841.5 518 841 517.6 837.8 518.1 837.5 518.1 837.4 518.6 836.8 518 835.6 518.5 835.7 518.8 834.1 519.8 834.8 519 831.5 519.4 831.4 519.8 832.9 519.9 831.2 519.6 829.6 519.5 829.2 520 827.3 520.5 828.2 520.4 827.9 520.7 826.7 520.5 824.9 520.8 824.7 520.7 824.2 521.6 825.4 520.9 821.3 521.3 823.8 521.3 820.2 521.3 821.9 522.2 820 522.4 820.2 522.2 828.1 522.4 834.6 522.5 844.3 522.7 855 522.8 859.7 522.6 860 523.3 859.2 523.8 858.6 523.3 858.8 524.1 858.8 523.5 854.7 523.7 856.3 523.4 853.7 523.9 854.8 524.3 854.9 523.8 855.7 524.9 851.7 524.6 852.8 524.8 852.1 524.3 849.6 524.8 849 525.6 849.9 525.2 848.6 525.9 847.4 524.9 848.2 525.9 846.5 525.7 845.4 525.7 843.5 526 846.8 526.5 844 525.9 844.7 526.6 839.3 527 840.4 526.7 840.9 526.9 839.9 527 839 527 838.8 526.4 838.1 527 839.5 527.6 834.7 528.1 837.5 528 836.3 527.5 834.4 528 837.2 528.1 832 528.5 835.4 528.3 830.2 528.4 831.3 528.8 829.8 528.7 829.9 529 829.8 528.9 829.3 529.2 829 528.7 827.1 529.2 825.7 530.2 828 529.1 824.4 530.1 824.7 530.3 822.6 529.8 824.1 530.1 822.4 530.6 821.6 530.6 819.9 530.5 829.3 530.7 836.8 530.8 845.9 531 852.3 531 861.2 530.8 861.4 531.7 858.9 531.2 860.8 531.4 857.5 531.6 857.9 532.4 856.7 532.4 857.2 533.1 857 532.3 855 532.5 855.1 532.4 854.5 532.6 851.7 532.9 850.8 532.6 852 532.8 850.6 533.5 848.8 533.6 851 533.6 849.3 533.5 849.1 533.5 848.7 533.8 847.8 533.4 846.1 534.6 846.5 533.5 843.4 534.1 847.1 534 844.5 535.1 842.3 534.6 844 535.3 843.4 534.9 841.9 535.5 841.8 535.2 841 535.7 838.9 535.6 837.6 535.8 837.7 535.7 838 536.4 837.5 536.6 834.5 536.7 836.1 536.8 834.8 536.8 835.2 537 832.1 536.8 832.7 536.8 834.8 536.9 831.5 537.4 831.1 537.2 829.7 537.3 830.2 537.6 828.4 537.8 829.5 538.3 827.8 537.8 827.6 538.1 826.1 538.5 825.6 538.9 827 538.6 825.4 537.9 823.3 538.7 822.9 539 831.1 539.2 839.4 539.3 845.6 539.5 853.5 538.8 861.5 538.4 861.6 540.5 858.3 540.2 858.7 540.2 858.5 541.1 861.6 541 859.8 541 858.6 540.5 856.3 540.9 858.5 541.6 857.7 540.9 857 541.1 853.9 540.5 855.9 542.4 853.9 542.3 855.9 542.8 852.8 542.6 853.6 541.7 850.3 542 852.1 541.9 852 542.3 850.9 542.7 850.9 542.2 850.3 542.8 851.4 543.6 847.5 543.5 849.3 542.8 848.1 544.2 846.6 543.6 844.4 543.7 847.3 545 844 544.6 844.3 544.8 846 544.3 842.7 544.6 842.3 544.9 846.5 544.5 844.1 545.7 843.7 544.5 842.5 545 843.2 544.8 839.5 544.9 839.2 544.3 839.4 545.9 838.4 545.7 840.7 545.4 838.6 546.1 836.7 546.4 836.4 546.2 837 546.8 837.4 547.6 837.3 546.4 834.1 546.4 834.4 547.4 834.2 547.4 832.6 548.1 834.4 547.8 830.7 547.7 832.9 548.1 832.5 547.2 830.1 547.6 831.3 549 831 548.7 828.3 548.8 829.7 548.8 826.2 548.5 828.3 548.2 828 548.9 825.8 549.6 826.6 549.7 823.7 549.5 834.3 549.7 842.9 549.8 853.6 550 861.1 549 868.3 550.1 866.9 549.7 868 551.5 866.3" fill="none" stroke="#333" stroke-width="0.45" marker-start="url(#mf)" marker-mid="url(#mf)" marker-end="url(#mf)"/>
<path d="M551.5 866.3 550.7 868.9 550.4 866.7 550.6 868.6 551.5 868.7 551.1 868.6 551.9 864.3 551.6 867.4 552.1 863.6 551.9 863.2 551.9 865.6 551.9 865.7 552.3 864.2 552.3 863.5 551.3 864.1 552.5 863 553.1 862.9 552.7 860.3 553.3 861.8 553.4 860.3 552.3 861.2 552.4 859.6 553.6 862 553.6 860 552.8 857.5 553.4 860.1 554 859 554.3 857.7 553.4 859.6 553.5 856 553.1 857.8 555.2 854.5 554.1 856.8 555.2 857.1 554.4 857.1 554.6 855.6 555.3 855.1 554.5 851.5 555.4 851.7 555.8 851.3 556.1 851.2 555.6 852.7 556.5 849.5 555.7 849.2 556 851.6 556.2 848.5 556.3 848.3 556.2 848.6 556.7 847.6 557.2 846.1 556.2 849.1 557.1 847.4 557.7 850 556.5 845.9 556.1 843.8 557.5 847.3 558.3 845 558.4 845 558.5 841.7 558.7 841.2 558 843.4 558.9 841.7 558.3 842.3 558.6 843 559 840.9 558.1 841.2 558.6 841.7 560.2 841.1 559.2 851.1 558.9 861.7 559.2 872.4 559.8 883 559.9 893.6 559.9 890.7 559.9 887.7 559.1 883.7 559.7 880.3 560.7 885.6 560.7 883.8 559.6 885.5 561.1 885 560.3 883.6 561.8 881.7 561 880.2 560.2 880.8 560.5 880.3 561.3 877.8 560.7 877.3 562.3 877.1 562.1 876.9 561 876.8 561.7 875.7 561.1 876.2 561.4 874.7 562.1 879.4 562.4 874.5 563.3 874.1 562 873.2 563.3 874.6 563.7 866.5 562.8 873 564.7 870.2 562.7 871.4 563.5 869.6 563.6 869.1 563.4 871.4 563.4 871.8 564.3 867.8 563.7 866 564.8 868.5 564 868 563.2 868.3 564.3 865.9 564.5 864.4 563.8 862.8 565.8 862.2 565.9 862.5 565.8 862.4 565.1 863.7 565.7 859.8 565.9 865.1 565.4 862.6 566.4 860.7 566.1 862.5 566.7 858.7 565.5 856.7 566 859.6 566.8 858 566.5 857 566.5 855.6 566.7 856.6 567 851.7 567.7 856.1 567.7 853.9 567.8 854.2 568 854.3 567.5 854.3 566.8 850 568 847.2 567.4 853.8 568.4 851.8 567.5 850.7 568.3 847.7 567.9 850.9 568.9 849.6 568 845.9 569.2 857.6 569.1 867 568.9 876.5 569.1 885.9 569.6 895.4 569.6 893.3 569.6 891.3 570.6 889.6 569.2 893.4 569.8 887.2 569.7 888.1 570.2 886.1 570.7 887.8 570.7 888.1 570 885.3 571 888.4 570.4 885 570.3 883.7 570.8 883.6 571.4 882.7 571.8 884.6 572.2 880.8 572 882 571.2 879.5 571.1 881.2 572.8 882.3 572.8 879.5 572.4 878.6 572.9 879.3 572.2 877.9 573.9 880.3 572.7 876.6 573.4 875.4 573.8 875.4 573.1 876 573.4 877.6 573.1 873.8 574 874.4 573.2 874.8 575 873.8 574.8 871.8 575 868.6 573.5 867.2 574.9 870.4 575.4 869.4 576.2 868.7 575.8 870.4 575 865.8 576.4 868.5 576.1 865.9 575.6 865.6 575.2 865.8 576 865.5 576 866.3 576.8 863.2 577.2 865.8 577.4 860.1 578.2 860.1 577.3 863.3 576.6 861.7 577.3 865 576.8 861.5 577.7 860.7 578.4 860.5 578.4 861.1 578.6 859.9 578 860 577.6 854.9 578.2 857.2 579.6 856.6 578.9 857.4 579.1 852.9 579.1 854.3 579.4 857.8 579.5 852.7 579.7 854.9 579.9 855.7 579.9 853.9 580.4 864.4 580.5 876.2 580.5 888.1 580.5 899.9 580.9 911.8 580.9 907.3 580.9 902.8 580.9 894.8 581 899.8 581.5 898.8 580.3 895.2 581.3 894.3 581.4 898.3 581.6 895.6 582.3 892.4 582.1 894.6 581.8 893.9 582.6 893 582.3 894.1 582.7 893.4 581.3 891.1 583.4 891.3 583.2 891 584.1 888.8 582.5 889 583.1 890.2 583.5 887.4 584.7 887 584 886.5 583.8 888.9 584.1 883.1 585.6 883 584.1 883.3 585.8 882.4 584.5 882.3 585.3 880.5 586.2 879.7 584.8 881 585.1 878.2 584.9 883.1 586.2 879 585.8 880.3 585.8 880.1 584.7 878.7 586.3 875.5 586.4 875.9 586 874 586.7 875.4 586.1 872 587.6 869.2 587.7 873.7 587.4 871.6 586.2 873.5 587.6 871.1 586.7 868.6 587.5 871.7 587.4 868.9 588.3 867.6 589.1 869.4 587.9 868.3 590 868.8 588.8 864.6 589.2 868.4 589.1 866.5 589.1 862.3 589.5 865.1 590.1 864.6 589.5 862.9 589.8 863.2 589.1 862.7 589.4 860.9 590 862 590 858.1 589.5 858.3 590.8 859.1 589.6 859.7 590.5 856.7 591.5 855.1 590.7 869.7 591.3 882.2 590.8 894.8 591.3 907.3 591.8 919.9 591.8 914.8 591.8 909.7 592.7 905.8 590.9 906 592.4 904.9 591.7 903.5 592.4 902.5 592.3 901 593.1 902.2 593.2 900.6 592.6 898.9 593.7 897.8 592.6 898.4 593.7 899.7 593.1 896.9 594.1 898.3 594.1 898.2 593.4 898.5 593.9 894.9 594.1 893.7 594.8 898.2 594.3 892.5 594.4 890.3 593.1 892.3 594.7 891.9 595.1 889.8 595 892.1 594.8 888.3 595.9 885.3 595.4 887.7 596.8 886.5 594.8 884 595.3 888.8 596 883.7 595.9 882.5 596.7 883.7 595.8 879.2 597.4 883.6 596.6 883.9 596.3 879.1 596.6 882.6 597.2 879.2 597.1 879.5 597 875.8 597.4 876 597.2 876.8 597 875.7 597 878.6 597.5 875.5 599 872.8 598.1 874.1 598.4 874 598.3 870.4 598.9 873.6 598 874.7 598.3 871.1 598.4 871.6 599.1 865.9 600.1 872.1 599.3 867.1 600.1 866.7 598.8 866.7 598.5 867.7 600.4 867.9 599.7 862.5 599.5 865.3 600.4 862.6 600.5 863.4 600.1 862.7 601.4 857.8 600.3 861.9 601.7 856.8 601.4 857.9 600.7 870 600.9 881 601.2 892.1 601.1 903.1 601.7 914.1 601.7 911.8 601.7 909.6 601.6 908.7 601.6 906.3 602.5 902.6 602.3 906.8 602.5 902.9 602.3 905.4 602.1 902.1 602 901.4 603.3 902.1 603.3 903.5 603 902.7 604 898.3 603.8 899.3 603.1 897.1 602.9 897.1 603.6 898.8 604.7 895 603.8 897.3 604.1 895.7 604.4 896.2 603.2 893.8 605.1 891.2 605 891.2 604.9 891.8 605.3 891.5 605.7 890.2 604.8 890 606.3 892.3 605.6 889.1 606.6 889.5 606.6 885 606.9 886.8 606.1 884.4 606.7 882.7 605.9 882.9 606.6 881.8 607.3 882.2 607.3 881.5 608.3 881.8 606.8 879 608 879.6 607.5 881.1 608.7 876.9 609.3 876.5 608.4 874.6 609.2 876.7 607.8 872.9 608.4 871.7 609.8 872.5 609 871.1 608.7 870.1 610.3 870.1 608.7 871.1 609.3 871.4 610.9 870.8 610.3 867.9 610.1 869.8 609.7 866.2 610.5 865.4 609.4 865.1 610.6 863.3 611.1 862.9 611.6 862 610.9 861.5 610.9 860.5 609.7 861 611.7 859.1 611.3 860.9 612 859.7 612.5 856.9 611.9 859 612.1 866.6 612.3 877.3 612.4 885.4 612.6 896.6 613.2 906 613.6 905.7 612.8 905.1 613.3 905.6 612.1 902 613.1 901.8 613.8 902.4 613.8 902 614.5 899.9 614.7 901.3 614.6 900.8 614.1 899.2 614.4 902.6 614.3 902.4 613.8 898.9 614.8 896.8 614.7 896.1 614.8 896.8 614.5 893.3 614.5 892.4 616.4 895.1 615.3 891.9 615.4 889.7 616.5 889.3 615.7 890.6 616.3 886.8 616.5 889.9 616.5 889.7 616.6 889.3 616.7 887.7 616.2 886 616.9 888 618.1 887.1 617.6 886.5 617.2 881.5 617.2 883.3 617.3 883.4 618.2 880.9 617.7 879.9 618.6 879.1 619 881.5 618.2 879.4 618.2 880.8 618 877.9 618.9 875.9 619.2 877.3 619.1 876.5 618.7 873.8 618.9 877.9 620.5 875.3 619.4 875.3 619.6 871.6 620.1 872.1 620.1 869.7 620.4 870.1 619.8 871.1 620.7 871.1 620.7 870.5 620.4 869.6 620.7 865 620.8 867.7 621.2 863.7 621.4 867 620.9 861.9 622.9 863.1 621.6 861.6 621.8 860.5 622.4 863 621.4 862.9 622 861.9 622.9 860.6 622.3 875.6 622.7 891.6 622.7 907.6 622.6 923.6 623.3 939.6 623.3 928.5 623.3 917.3 623 906.8 623.2 906.1 623.5 909.6 623.2 904.7 623.8 904 623.9 907.1 623.7 904.3 624.5 902.1 624.1 902.9 624.8 904.6 625 901.2 625 900.1 625.1 900 624.2 894.3 624.9 899.9 625 898.8 626.3 900.6 625.7 896.5 625 897.3 626.6 895.4 624.8 892.4 626.4 894.4 625.9 891.2 625.7 892.3 627.3 892.7 625.3 890.4 627.4 888.7 627.1 891.3 627.2 888.2 626.7 888.6 627.9 888.5 628.1 887.4 627.9 887.3 628.1 886.9 627.6 884.7 628.4 883.1 628.1 882.3 628.3 884.7 629.2 880.2 629 883.1 629.1 877.5 628.7 880.5 629.4 878.4 629.3 876 629.7 874.6 629.5 874.7 629.9 876.4 630.3 875.2 630.5 873.3 629.6 874 631.1 874.9 631.2 873 630.3 872.4 631.3 872.7 630.9 867.3 631 870.5 631.9 870.5 631.5 866.7 631.6 865.9 631.5 866 630.8 867.7 631.8 864.6 632.7 865.9 631.2 866.8 631.4 862.9 632.3 861.7 631.3 863.2 632.3 862.4 633.2 861.2 633.2 861 634 861.9 633 874.3 632.7 889.6 633 904.9 633.7 920.2 633.9 935.5 633.9 926.2 633.9 916.9 633.6 907.9 634.4 909.2 635.1 906.7 634.8 908.1 633.9 908.2 634.8 906.9 635.1 904.7 635.9 902.3 634.8 903.3 634 900.3 635.8 904 636.6 903.1 636 899.8 635.9 900.7 636.3 900.1 636.6 900.9 636.2 898.7 635.9 897 636.6 894.6 636.4 894.7 636.4 894.2 637.7 895.4 636.7 893.2 637.1 889.2 637.3 894.5 637.7 890.4 637.7 887.5 636.6 889.1 638.2 888.4 638 890.4 638.1 886.9 638.4 886.8 638.5 887.3 639.1 884.8 639.4 884.4 638.8 886 638.8 882.8 639.2 884 639.2 881.9 640.4 880 639.7 883 640.5 881.2 638.6 878.2 639.6 878.8 640.1 874.4 640.7 874 640.3 876.3 640.2 875.8 640.8 874.7 640.9 874.3 641.2 874 641.9 870.7 641.8 873 641.3 874.3 642.2 874.5 641.7 871.4 641.6 871.9 642.9 869.7 642.1 867.8 642.6 865.9 642.8 865.3 643.1 865.9 642.3 865.8 643.6 863.4 643.2 862 643.4 862.4 644.6 863.7 643.6 862.4 643.4 861.7 643.4 859.2 644.4 861.6 643.7 873.5 644.8 888 644 902.4 644.4 916.9 644.9 931.4 644.9 924.8 644.9 918.3 645 911.8 644.4 911.3 645.5 910.7 644.4 911.2 645.9 908.9 646 908.8 645.7 906.5 646.8 908.7 646.3 910.7 645.9 904.8 645.4 903.6 646.1 905.8 646.8 904 646.8 899.1 646.8 900.2 647.5 902.4 647.8 904 646.5 900.4 647.7 896.8 647.8 900 647.4 896.2 647.8 895.3 647.5 895.4 648.2 893.6 648.7 892.3 648.9 893.5 648 892.8 649.4 891 648.9 888.9 648.8 888.4 648.6 889.2 649.2 887.8 650 885.3 648.9 884.9 650.6 887.2 650 881.9 649.8 884.1 649.1 884.9 650.3 883.8 650.5 881.1 650.6 882.4 651.2 879.8 650.2 880.5 651.6 881.1 651.2 880.9 649.4 877.8 651.7 877.9 650.8 874.7 652.8 874.5 651.6 873.2 651.3 871.5 652.3 872.9 652.7 874.5 653 874 652.7 871.5 652.5 872.3 653.8 866.7 653 867.8 653 869.1 653.2 865.3 653.3 862.1 653.2 865.4 654.3 863.3 653.3 860.6 654.3 861.4 654.3 861.2 655 860.3 654.9 861.4 654.5 859.6 655.2 858 655.1 857 661 865.4 660.9 868.5 662.2 872.2 661.1 874.1 660.1 876.2 661.2 876.2 660.6 881.7 660.6 883 661 883 660.5 887.5 661.7 890 660.9 892.9 661.4 894.9 661.1 896.8 660.7 896.7 659.8 902.9 661 905.5 661.2 907.2 660.1 908.8 661.3 910.2 660.7 916.3 661.4 917 660.1 920.1 661.2 923 661.8 923.8 661.1 924.6" fill="none" stroke="#444" stroke-width="0.45" marker-start="url(#mf2)" marker-mid="url(#mf2)" marker-end="url(#mf2)"/>
<line x1="182.5" y1="734.5" x2="182.5" y2="782" stroke="#1a1a1a" stroke-width="0.8" stroke-dasharray="2.5 2"/>
<line x1="375.3" y1="734.5" x2="375.3" y2="790" stroke="#1a1a1a" stroke-width="0.8" stroke-dasharray="2.5 2"/>
<line x1="537.3" y1="734.5" x2="537.3" y2="823" stroke="#1a1a1a" stroke-width="0.8" stroke-dasharray="2.5 2"/>
<rect x="42" y="766" width="630.5" height="175.5" fill="none" stroke="#151515" stroke-width="1.25"/>
<path d="M42 941.5v-3M42 766v3M199.5 941.5v-3M199.5 766v3M357 941.5v-3M357 766v3M514.5 941.5v-3M514.5 766v3M672 941.5v-3M672 766v3M120.8 941.5v-1.7M120.8 766v1.7M278.2 941.5v-1.7M278.2 766v1.7M435.8 941.5v-1.7M435.8 766v1.7M593.2 941.5v-1.7M593.2 766v1.7M42 766h3M672.5 766h-3M42 831h3M672.5 831h-3M42 896h3M672.5 896h-3M42 811.4h1.7M672.5 811.4h-1.7M42 800h1.7M672.5 800h-1.7M42 791.9h1.7M672.5 791.9h-1.7M42 785.6h1.7M672.5 785.6h-1.7M42 780.4h1.7M672.5 780.4h-1.7M42 776.1h1.7M672.5 776.1h-1.7M42 772.3h1.7M672.5 772.3h-1.7M42 769h1.7M672.5 769h-1.7M42 876.4h1.7M672.5 876.4h-1.7M42 865h1.7M672.5 865h-1.7M42 856.9h1.7M672.5 856.9h-1.7M42 850.6h1.7M672.5 850.6h-1.7M42 845.4h1.7M672.5 845.4h-1.7M42 841.1h1.7M672.5 841.1h-1.7M42 837.3h1.7M672.5 837.3h-1.7M42 834h1.7M672.5 834h-1.7M42 941.4h1.7M672.5 941.4h-1.7M42 930h1.7M672.5 930h-1.7M42 921.9h1.7M672.5 921.9h-1.7M42 915.6h1.7M672.5 915.6h-1.7M42 910.4h1.7M672.5 910.4h-1.7M42 906.1h1.7M672.5 906.1h-1.7M42 902.3h1.7M672.5 902.3h-1.7M42 899h1.7M672.5 899h-1.7" stroke="#222" stroke-width="1" fill="none"/>
<text x="42" y="954.6" font-size="11.3" font-weight="bold" text-anchor="middle">0</text>
<text x="199.5" y="954.6" font-size="11.3" font-weight="bold" text-anchor="middle">2000</text>
<text x="357" y="954.6" font-size="11.3" font-weight="bold" text-anchor="middle">4000</text>
<text x="514.5" y="954.6" font-size="11.3" font-weight="bold" text-anchor="middle">6000</text>
<text x="672" y="954.6" font-size="11.3" font-weight="bold" text-anchor="middle">8000</text>
<text x="38.6" y="769.8" font-size="10.6" font-weight="bold" text-anchor="end">1</text>
<text x="38.6" y="834.8" font-size="10.6" font-weight="bold" text-anchor="end">0.1</text>
<text x="38.6" y="899.8" font-size="10.6" font-weight="bold" text-anchor="end">0.01</text>
<text x="357.6" y="973.5" font-size="12.4" font-weight="bold" text-anchor="middle">Time (s)</text>
<text transform="translate(11.3 862.2) rotate(-90) scale(1 1.06)" font-size="12.4" font-weight="bold" text-anchor="middle">Admittance (mS)</text>
<text x="389.1" y="783.7" font-size="10.5" font-weight="bold" fill="#ff1010" textLength="62.7" lengthAdjust="spacingAndGlyphs">92.7 mM NaCl</text>
<text x="389.1" y="794.9" font-size="10.5" font-weight="bold" fill="#ff1010" textLength="62.7" lengthAdjust="spacingAndGlyphs">48.8 mM NaCl</text>
<text x="558.2" y="825.5" font-size="10.5" font-weight="bold" fill="#ff1010" textLength="62.5" lengthAdjust="spacingAndGlyphs">12.8 mM NaCl</text>
<text x="610.2" y="853.4" font-size="10.5" font-weight="bold" fill="#ff1010" textLength="57.9" lengthAdjust="spacingAndGlyphs">2.4 mM NaCl</text>
<text x="85.2" y="745.9" font-size="9.1" text-anchor="middle">92.7 mM</text>
<text x="85.2" y="756.3" font-size="9.1" text-anchor="middle">0.5 µL/min</text>
<text x="284" y="745.9" font-size="9.1" text-anchor="middle">48.8 mM</text>
<text x="284" y="756.3" font-size="9.1" text-anchor="middle">0.5 µL/min</text>
<text x="462.5" y="745.9" font-size="9.1" text-anchor="middle">12.8 mM</text>
<text x="462.5" y="756.3" font-size="9.1" text-anchor="middle">0.5 µL/min</text>
<text x="596" y="745.9" font-size="9.1" text-anchor="middle">2.4 mM</text>
<text x="596" y="756.3" font-size="9.1" text-anchor="middle">0.5 µL/min</text>
<line x1="118.3" y1="748.5" x2="250.5" y2="748.5" stroke="#1a1a1a" stroke-width="1.4"/>
<path d="M255.5 748.5l-6 -2.6v5.2z" fill="#1a1a1a"/>
<line x1="317.4" y1="748.5" x2="424.1" y2="748.5" stroke="#1a1a1a" stroke-width="1.4"/>
<path d="M429.1 748.5l-6 -2.6v5.2z" fill="#1a1a1a"/>
<line x1="501.9" y1="748.5" x2="561.4" y2="748.5" stroke="#1a1a1a" stroke-width="1.4"/>
<path d="M566.4 748.5l-6 -2.6v5.2z" fill="#1a1a1a"/>
<line x1="630.9" y1="748.5" x2="667.5" y2="748.5" stroke="#1a1a1a" stroke-width="1.4"/>
<path d="M672.5 748.5l-6 -2.6v5.2z" fill="#1a1a1a"/>
<rect x="98.3" y="825.7" width="76.7" height="77.1" fill="#fff"/>
<path d="M99.6 899.5L170.3 839.4" stroke="#ff2a2a" stroke-width="1.1" stroke-dasharray="3.5 2.5" fill="none"/>
<path d="M96.1 898.9h8" stroke="#111" stroke-width="1.3"/>
<rect x="98.3" y="897.1" width="3.6" height="3.6" fill="#111"/>
<path d="M104.1 888.5h8" stroke="#111" stroke-width="1.3"/>
<rect x="106.3" y="886.7" width="3.6" height="3.6" fill="#111"/>
<path d="M131.7 856.5h8" stroke="#111" stroke-width="1.3"/>
<rect x="133.9" y="854.7" width="3.6" height="3.6" fill="#111"/>
<path d="M165.3 841h8" stroke="#111" stroke-width="1.3"/>
<rect x="167.5" y="839.2" width="3.6" height="3.6" fill="#111"/>
<rect x="98.3" y="825.7" width="76.7" height="77.1" fill="none" stroke="#151515" stroke-width="1.1"/>
<path d="M98.3 902.8v-2.6M98.3 825.7v2.6M113.6 902.8v-2.6M113.6 825.7v2.6M128.9 902.8v-2.6M128.9 825.7v2.6M144.3 902.8v-2.6M144.3 825.7v2.6M159.6 902.8v-2.6M159.6 825.7v2.6M174.9 902.8v-2.6M174.9 825.7v2.6M106 902.8v-1.5M106 825.7v1.5M121.3 902.8v-1.5M121.3 825.7v1.5M136.6 902.8v-1.5M136.6 825.7v1.5M151.9 902.8v-1.5M151.9 825.7v1.5M167.2 902.8v-1.5M167.2 825.7v1.5M98.3 902.8h2.6M175 902.8h-2.6M98.3 880.7h2.6M175 880.7h-2.6M98.3 858.7h2.6M175 858.7h-2.6M98.3 836.6h2.6M175 836.6h-2.6M98.3 891.8h1.5M175 891.8h-1.5M98.3 869.7h1.5M175 869.7h-1.5M98.3 847.6h1.5M175 847.6h-1.5" stroke="#222" stroke-width="1" fill="none"/>
<text x="98.3" y="917" font-size="10.8" font-weight="bold" text-anchor="middle">0</text>
<text x="113.6" y="917" font-size="10.8" font-weight="bold" text-anchor="middle">20</text>
<text x="128.9" y="917" font-size="10.8" font-weight="bold" text-anchor="middle">40</text>
<text x="144.3" y="917" font-size="10.8" font-weight="bold" text-anchor="middle">60</text>
<text x="159.6" y="917" font-size="10.8" font-weight="bold" text-anchor="middle">80</text>
<text x="174.3" y="917" font-size="10.8" font-weight="bold" text-anchor="middle">100</text>
<text x="95.2" y="906.7" font-size="10.8" font-weight="bold" text-anchor="end">0.0</text>
<text x="95.2" y="884.6" font-size="10.8" font-weight="bold" text-anchor="end">0.2</text>
<text x="95.2" y="862.6" font-size="10.8" font-weight="bold" text-anchor="end">0.4</text>
<text x="95.2" y="840.5" font-size="10.8" font-weight="bold" text-anchor="end">0.6</text>
<text x="137.2" y="933.6" font-size="10.1" font-weight="bold" text-anchor="middle">Concentration (mM)</text>
<text x="72.4" y="871.3" font-size="10" font-weight="bold" text-anchor="middle" transform="rotate(-90 72.4 871.3)">Admittance (mS)</text>
<text x="111.6" y="841.6" font-size="12.5" fill="#111">R<tspan font-size="7.5" dy="-4.5">2</tspan><tspan dy="4.5">=0.98</tspan></text></svg>
</body></html>
